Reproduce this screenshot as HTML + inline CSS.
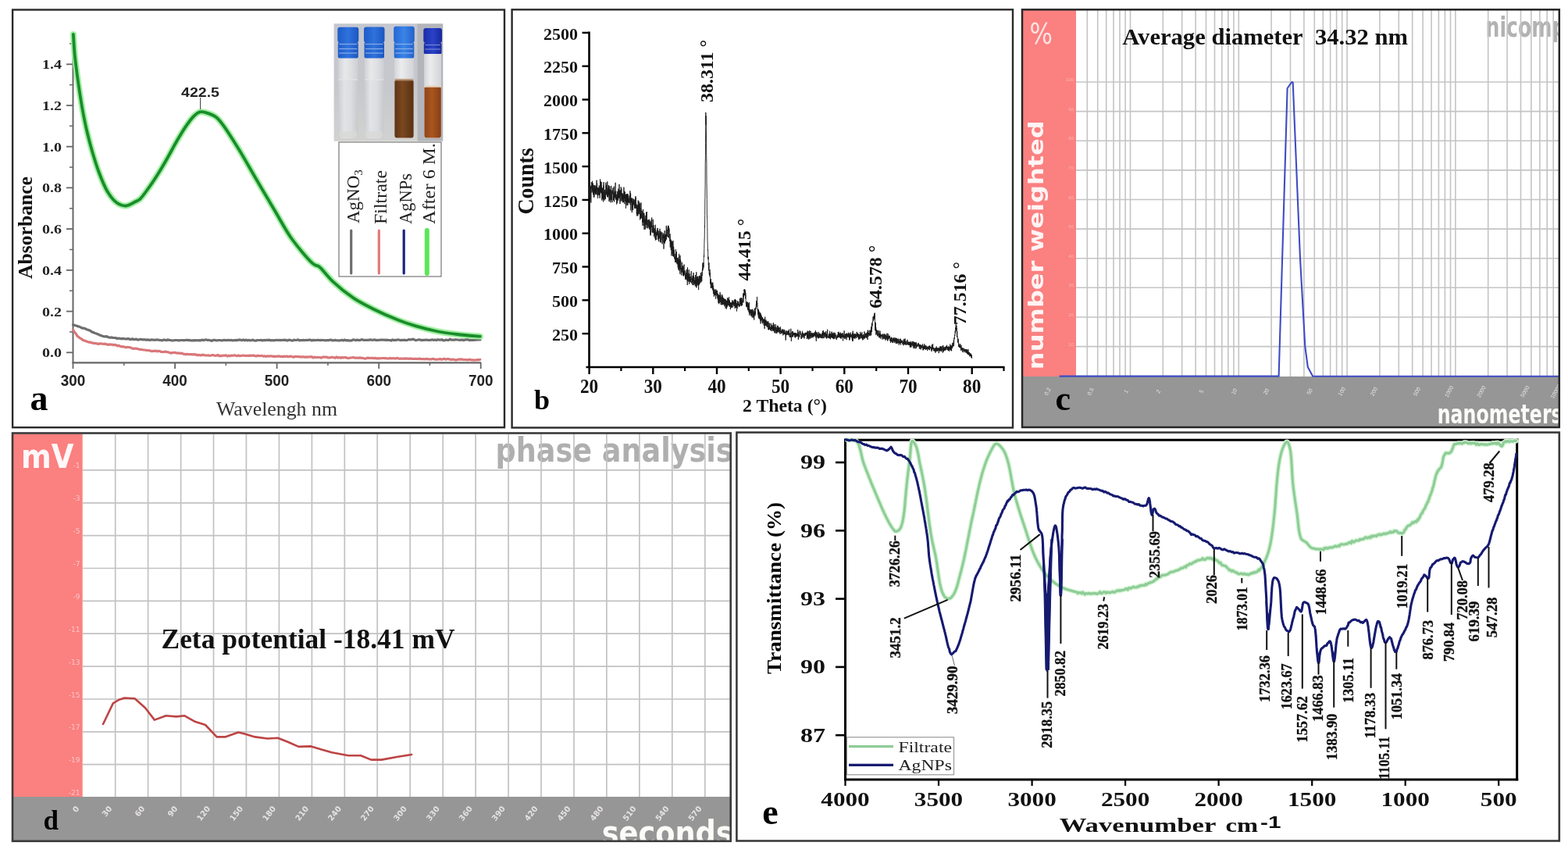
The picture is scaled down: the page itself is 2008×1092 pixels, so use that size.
<!DOCTYPE html><html><head><meta charset="utf-8"><title>Figure</title><style>html,body{margin:0;padding:0;background:#fff;overflow:hidden;width:2008px;height:1092px;}svg{display:block;}</style></head><body>
<svg width="2008" height="1092" viewBox="0 0 2008 1092">
<rect x="0" y="0" width="2008" height="1092" fill="#fff" stroke="none" stroke-width="0" />
<rect x="16.1" y="12.5" width="629.9" height="534.7" fill="none" stroke="#2a2a2a" stroke-width="2.4" />
<defs><linearGradient id="bgph" x1="0" y1="0" x2="0" y2="1"><stop offset="0" stop-color="#c4c7cf"/><stop offset="0.55" stop-color="#c6c8cc"/><stop offset="1" stop-color="#d2d3d0"/></linearGradient><linearGradient id="vialw" x1="0" y1="0" x2="1" y2="0"><stop offset="0" stop-color="#cccdd1"/><stop offset="0.3" stop-color="#e2e3e6"/><stop offset="0.65" stop-color="#dcdde0"/><stop offset="1" stop-color="#c8c9cd"/></linearGradient><linearGradient id="vialt" x1="0" y1="0" x2="1" y2="0"><stop offset="0" stop-color="#d4d5d9"/><stop offset="0.35" stop-color="#ececee"/><stop offset="1" stop-color="#d2d3d7"/></linearGradient><linearGradient id="brn1" x1="0" y1="0" x2="1" y2="0"><stop offset="0" stop-color="#5e3414"/><stop offset="0.4" stop-color="#7a4820"/><stop offset="1" stop-color="#5a3012"/></linearGradient><linearGradient id="brn2" x1="0" y1="0" x2="1" y2="0"><stop offset="0" stop-color="#8e4418"/><stop offset="0.45" stop-color="#aa5620"/><stop offset="1" stop-color="#883e16"/></linearGradient><linearGradient id="cap1" x1="0" y1="0" x2="1" y2="0"><stop offset="0" stop-color="#1f5cc8"/><stop offset="0.5" stop-color="#2f72dc"/><stop offset="1" stop-color="#1c56c0"/></linearGradient><linearGradient id="cap3" x1="0" y1="0" x2="1" y2="0"><stop offset="0" stop-color="#2468d4"/><stop offset="0.5" stop-color="#3a84e6"/><stop offset="1" stop-color="#2262cc"/></linearGradient><linearGradient id="cap2" x1="0" y1="0" x2="1" y2="0"><stop offset="0" stop-color="#1a2ca8"/><stop offset="0.5" stop-color="#2a42c8"/><stop offset="1" stop-color="#18289c"/></linearGradient><filter id="blurph" x="-5%" y="-5%" width="110%" height="110%"><feGaussianBlur stdDeviation="0.7"/></filter></defs>
<clipPath id="clipph"><rect x="427.6" y="30.3" width="139.7" height="150.5"/></clipPath>
<g clip-path="url(#clipph)"><g filter="url(#blurph)">
<rect x="425.6" y="28.3" width="143.7" height="154.5" fill="url(#bgph)" stroke="none" stroke-width="0" />
<rect x="534.6" y="28.3" width="34.7" height="154.5" fill="#b3b5ba" stroke="none" stroke-width="0" />
<rect x="433.3" y="74" width="25" height="103" fill="url(#vialw)" stroke="none" stroke-width="0" rx="3"/>
<rect x="433.3" y="74" width="25" height="28" fill="url(#vialt)" stroke="none" stroke-width="0" opacity="0.6"/>
<line x1="433.8" y1="102" x2="457.8" y2="102" stroke="#e6e6e8" stroke-width="1.2" />
<rect x="434.3" y="168" width="23" height="8" fill="#d8dad6" stroke="none" stroke-width="0" opacity="0.8" rx="2"/>
<rect x="432.3" y="34.8" width="27" height="19.7" fill="url(#cap1)" stroke="none" stroke-width="0" rx="3"/>
<rect x="432.8" y="54" width="26" height="20.5" fill="url(#cap1)" stroke="none" stroke-width="0" rx="2"/>
<line x1="434.3" y1="56.5" x2="457.3" y2="56.5" stroke="#9cb8ee" stroke-width="1.3" opacity="0.8"/>
<line x1="434.3" y1="62.5" x2="457.3" y2="62.5" stroke="#9cb8ee" stroke-width="1.3" opacity="0.8"/>
<line x1="434.3" y1="68" x2="457.3" y2="68" stroke="#9cb8ee" stroke-width="1.3" opacity="0.8"/>
<rect x="467" y="74" width="24.5" height="103" fill="url(#vialw)" stroke="none" stroke-width="0" rx="3"/>
<rect x="467" y="74" width="24.5" height="28" fill="url(#vialt)" stroke="none" stroke-width="0" opacity="0.6"/>
<line x1="467.5" y1="102" x2="491" y2="102" stroke="#e6e6e8" stroke-width="1.2" />
<rect x="468" y="168" width="22.5" height="8" fill="#d8dad6" stroke="none" stroke-width="0" opacity="0.8" rx="2"/>
<rect x="466" y="34.5" width="26.5" height="20" fill="url(#cap1)" stroke="none" stroke-width="0" rx="3"/>
<rect x="466.5" y="54" width="25.5" height="20.5" fill="url(#cap1)" stroke="none" stroke-width="0" rx="2"/>
<line x1="468" y1="56.5" x2="490.5" y2="56.5" stroke="#9cb8ee" stroke-width="1.3" opacity="0.8"/>
<line x1="468" y1="62.5" x2="490.5" y2="62.5" stroke="#9cb8ee" stroke-width="1.3" opacity="0.8"/>
<line x1="468" y1="68" x2="490.5" y2="68" stroke="#9cb8ee" stroke-width="1.3" opacity="0.8"/>
<rect x="505.2" y="74" width="24.6" height="103" fill="url(#vialw)" stroke="none" stroke-width="0" rx="3"/>
<rect x="505.2" y="74" width="24.6" height="28" fill="url(#vialt)" stroke="none" stroke-width="0" />
<rect x="505.4" y="102" width="24.2" height="74.5" fill="url(#brn1)" stroke="none" stroke-width="0" rx="3"/>
<rect x="505.7" y="100.8" width="23.6" height="2.6" fill="#b89878" stroke="none" stroke-width="0" opacity="0.85"/>
<rect x="504.2" y="33.7" width="26.6" height="20.8" fill="url(#cap3)" stroke="none" stroke-width="0" rx="3"/>
<rect x="504.7" y="54" width="25.6" height="20.5" fill="url(#cap3)" stroke="none" stroke-width="0" rx="2"/>
<line x1="506.2" y1="56.5" x2="528.8" y2="56.5" stroke="#9cb8ee" stroke-width="1.3" opacity="0.8"/>
<line x1="506.2" y1="62.5" x2="528.8" y2="62.5" stroke="#9cb8ee" stroke-width="1.3" opacity="0.8"/>
<line x1="506.2" y1="68" x2="528.8" y2="68" stroke="#9cb8ee" stroke-width="1.3" opacity="0.8"/>
<rect x="543.3" y="69" width="21.7" height="108" fill="url(#vialw)" stroke="none" stroke-width="0" rx="3"/>
<rect x="543.3" y="69" width="21.7" height="41.5" fill="url(#vialt)" stroke="none" stroke-width="0" />
<rect x="543.5" y="110.5" width="21.3" height="66" fill="url(#brn2)" stroke="none" stroke-width="0" rx="3"/>
<rect x="543.8" y="109.3" width="20.7" height="2.6" fill="#ead8c6" stroke="none" stroke-width="0" opacity="0.85"/>
<rect x="542.3" y="35.9" width="23.7" height="19.1" fill="url(#cap2)" stroke="none" stroke-width="0" rx="3"/>
<rect x="542.8" y="55" width="22.7" height="14" fill="url(#cap2)" stroke="none" stroke-width="0" rx="1.5"/>
<line x1="544.3" y1="57.5" x2="564" y2="57.5" stroke="#8a98dc" stroke-width="1.2" opacity="0.8"/>
<line x1="544.3" y1="63" x2="564" y2="63" stroke="#8a98dc" stroke-width="1.2" opacity="0.8"/>
</g></g>
<rect x="434" y="182" width="131" height="172" fill="#fff" stroke="#777" stroke-width="1.2" />
<line x1="449.7" y1="295" x2="449.7" y2="350" stroke="#6d6d6d" stroke-width="3.2" stroke-linecap="round"/>
<line x1="485.3" y1="295" x2="485.3" y2="350" stroke="#e07a7a" stroke-width="3.2" stroke-linecap="round"/>
<line x1="517.2" y1="295" x2="517.2" y2="350" stroke="#1a237e" stroke-width="3.2" stroke-linecap="round"/>
<line x1="546.8" y1="295" x2="546.8" y2="350" stroke="#5ae65a" stroke-width="6" stroke-linecap="round"/>
<text transform="translate(459.5,286) rotate(-90)" font-family="'Liberation Serif','Times New Roman',serif" font-size="23" font-weight="normal" fill="#222" text-anchor="start">AgNO<tspan font-size="15" dy="4">3</tspan></text>
<text transform="translate(495,287) rotate(-90)" font-family="'Liberation Serif','Times New Roman',serif" font-size="23" font-weight="normal" fill="#222" text-anchor="start" textLength="69" lengthAdjust="spacingAndGlyphs">Filtrate</text>
<text transform="translate(527,287) rotate(-90)" font-family="'Liberation Serif','Times New Roman',serif" font-size="23" font-weight="normal" fill="#222" text-anchor="start" textLength="65" lengthAdjust="spacingAndGlyphs">AgNPs</text>
<text transform="translate(557,287) rotate(-90)" font-family="'Liberation Serif','Times New Roman',serif" font-size="23" font-weight="normal" fill="#222" text-anchor="start" textLength="104" lengthAdjust="spacingAndGlyphs">After 6 M.</text>
<line x1="93.5" y1="43" x2="93.5" y2="465" stroke="#666" stroke-width="2" />
<line x1="92.5" y1="464.3" x2="616" y2="464.3" stroke="#666" stroke-width="2.2" />
<line x1="85" y1="451.3" x2="93.5" y2="451.3" stroke="#666" stroke-width="1.8" />
<text x="79" y="457.3" font-family="'Liberation Serif','Times New Roman',serif" font-size="17" font-weight="bold" fill="#222" text-anchor="end" textLength="25" lengthAdjust="spacingAndGlyphs">0.0</text>
<line x1="89" y1="424.9" x2="93.5" y2="424.9" stroke="#666" stroke-width="1.5" />
<line x1="85" y1="398.6" x2="93.5" y2="398.6" stroke="#666" stroke-width="1.8" />
<text x="79" y="404.6" font-family="'Liberation Serif','Times New Roman',serif" font-size="17" font-weight="bold" fill="#222" text-anchor="end" textLength="25" lengthAdjust="spacingAndGlyphs">0.2</text>
<line x1="89" y1="372.2" x2="93.5" y2="372.2" stroke="#666" stroke-width="1.5" />
<line x1="85" y1="345.9" x2="93.5" y2="345.9" stroke="#666" stroke-width="1.8" />
<text x="79" y="351.9" font-family="'Liberation Serif','Times New Roman',serif" font-size="17" font-weight="bold" fill="#222" text-anchor="end" textLength="25" lengthAdjust="spacingAndGlyphs">0.4</text>
<line x1="89" y1="319.5" x2="93.5" y2="319.5" stroke="#666" stroke-width="1.5" />
<line x1="85" y1="293.1" x2="93.5" y2="293.1" stroke="#666" stroke-width="1.8" />
<text x="79" y="299.1" font-family="'Liberation Serif','Times New Roman',serif" font-size="17" font-weight="bold" fill="#222" text-anchor="end" textLength="25" lengthAdjust="spacingAndGlyphs">0.6</text>
<line x1="89" y1="266.8" x2="93.5" y2="266.8" stroke="#666" stroke-width="1.5" />
<line x1="85" y1="240.4" x2="93.5" y2="240.4" stroke="#666" stroke-width="1.8" />
<text x="79" y="246.4" font-family="'Liberation Serif','Times New Roman',serif" font-size="17" font-weight="bold" fill="#222" text-anchor="end" textLength="25" lengthAdjust="spacingAndGlyphs">0.8</text>
<line x1="89" y1="214.1" x2="93.5" y2="214.1" stroke="#666" stroke-width="1.5" />
<line x1="85" y1="187.7" x2="93.5" y2="187.7" stroke="#666" stroke-width="1.8" />
<text x="79" y="193.7" font-family="'Liberation Serif','Times New Roman',serif" font-size="17" font-weight="bold" fill="#222" text-anchor="end" textLength="25" lengthAdjust="spacingAndGlyphs">1.0</text>
<line x1="89" y1="161.3" x2="93.5" y2="161.3" stroke="#666" stroke-width="1.5" />
<line x1="85" y1="135" x2="93.5" y2="135" stroke="#666" stroke-width="1.8" />
<text x="79" y="141" font-family="'Liberation Serif','Times New Roman',serif" font-size="17" font-weight="bold" fill="#222" text-anchor="end" textLength="25" lengthAdjust="spacingAndGlyphs">1.2</text>
<line x1="89" y1="108.6" x2="93.5" y2="108.6" stroke="#666" stroke-width="1.5" />
<line x1="85" y1="82.3" x2="93.5" y2="82.3" stroke="#666" stroke-width="1.8" />
<text x="79" y="88.3" font-family="'Liberation Serif','Times New Roman',serif" font-size="17" font-weight="bold" fill="#222" text-anchor="end" textLength="25" lengthAdjust="spacingAndGlyphs">1.4</text>
<line x1="89" y1="55.9" x2="93.5" y2="55.9" stroke="#666" stroke-width="1.5" />
<line x1="93.5" y1="464" x2="93.5" y2="472" stroke="#666" stroke-width="1.8" />
<text x="93.5" y="494" font-family="'Liberation Sans',Arial,sans-serif" font-size="20" font-weight="bold" fill="#222" text-anchor="middle" textLength="31.5" lengthAdjust="spacingAndGlyphs">300</text>
<line x1="158.8" y1="464" x2="158.8" y2="468" stroke="#666" stroke-width="1.5" />
<line x1="224.1" y1="464" x2="224.1" y2="472" stroke="#666" stroke-width="1.8" />
<text x="224.1" y="494" font-family="'Liberation Sans',Arial,sans-serif" font-size="20" font-weight="bold" fill="#222" text-anchor="middle" textLength="31.5" lengthAdjust="spacingAndGlyphs">400</text>
<line x1="289.3" y1="464" x2="289.3" y2="468" stroke="#666" stroke-width="1.5" />
<line x1="354.6" y1="464" x2="354.6" y2="472" stroke="#666" stroke-width="1.8" />
<text x="354.6" y="494" font-family="'Liberation Sans',Arial,sans-serif" font-size="20" font-weight="bold" fill="#222" text-anchor="middle" textLength="31.5" lengthAdjust="spacingAndGlyphs">500</text>
<line x1="419.9" y1="464" x2="419.9" y2="468" stroke="#666" stroke-width="1.5" />
<line x1="485.2" y1="464" x2="485.2" y2="472" stroke="#666" stroke-width="1.8" />
<text x="485.2" y="494" font-family="'Liberation Sans',Arial,sans-serif" font-size="20" font-weight="bold" fill="#222" text-anchor="middle" textLength="31.5" lengthAdjust="spacingAndGlyphs">600</text>
<line x1="550.4" y1="464" x2="550.4" y2="468" stroke="#666" stroke-width="1.5" />
<line x1="615.7" y1="464" x2="615.7" y2="472" stroke="#666" stroke-width="1.8" />
<text x="615.7" y="494" font-family="'Liberation Sans',Arial,sans-serif" font-size="20" font-weight="bold" fill="#222" text-anchor="middle" textLength="31.5" lengthAdjust="spacingAndGlyphs">700</text>
<text transform="translate(41,357) rotate(-90)" font-family="'Liberation Serif','Times New Roman',serif" font-size="25" font-weight="bold" fill="#111" text-anchor="start" textLength="131" lengthAdjust="spacingAndGlyphs">Absorbance</text>
<text x="277" y="531.8" font-family="'Liberation Serif','Times New Roman',serif" font-size="26" font-weight="normal" fill="#333" text-anchor="start" textLength="155" lengthAdjust="spacingAndGlyphs">Wavelengh nm</text>
<text x="38.5" y="525" font-family="'Liberation Serif','Times New Roman',serif" font-size="46" font-weight="bold" fill="#000" text-anchor="start">a</text>
<path d="M93.6,415.7 95.2,416.4 96.9,416.8 98.5,417.2 100.2,417.9 101.9,418.3 103.6,419.2 105.2,420.1 106.9,420 108.6,420.5 110.3,421.4 111.9,422 113.5,422.6 115.1,423 116.6,424.1 118.2,425.3 119.7,425.4 121.3,426.5 122.8,426.8 124.5,427.6 126.1,428 127.8,429.1 129.5,429.3 131.2,430.3 132.9,430.7 134.6,431 136.3,430.5 138,431.5 139.7,431.9 141.5,432.3 143.2,431.9 145,432.5 146.7,432.5 148.5,432.7 150.2,433.5 152,433 153.7,433.4 155.5,433.8 157.2,433.4 159,433.7 160.7,433.9 162.5,433.9 164.2,433.6 166,434.1 167.7,434.6 169.5,433.7 171.2,434.6 173,434.4 174.7,434.2 176.5,435.2 178.2,434.8 180,434.2 181.7,434.7 183.5,434.9 185.3,434.7 187,435.1 188.8,434.9 190.5,435.2 192.3,435.5 194,434.8 195.8,435.2 197.5,435 199.3,435.3 201,434.8 202.8,435.1 204.5,435.3 206.3,435.7 208,435.8 209.8,435 211.6,435.2 213.3,435.7 215.1,434.8 216.8,435.4 218.6,435.5 220.3,436 222.1,435.8 223.8,435.5 225.6,435.5 227.3,435.5 229.1,436.1 230.9,435.5 232.6,435.5 234.4,435.7 236.1,435.6 237.9,435.5 239.6,435.2 241.4,435.6 243.1,435.4 244.9,436 246.6,435.8 248.4,435.6 250.1,435.8 251.9,435.5 253.7,436 255.4,435.6 257.2,435.8 258.9,435.1 260.7,435.7 262.4,435 264.2,434.9 265.9,435.5 267.7,435.3 269.4,435.7 271.2,436.4 272.9,435.3 274.7,435.4 276.5,435.7 278.2,435.8 280,435.5 281.7,435.5 283.5,435.8 285.2,435.8 287,435.2 288.7,435.6 290.5,435.6 292.2,435.2 294,435.7 295.8,435.3 297.5,435.9 299.3,435.7 301,435.6 302.8,435.4 304.5,435.6 306.3,434.9 308,435.2 309.8,435.7 311.5,434.9 313.3,435.9 315,435 316.8,435.9 318.6,435.3 320.3,435.9 322.1,435.6 323.8,435.1 325.6,436 327.3,436.1 329.1,435.6 330.8,435.5 332.6,435.5 334.3,435.3 336.1,436 337.9,435.4 339.6,435.6 341.4,435.3 343.1,435.4 344.9,435.1 346.6,436 348.4,435.5 350.1,435.9 351.9,435.6 353.6,435.3 355.4,435.5 357.1,435.4 358.9,435.6 360.7,435.4 362.4,435.5 364.2,435.1 365.9,435.3 367.7,436.1 369.4,435.3 371.2,435.2 372.9,435.7 374.7,436.1 376.4,435 378.2,435.5 380,435.3 381.7,434.9 383.5,435.8 385.2,435.5 387,435.6 388.7,435.3 390.5,435.7 392.2,435.3 394,435.5 395.7,435.1 397.5,435.1 399.2,436 401,435.3 402.8,435.6 404.5,435.5 406.3,435.4 408,435.3 409.8,435.7 411.5,435.4 413.3,435.5 415,435.5 416.8,435.9 418.5,435.7 420.3,435.6 422,435.3 423.8,435 425.6,435.8 427.3,435.8 429.1,435.4 430.8,435.7 432.6,435.8 434.3,435.8 436.1,435.8 437.8,435.3 439.6,436 441.3,435 443.1,435.8 444.9,435.6 446.6,435.8 448.4,436.1 450.1,436 451.9,435 453.6,434.9 455.4,435.7 457.1,435.1 458.9,435.4 460.6,435.7 462.4,434.9 464.1,434.7 465.9,435.5 467.7,435.4 469.4,435.3 471.2,435.4 472.9,435.1 474.7,434.9 476.4,435.3 478.2,435.1 479.9,434.8 481.7,435.6 483.4,435.4 485.2,435.5 487,435 488.7,435.1 490.5,435 492.2,435.1 494,435.4 495.7,435.1 497.5,435.5 499.2,435.5 501,436.1 502.7,434.9 504.5,435.6 506.2,435.3 508,435.3 509.8,434.8 511.5,435.2 513.3,435.6 515,435.3 516.8,435.3 518.5,435.2 520.3,435.7 522,435.3 523.8,434.5 525.5,435 527.3,434.6 529,434.1 530.8,435.1 532.6,435.7 534.3,435.3 536.1,434.8 537.8,434.9 539.6,435.6 541.3,435.3 543.1,435.3 544.8,435.2 546.6,435.2 548.3,435.5 550.1,435.4 551.9,435.3 553.6,434.8 555.4,435.4 557.1,435 558.9,435.6 560.6,434.7 562.4,435.1 564.1,435.2 565.9,434.7 567.6,435.8 569.4,435.7 571.1,435 572.9,435.4 574.7,435.3 576.4,434.2 578.2,435.2 579.9,435.1 581.7,435.1 583.4,434.7 585.2,435 586.9,435 588.7,435.5 590.4,435.2 592.2,435.1 594,435.6 595.7,434.9 597.5,434.9 599.2,434.4 601,435.6 602.7,435.4 604.5,435.4 606.2,435.3 608,435.1 609.7,435.1 611.5,434.9 613.2,434.9 615,435" fill="none" stroke="#6e6e6e" stroke-width="3.2" stroke-linejoin="round" stroke-linecap="round" />
<path d="M93.6,422.4 94.5,423.7 95.4,425 96.4,426.3 97.5,427.6 98.6,429.7 99.8,430.7 101.1,431.8 102.5,432.9 103.9,433.6 105.4,434.8 106.9,435.8 108.5,436.1 110.2,436.8 111.9,437.4 113.6,438.1 115.4,438 117.1,438.8 118.9,438.9 120.6,439.7 122.3,439.3 124.1,439.9 125.9,440.4 127.6,439.9 129.4,439.9 131.2,440.2 133,440.3 134.7,440.1 136.5,440.7 138.3,441.4 140,440.8 141.8,441.1 143.5,441 145.3,441.7 147,441.4 148.8,441.8 150.5,442.9 152.3,442.4 154,443.4 155.8,443.8 157.5,443.7 159.2,444.1 161,444.8 162.7,444.4 164.5,444.5 166.2,444.6 168,445.4 169.7,446.2 171.4,446.4 173.2,446 174.9,446.3 176.7,446.7 178.4,447.3 180.2,447.3 181.9,447.7 183.7,448 185.4,448 187.2,448.3 188.9,448.5 190.7,448.6 192.4,449 194.2,449.7 196,449.4 197.7,449.4 199.5,449 201.2,449.9 203,449.2 204.8,449.6 206.5,450.5 208.3,450.6 210.1,450.5 211.8,450.1 213.6,450.7 215.3,450.8 217.1,451.4 218.9,452.1 220.6,451.6 222.4,451.4 224.2,451.4 225.9,451.9 227.7,452.1 229.4,451.9 231.2,452.5 233,452.2 234.7,453.2 236.5,453.4 238.3,453.6 240,453.2 241.8,453.7 243.5,453.6 245.3,453.7 247.1,453.9 248.8,453.7 250.6,453.8 252.4,454.7 254.1,454.4 255.9,454.7 257.6,455 259.4,454.1 261.2,454.5 262.9,454.9 264.7,455 266.5,454.8 268.2,455.3 270,455 271.8,454.6 273.5,454.7 275.3,455.3 277.1,455.2 278.8,454.4 280.6,455.6 282.4,455.3 284.1,455.6 285.9,455 287.7,455.1 289.5,454.8 291.2,456.1 293,455.2 294.8,455.8 296.5,455 298.3,455.3 300.1,454.7 301.8,455.2 303.6,455.7 305.4,454.9 307.1,455.7 308.9,455.5 310.7,455 312.5,455.2 314.2,455.3 316,455.4 317.8,455.3 319.5,455.2 321.3,455.4 323.1,455.2 324.8,455.1 326.6,455.6 328.4,456 330.1,455.1 331.9,455.7 333.7,455.5 335.4,455.4 337.2,456.1 339,455.7 340.7,456.4 342.5,455.7 344.3,456.1 346,455.9 347.8,455.8 349.6,456.3 351.4,456.1 353.1,456.4 354.9,456.2 356.7,455.9 358.4,456.3 360.2,456.4 362,456.7 363.7,456.1 365.5,456.5 367.3,455.9 369,456.8 370.8,456.3 372.6,456 374.3,456.7 376.1,457.2 377.9,456.3 379.6,456.5 381.4,456.6 383.2,456.5 384.9,457.1 386.7,456.7 388.5,456.8 390.2,457.3 392,456.9 393.8,457.3 395.5,456.9 397.3,456.8 399.1,456.6 400.9,458 402.6,457.2 404.4,457.5 406.2,457.4 407.9,457.5 409.7,457.5 411.5,458.2 413.2,457.2 415,457 416.8,457.2 418.5,457.2 420.3,457.9 422.1,458 423.8,457.4 425.6,457.3 427.4,457.7 429.1,458.3 430.9,456.9 432.7,458.1 434.4,457.5 436.2,458.3 438,457.6 439.8,457.9 441.5,457.5 443.3,457.7 445.1,458.5 446.8,458.4 448.6,458 450.4,457.8 452.1,457.5 453.9,458.1 455.7,458.2 457.4,458.2 459.2,458.3 461,457.9 462.7,458.3 464.5,458.4 466.3,458.8 468,459.1 469.8,458.4 471.6,458.2 473.3,458.5 475.1,458.3 476.9,458.3 478.7,458.6 480.4,458.3 482.2,458.9 484,458.6 485.7,458.8 487.5,458.7 489.3,458.5 491,458.5 492.8,458.7 494.6,458.6 496.3,459 498.1,458.9 499.9,458.4 501.6,459 503.4,458.5 505.2,458.8 506.9,458.9 508.7,458.3 510.5,459.1 512.2,459.2 514,459.1 515.8,459 517.6,459.1 519.3,458.9 521.1,459.2 522.9,459.1 524.6,459.3 526.4,458.9 528.2,459.5 529.9,459.4 531.7,459.4 533.5,459.3 535.2,459.7 537,458.9 538.8,459.7 540.5,459.6 542.3,459.7 544.1,459.8 545.8,459.4 547.6,459.6 549.4,459.9 551.1,459.9 552.9,459.8 554.7,459.3 556.5,460 558.2,460.2 560,460.2 561.8,460 563.5,459.4 565.3,460.3 567.1,459.9 568.8,459.1 570.6,460.2 572.4,459.5 574.1,459.6 575.9,459.9 577.7,460.6 579.4,460 581.2,460.3 583,460.8 584.7,460.8 586.5,460.2 588.3,460.2 590,459.9 591.8,460.1 593.6,460.5 595.4,460.5 597.1,460.5 598.9,460.8 600.7,460.2 602.4,460.5 604.2,460.8 606,460.8 607.7,461 609.5,460.8 611.3,460.5 613,460.8 614.8,460.3" fill="none" stroke="#d9777a" stroke-width="3.2" stroke-linejoin="round" stroke-linecap="round" />
<path d="M93.9,44.0 C94.0,45.6 94.9,61.4 95.7,70.0 C96.5,78.4 97.6,86.7 98.7,95.0 C99.8,103.3 101.0,111.7 102.3,120.0 C103.6,128.3 104.9,136.7 106.5,145.0 C108.1,153.4 109.8,161.7 111.8,170.0 C113.8,178.4 116.0,186.7 118.4,195.0 C120.9,203.4 123.3,211.7 126.5,220.0 C129.7,228.5 133.3,238.2 137.6,245.2 C141.1,250.9 145.1,256.5 149.5,259.5 C153.1,262.0 157.5,263.7 161.4,263.5 C165.4,263.3 170.0,260.0 173.3,258.3 C175.7,257.1 177.2,256.7 179.3,254.8 C182.9,251.6 187.3,244.7 191.2,239.3 C195.3,233.6 199.2,227.6 203.1,221.4 C207.2,214.9 211.1,208.1 215.0,201.2 C219.0,194.2 222.8,186.7 226.9,179.8 C230.8,173.2 234.9,166.2 238.8,160.7 C241.9,156.2 244.8,152.0 248.0,149.0 C250.5,146.6 252.9,144.1 255.8,143.4 C258.6,142.7 261.8,143.7 265.0,144.6 C268.9,145.8 273.1,146.9 277.4,150.5 C285.1,156.9 294.3,173.1 302.3,185.5 C310.9,198.8 318.9,213.7 327.2,227.8 C335.5,241.9 344.1,256.6 352.1,270.0 C359.4,282.2 365.2,293.9 373.1,305.0 C381.1,316.1 394.4,331.8 399.7,336.6 C401.6,338.3 402.6,338.8 404.0,339.5 C405.2,340.1 406.5,340.0 407.6,340.6 C408.8,341.3 409.5,342.1 411.0,343.5 C414.3,346.7 420.2,354.6 426.2,360.3 C433.6,367.3 443.7,375.5 452.8,381.6 C461.4,387.4 470.5,391.7 479.4,396.2 C488.2,400.6 497.0,404.5 505.9,408.1 C514.7,411.6 523.6,414.7 532.5,417.4 C541.3,420.0 550.1,422.2 559.0,424.0 C567.8,425.8 576.5,426.9 585.6,428.0 C595.1,429.2 613.0,430.5 614.8,430.7" fill="none" stroke="#98ee98" stroke-width="8" stroke-linejoin="round" stroke-linecap="round" opacity="0.9"/>
<path d="M93.9,44.0 C94.0,45.6 94.9,61.4 95.7,70.0 C96.5,78.4 97.6,86.7 98.7,95.0 C99.8,103.3 101.0,111.7 102.3,120.0 C103.6,128.3 104.9,136.7 106.5,145.0 C108.1,153.4 109.8,161.7 111.8,170.0 C113.8,178.4 116.0,186.7 118.4,195.0 C120.9,203.4 123.3,211.7 126.5,220.0 C129.7,228.5 133.3,238.2 137.6,245.2 C141.1,250.9 145.1,256.5 149.5,259.5 C153.1,262.0 157.5,263.7 161.4,263.5 C165.4,263.3 170.0,260.0 173.3,258.3 C175.7,257.1 177.2,256.7 179.3,254.8 C182.9,251.6 187.3,244.7 191.2,239.3 C195.3,233.6 199.2,227.6 203.1,221.4 C207.2,214.9 211.1,208.1 215.0,201.2 C219.0,194.2 222.8,186.7 226.9,179.8 C230.8,173.2 234.9,166.2 238.8,160.7 C241.9,156.2 244.8,152.0 248.0,149.0 C250.5,146.6 252.9,144.1 255.8,143.4 C258.6,142.7 261.8,143.7 265.0,144.6 C268.9,145.8 273.1,146.9 277.4,150.5 C285.1,156.9 294.3,173.1 302.3,185.5 C310.9,198.8 318.9,213.7 327.2,227.8 C335.5,241.9 344.1,256.6 352.1,270.0 C359.4,282.2 365.2,293.9 373.1,305.0 C381.1,316.1 394.4,331.8 399.7,336.6 C401.6,338.3 402.6,338.8 404.0,339.5 C405.2,340.1 406.5,340.0 407.6,340.6 C408.8,341.3 409.5,342.1 411.0,343.5 C414.3,346.7 420.2,354.6 426.2,360.3 C433.6,367.3 443.7,375.5 452.8,381.6 C461.4,387.4 470.5,391.7 479.4,396.2 C488.2,400.6 497.0,404.5 505.9,408.1 C514.7,411.6 523.6,414.7 532.5,417.4 C541.3,420.0 550.1,422.2 559.0,424.0 C567.8,425.8 576.5,426.9 585.6,428.0 C595.1,429.2 613.0,430.5 614.8,430.7" fill="none" stroke="#1a8c2c" stroke-width="3.8" stroke-linejoin="round" stroke-linecap="round" />
<line x1="256.6" y1="125" x2="256.6" y2="140" stroke="#555" stroke-width="1.2" />
<text x="256.5" y="123.8" font-family="'Liberation Sans',Arial,sans-serif" font-size="17" font-weight="bold" fill="#222" text-anchor="middle" textLength="49" lengthAdjust="spacingAndGlyphs">422.5</text>
<rect x="655.6" y="12.3" width="641.4" height="535.2" fill="none" stroke="#2a2a2a" stroke-width="2.4" />
<line x1="754.5" y1="40.5" x2="754.5" y2="471" stroke="#000" stroke-width="2.6" />
<line x1="750.5" y1="470" x2="1286.5" y2="470" stroke="#000" stroke-width="2.6" />
<line x1="745.5" y1="427.1" x2="754.5" y2="427.1" stroke="#000" stroke-width="2.4" />
<text x="740" y="435.7" font-family="'Liberation Serif','Times New Roman',serif" font-size="22" font-weight="bold" fill="#111" text-anchor="end" textLength="33" lengthAdjust="spacingAndGlyphs">250</text>
<line x1="745.5" y1="384.3" x2="754.5" y2="384.3" stroke="#000" stroke-width="2.4" />
<text x="740" y="392.9" font-family="'Liberation Serif','Times New Roman',serif" font-size="22" font-weight="bold" fill="#111" text-anchor="end" textLength="33" lengthAdjust="spacingAndGlyphs">500</text>
<line x1="745.5" y1="341.5" x2="754.5" y2="341.5" stroke="#000" stroke-width="2.4" />
<text x="740" y="350.1" font-family="'Liberation Serif','Times New Roman',serif" font-size="22" font-weight="bold" fill="#111" text-anchor="end" textLength="33" lengthAdjust="spacingAndGlyphs">750</text>
<line x1="745.5" y1="298.7" x2="754.5" y2="298.7" stroke="#000" stroke-width="2.4" />
<text x="740" y="307.3" font-family="'Liberation Serif','Times New Roman',serif" font-size="22" font-weight="bold" fill="#111" text-anchor="end" textLength="44" lengthAdjust="spacingAndGlyphs">1000</text>
<line x1="745.5" y1="255.9" x2="754.5" y2="255.9" stroke="#000" stroke-width="2.4" />
<text x="740" y="264.5" font-family="'Liberation Serif','Times New Roman',serif" font-size="22" font-weight="bold" fill="#111" text-anchor="end" textLength="44" lengthAdjust="spacingAndGlyphs">1250</text>
<line x1="745.5" y1="213.1" x2="754.5" y2="213.1" stroke="#000" stroke-width="2.4" />
<text x="740" y="221.7" font-family="'Liberation Serif','Times New Roman',serif" font-size="22" font-weight="bold" fill="#111" text-anchor="end" textLength="44" lengthAdjust="spacingAndGlyphs">1500</text>
<line x1="745.5" y1="170.3" x2="754.5" y2="170.3" stroke="#000" stroke-width="2.4" />
<text x="740" y="178.9" font-family="'Liberation Serif','Times New Roman',serif" font-size="22" font-weight="bold" fill="#111" text-anchor="end" textLength="44" lengthAdjust="spacingAndGlyphs">1750</text>
<line x1="745.5" y1="127.5" x2="754.5" y2="127.5" stroke="#000" stroke-width="2.4" />
<text x="740" y="136.1" font-family="'Liberation Serif','Times New Roman',serif" font-size="22" font-weight="bold" fill="#111" text-anchor="end" textLength="44" lengthAdjust="spacingAndGlyphs">2000</text>
<line x1="745.5" y1="84.7" x2="754.5" y2="84.7" stroke="#000" stroke-width="2.4" />
<text x="740" y="93.3" font-family="'Liberation Serif','Times New Roman',serif" font-size="22" font-weight="bold" fill="#111" text-anchor="end" textLength="44" lengthAdjust="spacingAndGlyphs">2250</text>
<line x1="745.5" y1="41.9" x2="754.5" y2="41.9" stroke="#000" stroke-width="2.4" />
<text x="740" y="50.5" font-family="'Liberation Serif','Times New Roman',serif" font-size="22" font-weight="bold" fill="#111" text-anchor="end" textLength="44" lengthAdjust="spacingAndGlyphs">2500</text>
<line x1="754.6" y1="470" x2="754.6" y2="479" stroke="#000" stroke-width="2.4" />
<text x="754.6" y="503.3" font-family="'Liberation Serif','Times New Roman',serif" font-size="25" font-weight="bold" fill="#111" text-anchor="middle" textLength="23.2" lengthAdjust="spacingAndGlyphs">20</text>
<line x1="795.4" y1="470" x2="795.4" y2="475" stroke="#000" stroke-width="2.2" />
<line x1="836.3" y1="470" x2="836.3" y2="479" stroke="#000" stroke-width="2.4" />
<text x="836.3" y="503.3" font-family="'Liberation Serif','Times New Roman',serif" font-size="25" font-weight="bold" fill="#111" text-anchor="middle" textLength="23.2" lengthAdjust="spacingAndGlyphs">30</text>
<line x1="877.1" y1="470" x2="877.1" y2="475" stroke="#000" stroke-width="2.2" />
<line x1="918" y1="470" x2="918" y2="479" stroke="#000" stroke-width="2.4" />
<text x="918" y="503.3" font-family="'Liberation Serif','Times New Roman',serif" font-size="25" font-weight="bold" fill="#111" text-anchor="middle" textLength="23.2" lengthAdjust="spacingAndGlyphs">40</text>
<line x1="958.8" y1="470" x2="958.8" y2="475" stroke="#000" stroke-width="2.2" />
<line x1="999.6" y1="470" x2="999.6" y2="479" stroke="#000" stroke-width="2.4" />
<text x="999.6" y="503.3" font-family="'Liberation Serif','Times New Roman',serif" font-size="25" font-weight="bold" fill="#111" text-anchor="middle" textLength="23.2" lengthAdjust="spacingAndGlyphs">50</text>
<line x1="1040.5" y1="470" x2="1040.5" y2="475" stroke="#000" stroke-width="2.2" />
<line x1="1081.3" y1="470" x2="1081.3" y2="479" stroke="#000" stroke-width="2.4" />
<text x="1081.3" y="503.3" font-family="'Liberation Serif','Times New Roman',serif" font-size="25" font-weight="bold" fill="#111" text-anchor="middle" textLength="23.2" lengthAdjust="spacingAndGlyphs">60</text>
<line x1="1122.2" y1="470" x2="1122.2" y2="475" stroke="#000" stroke-width="2.2" />
<line x1="1163" y1="470" x2="1163" y2="479" stroke="#000" stroke-width="2.4" />
<text x="1163" y="503.3" font-family="'Liberation Serif','Times New Roman',serif" font-size="25" font-weight="bold" fill="#111" text-anchor="middle" textLength="23.2" lengthAdjust="spacingAndGlyphs">70</text>
<line x1="1203.8" y1="470" x2="1203.8" y2="475" stroke="#000" stroke-width="2.2" />
<line x1="1244.7" y1="470" x2="1244.7" y2="479" stroke="#000" stroke-width="2.4" />
<text x="1244.7" y="503.3" font-family="'Liberation Serif','Times New Roman',serif" font-size="25" font-weight="bold" fill="#111" text-anchor="middle" textLength="23.2" lengthAdjust="spacingAndGlyphs">80</text>
<line x1="1285.5" y1="470" x2="1285.5" y2="475" stroke="#000" stroke-width="2.2" />
<text transform="translate(683,274.5) rotate(-90)" font-family="'Liberation Serif','Times New Roman',serif" font-size="29" font-weight="bold" fill="#111" text-anchor="start" textLength="85" lengthAdjust="spacingAndGlyphs">Counts</text>
<text x="951" y="526.5" font-family="'Liberation Serif','Times New Roman',serif" font-size="24" font-weight="bold" fill="#111" text-anchor="start" textLength="108" lengthAdjust="spacingAndGlyphs">2 Theta (°)</text>
<text x="684" y="523.5" font-family="'Liberation Serif','Times New Roman',serif" font-size="36" font-weight="bold" fill="#000" text-anchor="start">b</text>
<text transform="translate(912.5,131) rotate(-90)" font-family="'Liberation Serif','Times New Roman',serif" font-size="23" font-weight="bold" fill="#111" text-anchor="start" textLength="80" lengthAdjust="spacingAndGlyphs">38.311 °</text>
<text transform="translate(961,359.6) rotate(-90)" font-family="'Liberation Serif','Times New Roman',serif" font-size="23" font-weight="bold" fill="#111" text-anchor="start" textLength="79.6" lengthAdjust="spacingAndGlyphs">44.415 °</text>
<text transform="translate(1128.5,394.8) rotate(-90)" font-family="'Liberation Serif','Times New Roman',serif" font-size="23" font-weight="bold" fill="#111" text-anchor="start" textLength="81" lengthAdjust="spacingAndGlyphs">64.578 °</text>
<text transform="translate(1237.4,416) rotate(-90)" font-family="'Liberation Serif','Times New Roman',serif" font-size="23" font-weight="bold" fill="#111" text-anchor="start" textLength="81" lengthAdjust="spacingAndGlyphs">77.516 °</text>
<path d="M754.6,252.7 754.7,239.5 754.9,243.3 755.0,241.2 755.2,253.1 755.3,245.2 755.5,246.6 755.6,248.2 755.8,256.4 755.9,245.1 756.1,237.8 756.2,240.8 756.4,246.7 756.5,243.2 756.7,238.7 756.8,259.5 757.0,243.9 757.1,240.0 757.2,239.2 757.4,233.2 757.5,236.5 757.7,241.4 757.8,241.5 758.0,238.6 758.1,246.5 758.3,243.5 758.4,238.0 758.6,231.8 758.7,244.3 758.9,243.7 759.0,242.2 759.2,235.5 759.3,243.6 759.5,234.7 759.6,249.2 759.7,244.6 759.9,244.6 760.0,238.8 760.2,237.3 760.3,252.4 760.5,248.9 760.6,241.6 760.8,247.5 760.9,252.6 761.1,237.4 761.2,240.7 761.4,240.7 761.5,246.4 761.7,237.6 761.8,245.1 762.0,237.2 762.1,249.1 762.2,248.8 762.4,242.5 762.5,247.9 762.7,239.8 762.8,242.2 763.0,249.2 763.1,243.4 763.3,245.9 763.4,238.4 763.6,247.6 763.7,246.4 763.9,236.7 764.0,230.7 764.2,232.1 764.3,243.5 764.5,242.6 764.6,234.9 764.7,244.7 764.9,249.7 765.0,243.3 765.2,241.3 765.3,248.9 765.5,253.8 765.6,252.5 765.8,240.1 765.9,248.6 766.1,244.9 766.2,242.8 766.4,240.5 766.5,246.1 766.7,241.2 766.8,249.4 767.0,246.3 767.1,250.2 767.2,237.5 767.4,244.4 767.5,248.6 767.7,246.3 767.8,245.6 768.0,240.1 768.1,253.7 768.3,250.4 768.4,246.6 768.6,229.4 768.7,238.7 768.9,245.0 769.0,240.2 769.2,232.2 769.3,245.8 769.4,246.6 769.6,237.3 769.7,241.5 769.9,240.5 770.0,247.5 770.2,233.1 770.3,234.4 770.5,241.2 770.6,240.5 770.8,256.5 770.9,240.8 771.1,245.7 771.2,242.0 771.4,240.6 771.5,246.6 771.7,254.6 771.8,242.5 771.9,249.0 772.1,246.6 772.2,248.3 772.4,246.7 772.5,258.4 772.7,237.6 772.8,243.3 773.0,238.2 773.1,233.1 773.3,244.7 773.4,255.4 773.6,250.1 773.7,252.0 773.9,247.8 774.0,244.4 774.2,256.7 774.3,242.9 774.4,253.8 774.6,243.2 774.7,245.6 774.9,246.8 775.0,245.4 775.2,248.2 775.3,248.7 775.5,255.0 775.6,245.3 775.8,234.3 775.9,233.6 776.1,237.5 776.2,241.2 776.4,249.4 776.5,236.9 776.7,245.8 776.8,245.9 776.9,247.3 777.1,245.0 777.2,248.2 777.4,246.2 777.5,252.1 777.7,248.0 777.8,232.4 778.0,246.3 778.1,247.3 778.3,242.8 778.4,241.8 778.6,252.6 778.7,247.3 778.9,240.7 779.0,244.6 779.2,245.5 779.3,237.1 779.4,250.3 779.6,245.8 779.7,249.4 779.9,237.7 780.0,257.9 780.2,250.4 780.3,249.6 780.5,242.7 780.6,243.1 780.8,238.5 780.9,256.0 781.1,242.3 781.2,248.5 781.4,250.8 781.5,243.7 781.7,252.3 781.8,259.2 781.9,249.2 782.1,255.8 782.2,250.9 782.4,245.0 782.5,245.4 782.7,237.9 782.8,248.4 783.0,256.3 783.1,251.8 783.3,252.8 783.4,254.6 783.6,244.9 783.7,251.3 783.9,259.2 784.0,243.5 784.2,248.3 784.3,245.6 784.4,247.1 784.6,244.1 784.7,247.6 784.9,240.6 785.0,245.4 785.2,245.7 785.3,245.6 785.5,256.6 785.6,249.1 785.8,249.7 785.9,247.0 786.1,256.2 786.2,238.7 786.4,247.7 786.5,255.4 786.7,258.4 786.8,250.1 786.9,249.0 787.1,252.7 787.2,248.0 787.4,252.4 787.5,245.4 787.7,252.9 787.8,249.0 788.0,243.1 788.1,233.8 788.3,254.8 788.4,251.6 788.6,253.9 788.7,244.4 788.9,255.8 789.0,251.9 789.2,249.3 789.3,254.9 789.4,254.8 789.6,252.0 789.7,261.6 789.9,257.8 790.0,251.8 790.2,248.6 790.3,250.6 790.5,259.9 790.6,252.3 790.8,244.9 790.9,246.4 791.1,250.2 791.2,254.9 791.4,246.1 791.5,253.2 791.7,256.7 791.8,254.6 791.9,241.5 792.1,248.7 792.2,243.3 792.4,252.9 792.5,244.7 792.7,253.8 792.8,251.3 793.0,235.9 793.1,246.0 793.3,253.5 793.4,251.1 793.6,248.8 793.7,243.7 793.9,253.7 794.0,261.0 794.1,252.6 794.3,250.9 794.4,250.5 794.6,243.5 794.7,249.4 794.9,246.6 795.0,257.8 795.2,246.4 795.3,239.3 795.5,247.1 795.6,250.2 795.8,250.8 795.9,241.4 796.1,257.2 796.2,252.6 796.4,249.3 796.5,247.7 796.6,254.6 796.8,250.4 796.9,253.9 797.1,251.6 797.2,253.1 797.4,259.1 797.5,252.6 797.7,247.5 797.8,258.3 798.0,254.1 798.1,248.9 798.3,259.1 798.4,251.9 798.6,259.1 798.7,246.5 798.9,239.7 799.0,241.5 799.1,254.5 799.3,249.0 799.4,252.7 799.6,252.9 799.7,244.6 799.9,261.2 800.0,247.6 800.2,254.0 800.3,245.7 800.5,252.8 800.6,257.8 800.8,252.4 800.9,249.8 801.1,253.9 801.2,251.4 801.4,257.3 801.5,266.7 801.6,249.2 801.8,250.4 801.9,253.7 802.1,254.2 802.2,248.7 802.4,257.4 802.5,258.9 802.7,256.0 802.8,248.1 803.0,263.0 803.1,248.2 803.3,258.8 803.4,261.6 803.6,248.0 803.7,255.9 803.9,262.9 804.0,257.6 804.1,250.2 804.3,248.8 804.4,258.2 804.6,253.4 804.7,251.7 804.9,259.6 805.0,253.9 805.2,256.3 805.3,259.3 805.5,259.1 805.6,256.0 805.8,256.4 805.9,259.9 806.1,259.2 806.2,250.5 806.4,255.7 806.5,252.0 806.6,250.3 806.8,253.9 806.9,244.4 807.1,262.2 807.2,253.0 807.4,259.6 807.5,247.2 807.7,248.2 807.8,269.3 808.0,263.7 808.1,254.5 808.3,253.9 808.4,254.3 808.6,259.0 808.7,256.1 808.9,255.1 809.0,259.4 809.1,253.2 809.3,272.1 809.4,255.7 809.6,265.3 809.7,254.0 809.9,260.9 810.0,264.8 810.2,257.7 810.3,265.1 810.5,265.3 810.6,269.1 810.8,260.4 810.9,257.6 811.1,254.7 811.2,261.4 811.4,254.8 811.5,260.7 811.6,261.5 811.8,257.8 811.9,255.1 812.1,263.2 812.2,262.8 812.4,262.4 812.5,261.1 812.7,266.8 812.8,256.0 813.0,264.2 813.1,259.4 813.3,266.8 813.4,260.2 813.6,260.1 813.7,264.9 813.9,251.1 814.0,260.6 814.1,252.8 814.3,257.5 814.4,266.8 814.6,265.3 814.7,260.8 814.9,263.0 815.0,263.2 815.2,265.2 815.3,273.9 815.5,265.1 815.6,276.4 815.8,261.9 815.9,268.2 816.1,268.3 816.2,265.6 816.4,262.9 816.5,272.6 816.6,274.5 816.8,270.8 816.9,276.4 817.1,270.6 817.2,256.5 817.4,271.6 817.5,262.3 817.7,274.0 817.8,264.9 818.0,268.7 818.1,267.5 818.3,264.3 818.4,257.9 818.6,267.0 818.7,267.7 818.8,274.1 819.0,265.7 819.1,270.6 819.3,264.9 819.4,270.1 819.6,260.4 819.7,281.4 819.9,272.3 820.0,266.1 820.2,273.2 820.3,276.0 820.5,273.3 820.6,279.8 820.8,271.8 820.9,259.3 821.1,266.7 821.2,279.4 821.3,278.4 821.5,276.2 821.6,268.7 821.8,279.0 821.9,278.6 822.1,270.2 822.2,270.7 822.4,277.7 822.5,282.1 822.7,284.8 822.8,280.4 823.0,289.0 823.1,273.1 823.3,280.9 823.4,275.1 823.6,267.9 823.7,271.9 823.8,284.9 824.0,274.2 824.1,272.9 824.3,283.6 824.4,285.0 824.6,280.7 824.7,289.1 824.9,272.7 825.0,293.9 825.2,287.1 825.3,282.7 825.5,282.7 825.6,280.7 825.8,280.3 825.9,283.1 826.1,275.9 826.2,293.7 826.3,282.4 826.5,286.4 826.6,282.0 826.8,281.7 826.9,287.9 827.1,286.6 827.2,279.1 827.4,281.6 827.5,287.3 827.7,272.9 827.8,271.6 828.0,291.9 828.1,282.7 828.3,271.0 828.4,280.4 828.6,283.6 828.7,286.0 828.8,287.9 829.0,286.4 829.1,288.3 829.3,281.6 829.4,287.8 829.6,288.2 829.7,292.4 829.9,286.4 830.0,291.1 830.2,287.4 830.3,281.1 830.5,284.8 830.6,284.3 830.8,285.2 830.9,287.0 831.1,288.1 831.2,289.2 831.3,283.7 831.5,293.6 831.6,280.9 831.8,288.0 831.9,292.3 832.1,291.1 832.2,292.3 832.4,288.0 832.5,292.8 832.7,283.1 832.8,293.4 833.0,301.5 833.1,293.5 833.3,300.4 833.4,290.2 833.6,284.5 833.7,286.8 833.8,297.5 834.0,294.6 834.1,281.4 834.3,289.2 834.4,291.0 834.6,285.7 834.7,278.5 834.9,284.7 835.0,290.9 835.2,290.0 835.3,288.8 835.5,295.4 835.6,297.9 835.8,292.2 835.9,297.6 836.1,293.1 836.2,292.4 836.3,280.9 836.5,297.7 836.6,294.0 836.8,294.4 836.9,291.4 837.1,288.4 837.2,296.6 837.4,298.5 837.5,302.9 837.7,299.3 837.8,291.9 838.0,294.6 838.1,300.3 838.3,297.1 838.4,295.1 838.6,292.8 838.7,298.6 838.8,297.0 839.0,305.3 839.1,302.0 839.3,287.8 839.4,307.6 839.6,298.2 839.7,295.4 839.9,298.7 840.0,301.0 840.2,297.3 840.3,297.2 840.5,297.7 840.6,307.1 840.8,298.3 840.9,302.1 841.1,300.7 841.2,296.9 841.3,294.9 841.5,293.7 841.6,301.0 841.8,293.8 841.9,292.7 842.1,293.0 842.2,291.9 842.4,299.9 842.5,300.2 842.7,295.2 842.8,306.6 843.0,298.7 843.1,302.6 843.3,301.9 843.4,309.1 843.5,304.9 843.7,300.6 843.8,296.1 844.0,295.7 844.1,301.3 844.3,302.0 844.4,305.4 844.6,299.3 844.7,302.7 844.9,298.5 845.0,292.8 845.2,302.1 845.3,309.7 845.5,306.6 845.6,309.7 845.8,308.6 845.9,296.0 846.0,301.6 846.2,310.6 846.3,299.7 846.5,296.8 846.6,305.1 846.8,306.9 846.9,305.3 847.1,302.3 847.2,300.6 847.4,298.0 847.5,298.0 847.7,298.3 847.8,297.5 848.0,301.2 848.1,312.4 848.3,305.5 848.4,303.4 848.5,307.0 848.7,300.6 848.8,307.2 849.0,310.1 849.1,298.3 849.3,302.4 849.4,304.8 849.6,301.3 849.7,300.8 849.9,304.5 850.0,318.7 850.2,309.6 850.3,308.4 850.5,311.0 850.6,304.9 850.8,299.8 850.9,308.1 851.0,311.3 851.2,295.2 851.3,307.6 851.5,311.4 851.6,303.9 851.8,302.8 851.9,308.4 852.1,300.7 852.2,307.0 852.4,309.0 852.5,303.3 852.7,300.1 852.8,307.0 853.0,301.9 853.1,303.8 853.3,288.8 853.4,306.5 853.5,295.5 853.7,302.5 853.8,302.6 854.0,297.9 854.1,296.7 854.3,294.3 854.4,298.7 854.6,303.0 854.7,302.1 854.9,296.3 855.0,295.4 855.2,290.6 855.3,295.2 855.5,291.4 855.6,288.7 855.8,295.5 855.9,303.9 856.0,302.5 856.2,304.4 856.3,289.5 856.5,302.9 856.6,293.1 856.8,297.3 856.9,292.4 857.1,297.0 857.2,303.4 857.4,304.8 857.5,304.1 857.7,304.4 857.8,308.7 858.0,306.9 858.1,299.4 858.3,316.6 858.4,307.5 858.5,313.9 858.7,309.1 858.8,306.4 859.0,311.4 859.1,307.9 859.3,320.1 859.4,307.3 859.6,316.3 859.7,310.8 859.9,313.4 860.0,327.5 860.2,319.0 860.3,314.8 860.5,308.8 860.6,315.4 860.8,316.1 860.9,324.6 861.0,311.3 861.2,310.0 861.3,319.1 861.5,320.7 861.6,327.9 861.8,316.4 861.9,308.1 862.1,318.0 862.2,315.7 862.4,319.5 862.5,327.1 862.7,316.3 862.8,328.9 863.0,324.3 863.1,322.3 863.3,319.8 863.4,322.3 863.5,322.7 863.7,328.5 863.8,331.3 864.0,325.2 864.1,329.1 864.3,332.3 864.4,332.3 864.6,329.0 864.7,335.7 864.9,333.6 865.0,335.3 865.2,327.0 865.3,326.3 865.5,319.1 865.6,335.8 865.8,332.3 865.9,325.1 866.0,330.7 866.2,331.5 866.3,322.3 866.5,332.1 866.6,336.2 866.8,337.3 866.9,329.9 867.1,330.4 867.2,338.4 867.4,336.9 867.5,330.2 867.7,330.3 867.8,336.2 868.0,330.7 868.1,331.2 868.2,342.3 868.4,335.9 868.5,332.8 868.7,337.6 868.8,345.1 869.0,336.9 869.1,332.5 869.3,329.0 869.4,346.4 869.6,324.9 869.7,342.2 869.9,333.0 870.0,332.1 870.2,333.5 870.3,337.6 870.5,343.8 870.6,336.0 870.7,342.4 870.9,350.8 871.0,327.0 871.2,336.8 871.3,332.2 871.5,344.7 871.6,334.3 871.8,334.1 871.9,334.6 872.1,341.9 872.2,347.4 872.4,343.1 872.5,352.4 872.7,350.5 872.8,342.8 873.0,347.9 873.1,344.5 873.2,344.6 873.4,335.9 873.5,339.0 873.7,345.2 873.8,340.0 874.0,349.0 874.1,347.3 874.3,342.2 874.4,351.9 874.6,348.0 874.7,352.8 874.9,346.8 875.0,340.5 875.2,351.0 875.3,346.9 875.5,352.0 875.6,353.2 875.7,353.7 875.9,342.2 876.0,338.5 876.2,346.8 876.3,352.1 876.5,346.1 876.6,350.8 876.8,346.0 876.9,348.4 877.1,348.6 877.2,347.3 877.4,352.6 877.5,352.0 877.7,357.8 877.8,352.5 878.0,356.8 878.1,351.5 878.2,355.1 878.4,350.8 878.5,349.4 878.7,357.6 878.8,355.1 879.0,355.8 879.1,348.8 879.3,344.8 879.4,348.6 879.6,353.9 879.7,346.3 879.9,359.2 880.0,346.5 880.2,355.8 880.3,365.0 880.5,342.1 880.6,346.8 880.7,358.0 880.9,353.1 881.0,354.9 881.2,353.7 881.3,360.5 881.5,357.3 881.6,352.6 881.8,353.8 881.9,349.8 882.1,354.7 882.2,345.3 882.4,358.3 882.5,354.4 882.7,363.7 882.8,361.0 883.0,350.4 883.1,360.0 883.2,354.0 883.4,356.6 883.5,360.9 883.7,358.1 883.8,359.0 884.0,359.0 884.1,354.0 884.3,354.6 884.4,359.8 884.6,361.4 884.7,356.6 884.9,358.3 885.0,353.7 885.2,347.1 885.3,354.8 885.5,358.6 885.6,359.3 885.7,362.3 885.9,362.7 886.0,363.2 886.2,360.8 886.3,361.1 886.5,356.4 886.6,361.3 886.8,360.6 886.9,364.9 887.1,353.2 887.2,357.9 887.4,352.7 887.5,356.8 887.7,354.0 887.8,361.2 888.0,357.2 888.1,349.0 888.2,365.2 888.4,355.4 888.5,353.3 888.7,358.5 888.8,357.1 889.0,355.0 889.1,363.1 889.3,358.6 889.4,364.0 889.6,363.2 889.7,363.0 889.9,361.0 890.0,359.8 890.2,358.5 890.3,366.4 890.5,352.1 890.6,355.6 890.7,357.4 890.9,362.0 891.0,360.9 891.2,358.2 891.3,358.8 891.5,367.6 891.6,357.4 891.8,348.3 891.9,368.3 892.1,356.3 892.2,359.0 892.4,361.0 892.5,354.7 892.7,365.5 892.8,359.8 892.9,354.3 893.1,361.3 893.2,362.2 893.4,359.9 893.5,362.3 893.7,353.8 893.8,364.2 894.0,356.6 894.1,365.6 894.3,357.4 894.4,360.6 894.6,371.1 894.7,360.1 894.9,364.5 895.0,361.9 895.2,353.4 895.3,364.6 895.4,364.2 895.6,353.6 895.7,359.1 895.9,352.9 896.0,358.0 896.2,363.0 896.3,359.4 896.5,353.8 896.6,354.9 896.8,358.7 896.9,358.3 897.1,358.8 897.2,360.4 897.4,349.2 897.5,357.0 897.7,361.5 897.8,358.2 897.9,352.6 898.1,352.4 898.2,355.3 898.4,357.1 898.5,353.5 898.7,360.3 898.8,358.0 899.0,348.1 899.1,353.0 899.3,348.4 899.4,343.8 899.6,345.4 899.7,347.2 899.9,336.7 900.0,342.1 900.2,345.4 900.3,339.1 900.4,339.1 900.6,343.2 900.7,337.1 900.9,336.1 901.0,342.4 901.2,331.4 901.3,329.1 901.5,326.7 901.6,329.0 901.8,318.5 901.9,312.2 902.1,305.9 902.2,306.0 902.4,289.2 902.5,290.7 902.7,275.3 902.8,254.8 902.9,253.3 903.1,237.2 903.2,210.5 903.4,202.1 903.5,183.5 903.7,163.3 903.8,143.9 904.0,159.6 904.1,148.3 904.3,155.2 904.4,167.3 904.6,181.1 904.7,198.5 904.9,208.8 905.0,233.3 905.2,242.8 905.3,255.3 905.4,274.1 905.6,279.9 905.7,281.1 905.9,296.2 906.0,308.1 906.2,311.1 906.3,320.5 906.5,319.2 906.6,320.3 906.8,331.9 906.9,332.1 907.1,328.7 907.2,338.7 907.4,337.8 907.5,345.3 907.7,346.2 907.8,346.5 907.9,336.2 908.1,348.9 908.2,350.7 908.4,352.1 908.5,351.5 908.7,349.0 908.8,352.0 909.0,345.0 909.1,353.7 909.3,349.3 909.4,355.0 909.6,354.3 909.7,363.6 909.9,358.8 910.0,359.1 910.2,360.5 910.3,368.9 910.4,357.0 910.6,362.7 910.7,363.4 910.9,363.2 911.0,363.6 911.2,361.5 911.3,368.7 911.5,367.8 911.6,363.3 911.8,364.3 911.9,366.8 912.1,368.0 912.2,369.4 912.4,366.7 912.5,362.2 912.7,371.5 912.8,361.6 912.9,364.6 913.1,370.1 913.2,365.6 913.4,374.8 913.5,376.2 913.7,374.8 913.8,371.7 914.0,371.6 914.1,372.7 914.3,370.6 914.4,379.7 914.6,369.7 914.7,377.4 914.9,374.6 915.0,373.9 915.2,377.0 915.3,378.1 915.4,376.9 915.6,373.3 915.7,371.2 915.9,371.5 916.0,377.8 916.2,377.2 916.3,377.9 916.5,372.9 916.6,382.6 916.8,370.3 916.9,377.1 917.1,378.5 917.2,374.4 917.4,372.0 917.5,374.8 917.6,372.3 917.8,376.0 917.9,372.1 918.1,372.2 918.2,377.5 918.4,371.9 918.5,377.0 918.7,377.5 918.8,381.5 919.0,379.3 919.1,375.5 919.3,383.5 919.4,376.4 919.6,377.7 919.7,378.2 919.9,387.6 920.0,380.0 920.1,377.4 920.3,382.8 920.4,379.9 920.6,389.2 920.7,378.1 920.9,383.2 921.0,377.7 921.2,388.0 921.3,378.8 921.5,382.4 921.6,378.8 921.8,385.3 921.9,384.4 922.1,374.1 922.2,385.6 922.4,385.3 922.5,383.9 922.6,386.8 922.8,378.9 922.9,377.2 923.1,386.2 923.2,390.1 923.4,379.8 923.5,380.2 923.7,381.4 923.8,380.4 924.0,387.9 924.1,385.6 924.3,390.2 924.4,390.4 924.6,381.8 924.7,387.8 924.9,377.2 925.0,385.2 925.1,387.8 925.3,382.7 925.4,379.1 925.6,383.9 925.7,390.1 925.9,384.5 926.0,380.9 926.2,387.7 926.3,388.7 926.5,382.3 926.6,385.6 926.8,390.1 926.9,387.5 927.1,388.9 927.2,385.2 927.4,385.9 927.5,382.2 927.6,383.9 927.8,392.1 927.9,385.1 928.1,383.4 928.2,385.0 928.4,383.0 928.5,388.7 928.7,390.2 928.8,383.5 929.0,390.7 929.1,394.7 929.3,383.3 929.4,389.6 929.6,388.2 929.7,392.1 929.9,391.9 930.0,391.4 930.1,388.6 930.3,386.0 930.4,395.6 930.6,384.8 930.7,391.7 930.9,391.3 931.0,385.2 931.2,387.9 931.3,393.2 931.5,381.2 931.6,390.8 931.8,386.9 931.9,387.2 932.1,382.9 932.2,389.6 932.4,384.4 932.5,390.7 932.6,384.1 932.8,390.9 932.9,389.5 933.1,381.5 933.2,387.2 933.4,388.0 933.5,380.4 933.7,387.2 933.8,391.4 934.0,385.9 934.1,392.8 934.3,384.6 934.4,384.4 934.6,390.8 934.7,391.0 934.9,388.2 935.0,388.8 935.1,392.4 935.3,387.0 935.4,396.2 935.6,390.6 935.7,390.5 935.9,390.1 936.0,388.1 936.2,393.6 936.3,387.2 936.5,390.0 936.6,391.7 936.8,394.2 936.9,393.6 937.1,388.2 937.2,392.9 937.4,389.4 937.5,385.9 937.6,386.0 937.8,384.2 937.9,390.8 938.1,393.6 938.2,386.3 938.4,388.8 938.5,386.0 938.7,389.9 938.8,385.8 939.0,387.1 939.1,387.6 939.3,388.4 939.4,388.8 939.6,389.4 939.7,389.5 939.9,386.8 940.0,392.1 940.1,384.3 940.3,390.7 940.4,386.9 940.6,390.7 940.7,391.2 940.9,383.3 941.0,391.5 941.2,394.9 941.3,392.9 941.5,391.5 941.6,382.9 941.8,389.7 941.9,387.1 942.1,393.9 942.2,389.2 942.3,388.1 942.5,384.1 942.6,392.9 942.8,388.3 942.9,389.4 943.1,394.0 943.2,390.5 943.4,391.3 943.5,398.5 943.7,388.3 943.8,388.5 944.0,391.9 944.1,395.1 944.3,385.2 944.4,389.4 944.6,386.8 944.7,385.4 944.8,392.1 945.0,387.4 945.1,391.1 945.3,390.5 945.4,390.5 945.6,390.2 945.7,386.3 945.9,389.7 946.0,390.7 946.2,391.1 946.3,388.9 946.5,393.2 946.6,391.7 946.8,390.1 946.9,391.9 947.1,390.2 947.2,391.9 947.3,382.6 947.5,385.0 947.6,388.0 947.8,389.7 947.9,381.7 948.1,388.2 948.2,389.5 948.4,388.0 948.5,387.9 948.7,383.9 948.8,388.8 949.0,381.1 949.1,391.5 949.3,385.7 949.4,391.6 949.6,381.3 949.7,388.7 949.8,387.5 950.0,383.7 950.1,382.2 950.3,390.5 950.4,387.4 950.6,390.9 950.7,385.0 950.9,385.4 951.0,385.8 951.2,386.5 951.3,384.8 951.5,385.5 951.6,380.0 951.8,375.6 951.9,387.5 952.1,379.8 952.2,379.9 952.3,375.5 952.5,379.9 952.6,375.8 952.8,378.2 952.9,370.7 953.1,372.3 953.2,372.8 953.4,370.4 953.5,372.9 953.7,378.2 953.8,370.5 954.0,372.5 954.1,375.1 954.3,371.9 954.4,372.3 954.6,382.2 954.7,382.3 954.8,374.9 955.0,376.5 955.1,385.6 955.3,388.2 955.4,387.2 955.6,387.6 955.7,392.3 955.9,387.3 956.0,392.7 956.2,393.0 956.3,386.1 956.5,392.3 956.6,390.7 956.8,388.7 956.9,388.5 957.1,392.9 957.2,392.0 957.3,395.4 957.5,386.8 957.6,390.9 957.8,397.3 957.9,393.8 958.1,391.6 958.2,392.7 958.4,388.3 958.5,390.1 958.7,396.8 958.8,395.5 959.0,399.8 959.1,394.8 959.3,395.4 959.4,387.0 959.6,396.0 959.7,403.6 959.8,399.1 960.0,396.6 960.1,401.4 960.3,400.3 960.4,398.8 960.6,396.7 960.7,398.6 960.9,401.2 961.0,395.8 961.2,400.3 961.3,400.4 961.5,403.5 961.6,401.7 961.8,397.1 961.9,404.8 962.1,399.8 962.2,397.4 962.3,401.2 962.5,399.3 962.6,403.9 962.8,396.1 962.9,396.9 963.1,399.9 963.2,406.6 963.4,404.4 963.5,397.9 963.7,395.7 963.8,400.4 964.0,397.5 964.1,403.6 964.3,402.2 964.4,401.7 964.6,400.3 964.7,406.7 964.8,398.7 965.0,397.5 965.1,405.5 965.3,406.2 965.4,400.7 965.6,403.9 965.7,409.5 965.9,399.2 966.0,401.2 966.2,403.2 966.3,394.7 966.5,401.0 966.6,403.8 966.8,400.9 966.9,404.4 967.0,403.3 967.2,399.2 967.3,402.0 967.5,401.2 967.6,393.7 967.8,395.8 967.9,395.2 968.1,395.2 968.2,394.3 968.4,389.7 968.5,393.3 968.7,385.1 968.8,393.1 969.0,388.8 969.1,391.3 969.3,386.4 969.4,382.8 969.5,379.9 969.7,388.7 969.8,388.0 970.0,391.2 970.1,394.5 970.3,397.9 970.4,395.2 970.6,402.7 970.7,397.8 970.9,399.2 971.0,402.3 971.2,404.3 971.3,406.1 971.5,396.2 971.6,407.1 971.8,398.2 971.9,401.8 972.0,405.3 972.2,408.1 972.3,401.5 972.5,399.6 972.6,408.3 972.8,406.6 972.9,402.6 973.1,405.1 973.2,400.1 973.4,408.4 973.5,405.1 973.7,410.9 973.8,400.7 974.0,409.7 974.1,414.4 974.3,408.2 974.4,408.4 974.5,402.2 974.7,409.3 974.8,408.5 975.0,406.8 975.1,403.9 975.3,409.1 975.4,405.9 975.6,407.6 975.7,410.2 975.9,409.3 976.0,409.5 976.2,412.6 976.3,406.2 976.5,414.3 976.6,406.6 976.8,407.4 976.9,410.8 977.0,412.9 977.2,411.4 977.3,409.5 977.5,408.8 977.6,410.3 977.8,408.3 977.9,413.1 978.1,410.8 978.2,416.4 978.4,409.5 978.5,411.5 978.7,413.3 978.8,408.7 979.0,410.3 979.1,420.8 979.3,412.5 979.4,417.0 979.5,409.7 979.7,405.6 979.8,414.6 980.0,413.0 980.1,414.1 980.3,412.4 980.4,411.7 980.6,409.9 980.7,416.8 980.9,409.4 981.0,416.8 981.2,413.4 981.3,411.0 981.5,412.4 981.6,417.4 981.8,416.8 981.9,416.2 982.0,415.1 982.2,411.8 982.3,419.0 982.5,414.0 982.6,413.7 982.8,414.0 982.9,414.4 983.1,411.5 983.2,414.6 983.4,413.6 983.5,414.6 983.7,411.2 983.8,421.9 984.0,412.9 984.1,417.5 984.3,417.6 984.4,419.7 984.5,422.4 984.7,418.3 984.8,419.3 985.0,416.1 985.1,421.8 985.3,413.6 985.4,417.1 985.6,418.7 985.7,420.1 985.9,420.4 986.0,421.5 986.2,420.0 986.3,418.5 986.5,419.2 986.6,422.8 986.8,419.6 986.9,421.4 987.0,418.5 987.2,413.8 987.3,417.3 987.5,420.0 987.6,423.8 987.8,423.2 987.9,424.0 988.1,417.3 988.2,421.6 988.4,419.3 988.5,421.3 988.7,419.3 988.8,415.8 989.0,421.6 989.1,420.7 989.3,422.1 989.4,417.5 989.5,422.8 989.7,423.1 989.8,423.9 990.0,424.0 990.1,418.9 990.3,413.1 990.4,423.0 990.6,417.7 990.7,419.7 990.9,423.5 991.0,421.3 991.2,421.2 991.3,422.5 991.5,415.3 991.6,426.0 991.7,419.7 991.9,419.9 992.0,422.5 992.2,420.5 992.3,418.6 992.5,420.6 992.6,420.0 992.8,419.3 992.9,426.8 993.1,417.2 993.2,415.1 993.4,418.7 993.5,418.7 993.7,425.4 993.8,421.9 994.0,423.8 994.1,423.3 994.2,419.1 994.4,424.0 994.5,422.2 994.7,427.1 994.8,422.4 995.0,421.8 995.1,424.0 995.3,424.1 995.4,417.1 995.6,425.5 995.7,425.1 995.9,424.5 996.0,419.1 996.2,416.8 996.3,421.6 996.5,424.5 996.6,423.8 996.7,419.8 996.9,425.2 997.0,418.9 997.2,419.0 997.3,422.7 997.5,421.2 997.6,421.0 997.8,418.9 997.9,425.9 998.1,420.0 998.2,424.2 998.4,425.3 998.5,423.1 998.7,424.0 998.8,426.1 999.0,427.8 999.1,426.1 999.2,419.7 999.4,418.4 999.5,422.0 999.7,420.6 999.8,425.2 1000.0,424.1 1000.1,423.2 1000.3,426.9 1000.4,426.7 1000.6,423.8 1000.7,425.0 1000.9,427.0 1001.0,423.2 1001.2,425.0 1001.3,421.7 1001.5,424.4 1001.6,425.3 1001.7,424.2 1001.9,425.0 1002.0,426.4 1002.2,425.7 1002.3,422.7 1002.5,423.1 1002.6,421.4 1002.8,429.3 1002.9,426.0 1003.1,426.1 1003.2,424.6 1003.4,426.3 1003.5,426.5 1003.7,423.1 1003.8,424.8 1004.0,428.3 1004.1,421.8 1004.2,422.8 1004.4,426.9 1004.5,423.3 1004.7,427.5 1004.8,422.7 1005.0,426.2 1005.1,427.8 1005.3,426.7 1005.4,427.8 1005.6,425.4 1005.7,425.4 1005.9,425.9 1006.0,427.5 1006.2,435.6 1006.3,425.9 1006.5,431.1 1006.6,425.6 1006.7,423.3 1006.9,425.6 1007.0,427.4 1007.2,426.9 1007.3,426.8 1007.5,427.9 1007.6,428.1 1007.8,429.0 1007.9,423.6 1008.1,426.8 1008.2,424.3 1008.4,427.5 1008.5,426.7 1008.7,427.4 1008.8,425.8 1009.0,424.9 1009.1,426.5 1009.2,428.9 1009.4,429.2 1009.5,423.0 1009.7,428.0 1009.8,428.1 1010.0,423.6 1010.1,424.7 1010.3,426.1 1010.4,428.6 1010.6,421.6 1010.7,426.7 1010.9,426.3 1011.0,428.2 1011.2,431.4 1011.3,431.3 1011.5,426.9 1011.6,426.9 1011.7,428.5 1011.9,430.9 1012.0,431.6 1012.2,428.8 1012.3,431.7 1012.5,425.7 1012.6,425.0 1012.8,420.8 1012.9,425.7 1013.1,429.5 1013.2,430.2 1013.4,436.8 1013.5,429.5 1013.7,428.5 1013.8,425.6 1014.0,426.5 1014.1,426.5 1014.2,427.5 1014.4,426.4 1014.5,424.4 1014.7,430.8 1014.8,429.2 1015.0,431.6 1015.1,424.0 1015.3,424.8 1015.4,426.2 1015.6,431.1 1015.7,427.6 1015.9,428.7 1016.0,427.9 1016.2,428.6 1016.3,426.8 1016.4,429.1 1016.6,425.9 1016.7,427.5 1016.9,428.9 1017.0,428.4 1017.2,429.3 1017.3,426.1 1017.5,428.8 1017.6,427.4 1017.8,429.2 1017.9,431.9 1018.1,425.9 1018.2,430.9 1018.4,426.5 1018.5,427.1 1018.7,432.4 1018.8,430.6 1018.9,429.5 1019.1,430.3 1019.2,431.2 1019.4,426.3 1019.5,428.8 1019.7,427.3 1019.8,429.3 1020.0,427.5 1020.1,430.2 1020.3,428.3 1020.4,426.8 1020.6,428.2 1020.7,429.4 1020.9,431.0 1021.0,427.9 1021.2,427.4 1021.3,429.0 1021.4,430.3 1021.6,426.9 1021.7,422.0 1021.9,429.1 1022.0,427.5 1022.2,427.4 1022.3,434.8 1022.5,428.0 1022.6,430.1 1022.8,424.8 1022.9,429.0 1023.1,430.3 1023.2,428.9 1023.4,428.0 1023.5,429.8 1023.7,428.5 1023.8,431.8 1023.9,429.0 1024.1,426.4 1024.2,423.4 1024.4,426.6 1024.5,427.7 1024.7,425.4 1024.8,425.8 1025.0,424.2 1025.1,425.7 1025.3,428.7 1025.4,427.8 1025.6,428.0 1025.7,427.7 1025.9,428.0 1026.0,430.5 1026.2,433.8 1026.3,430.2 1026.4,433.6 1026.6,428.3 1026.7,428.5 1026.9,432.7 1027.0,426.8 1027.2,426.3 1027.3,428.3 1027.5,424.3 1027.6,423.8 1027.8,431.6 1027.9,425.9 1028.1,427.4 1028.2,427.5 1028.4,426.2 1028.5,430.4 1028.7,430.1 1028.8,430.7 1028.9,430.5 1029.1,428.8 1029.2,432.3 1029.4,431.2 1029.5,427.1 1029.7,428.8 1029.8,427.6 1030.0,433.4 1030.1,430.6 1030.3,430.0 1030.4,428.6 1030.6,430.1 1030.7,426.3 1030.9,428.8 1031.0,428.6 1031.2,428.6 1031.3,426.9 1031.4,429.9 1031.6,425.8 1031.7,427.5 1031.9,428.3 1032.0,428.6 1032.2,427.4 1032.3,426.1 1032.5,426.3 1032.6,427.8 1032.8,426.5 1032.9,428.4 1033.1,425.6 1033.2,428.8 1033.4,434.0 1033.5,425.4 1033.7,428.5 1033.8,431.7 1033.9,429.3 1034.1,431.0 1034.2,423.5 1034.4,427.5 1034.5,432.7 1034.7,427.4 1034.8,429.8 1035.0,424.0 1035.1,431.5 1035.3,434.5 1035.4,428.7 1035.6,429.7 1035.7,429.9 1035.9,434.2 1036.0,427.8 1036.2,424.6 1036.3,433.7 1036.4,425.9 1036.6,430.3 1036.7,423.0 1036.9,427.8 1037.0,429.3 1037.2,426.1 1037.3,427.6 1037.5,430.4 1037.6,427.1 1037.8,430.2 1037.9,433.4 1038.1,423.8 1038.2,429.8 1038.4,430.5 1038.5,428.1 1038.7,432.9 1038.8,432.3 1038.9,430.2 1039.1,430.3 1039.2,428.8 1039.4,426.1 1039.5,430.2 1039.7,427.7 1039.8,427.5 1040.0,431.7 1040.1,428.4 1040.3,431.4 1040.4,426.3 1040.6,427.9 1040.7,429.0 1040.9,432.4 1041.0,428.7 1041.1,431.0 1041.3,427.3 1041.4,429.3 1041.6,431.1 1041.7,426.7 1041.9,427.2 1042.0,430.5 1042.2,426.1 1042.3,429.8 1042.5,429.9 1042.6,428.8 1042.8,431.0 1042.9,430.2 1043.1,429.5 1043.2,425.3 1043.4,425.3 1043.5,429.8 1043.6,425.1 1043.8,429.2 1043.9,428.2 1044.1,426.9 1044.2,428.4 1044.4,423.1 1044.5,428.5 1044.7,432.2 1044.8,425.9 1045.0,430.2 1045.1,429.9 1045.3,436.7 1045.4,426.7 1045.6,427.1 1045.7,427.2 1045.9,426.7 1046.0,425.0 1046.1,429.3 1046.3,426.9 1046.4,431.1 1046.6,430.1 1046.7,426.6 1046.9,428.3 1047.0,432.6 1047.2,428.3 1047.3,429.7 1047.5,431.3 1047.6,428.2 1047.8,430.3 1047.9,433.2 1048.1,432.1 1048.2,424.9 1048.4,433.1 1048.5,428.7 1048.6,427.8 1048.8,427.7 1048.9,432.4 1049.1,430.1 1049.2,429.0 1049.4,427.3 1049.5,430.9 1049.7,432.2 1049.8,426.8 1050.0,426.6 1050.1,428.4 1050.3,430.9 1050.4,428.3 1050.6,429.1 1050.7,427.3 1050.9,432.5 1051.0,429.1 1051.1,429.8 1051.3,432.2 1051.4,428.8 1051.6,429.3 1051.7,430.4 1051.9,428.4 1052.0,432.9 1052.2,429.5 1052.3,428.3 1052.5,428.7 1052.6,426.7 1052.8,432.4 1052.9,433.2 1053.1,428.8 1053.2,428.3 1053.4,424.1 1053.5,427.9 1053.6,431.6 1053.8,427.4 1053.9,431.5 1054.1,433.1 1054.2,422.9 1054.4,428.6 1054.5,427.6 1054.7,428.0 1054.8,424.9 1055.0,428.7 1055.1,426.4 1055.3,432.0 1055.4,432.9 1055.6,425.9 1055.7,425.8 1055.9,428.2 1056.0,428.9 1056.1,429.1 1056.3,431.2 1056.4,425.6 1056.6,427.8 1056.7,428.2 1056.9,428.5 1057.0,426.9 1057.2,428.2 1057.3,427.6 1057.5,432.4 1057.6,428.2 1057.8,424.0 1057.9,430.8 1058.1,429.8 1058.2,427.3 1058.4,427.1 1058.5,428.0 1058.6,433.6 1058.8,428.3 1058.9,432.5 1059.1,431.6 1059.2,428.2 1059.4,430.3 1059.5,427.5 1059.7,421.7 1059.8,427.6 1060.0,427.7 1060.1,431.8 1060.3,431.2 1060.4,432.2 1060.6,430.9 1060.7,432.3 1060.9,431.2 1061.0,430.1 1061.1,432.1 1061.3,433.1 1061.4,433.0 1061.6,428.4 1061.7,429.4 1061.9,427.0 1062.0,427.0 1062.2,430.4 1062.3,427.9 1062.5,433.2 1062.6,423.9 1062.8,426.6 1062.9,430.1 1063.1,432.5 1063.2,428.7 1063.4,434.3 1063.5,431.6 1063.6,427.7 1063.8,429.4 1063.9,430.8 1064.1,427.2 1064.2,432.2 1064.4,428.9 1064.5,430.9 1064.7,431.7 1064.8,428.5 1065.0,432.1 1065.1,424.9 1065.3,431.1 1065.4,424.7 1065.6,432.4 1065.7,428.1 1065.8,432.6 1066.0,433.0 1066.1,429.3 1066.3,428.0 1066.4,432.8 1066.6,426.7 1066.7,431.7 1066.9,429.3 1067.0,428.7 1067.2,428.2 1067.3,434.2 1067.5,425.7 1067.6,428.3 1067.8,430.8 1067.9,432.2 1068.1,433.9 1068.2,433.1 1068.3,428.3 1068.5,430.6 1068.6,432.5 1068.8,431.0 1068.9,425.8 1069.1,430.5 1069.2,431.2 1069.4,426.4 1069.5,428.6 1069.7,429.6 1069.8,431.2 1070.0,433.6 1070.1,432.7 1070.3,430.9 1070.4,430.3 1070.6,428.9 1070.7,428.4 1070.8,429.2 1071.0,429.2 1071.1,432.3 1071.3,435.1 1071.4,431.1 1071.6,432.1 1071.7,431.4 1071.9,430.5 1072.0,432.9 1072.2,432.5 1072.3,430.0 1072.5,429.5 1072.6,431.4 1072.8,428.5 1072.9,430.3 1073.1,432.3 1073.2,429.7 1073.3,425.1 1073.5,431.5 1073.6,426.9 1073.8,426.4 1073.9,426.1 1074.1,431.9 1074.2,424.8 1074.4,429.5 1074.5,430.4 1074.7,430.4 1074.8,428.3 1075.0,429.7 1075.1,430.3 1075.3,426.6 1075.4,431.6 1075.6,432.4 1075.7,427.9 1075.8,428.1 1076.0,427.1 1076.1,432.5 1076.3,427.2 1076.4,428.6 1076.6,425.5 1076.7,433.0 1076.9,429.3 1077.0,430.5 1077.2,433.8 1077.3,431.6 1077.5,427.1 1077.6,431.0 1077.8,431.7 1077.9,427.7 1078.1,427.4 1078.2,427.4 1078.3,431.8 1078.5,430.0 1078.6,427.3 1078.8,431.5 1078.9,431.8 1079.1,427.8 1079.2,426.0 1079.4,432.8 1079.5,436.4 1079.7,433.5 1079.8,432.4 1080.0,430.2 1080.1,428.4 1080.3,430.3 1080.4,431.7 1080.6,429.5 1080.7,432.3 1080.8,430.0 1081.0,431.5 1081.1,423.3 1081.3,427.9 1081.4,432.0 1081.6,432.4 1081.7,431.0 1081.9,434.0 1082.0,431.8 1082.2,431.8 1082.3,427.7 1082.5,431.0 1082.6,431.9 1082.8,433.3 1082.9,432.9 1083.1,430.1 1083.2,430.5 1083.3,427.1 1083.5,431.5 1083.6,427.3 1083.8,429.3 1083.9,430.0 1084.1,435.0 1084.2,433.2 1084.4,428.1 1084.5,426.5 1084.7,429.5 1084.8,428.1 1085.0,431.0 1085.1,430.9 1085.3,431.6 1085.4,427.6 1085.6,429.1 1085.7,430.6 1085.8,430.8 1086.0,428.6 1086.1,429.2 1086.3,432.1 1086.4,425.7 1086.6,429.4 1086.7,430.0 1086.9,426.3 1087.0,427.5 1087.2,430.2 1087.3,428.7 1087.5,432.7 1087.6,431.6 1087.8,435.6 1087.9,427.0 1088.1,434.7 1088.2,428.3 1088.3,432.1 1088.5,432.5 1088.6,430.5 1088.8,429.4 1088.9,428.5 1089.1,425.6 1089.2,429.2 1089.4,427.9 1089.5,431.5 1089.7,428.3 1089.8,429.7 1090.0,431.2 1090.1,430.3 1090.3,430.2 1090.4,429.6 1090.5,429.1 1090.7,431.3 1090.8,431.9 1091.0,428.2 1091.1,434.3 1091.3,431.6 1091.4,426.2 1091.6,436.8 1091.7,431.8 1091.9,428.4 1092.0,434.2 1092.2,423.6 1092.3,436.5 1092.5,426.5 1092.6,426.2 1092.8,427.8 1092.9,430.6 1093.0,429.2 1093.2,432.3 1093.3,428.1 1093.5,432.9 1093.6,430.8 1093.8,427.6 1093.9,432.9 1094.1,431.0 1094.2,429.7 1094.4,433.4 1094.5,427.2 1094.7,429.2 1094.8,433.9 1095.0,430.2 1095.1,432.0 1095.3,431.7 1095.4,429.9 1095.5,431.9 1095.7,427.7 1095.8,431.8 1096.0,427.7 1096.1,430.2 1096.3,428.0 1096.4,431.4 1096.6,431.4 1096.7,433.0 1096.9,428.7 1097.0,427.8 1097.2,424.8 1097.3,426.9 1097.5,429.5 1097.6,430.6 1097.8,429.1 1097.9,430.2 1098.0,426.5 1098.2,427.8 1098.3,432.2 1098.5,431.8 1098.6,426.7 1098.8,429.3 1098.9,430.7 1099.1,427.2 1099.2,431.1 1099.4,430.8 1099.5,431.2 1099.7,435.0 1099.8,427.9 1100.0,433.1 1100.1,431.5 1100.3,431.9 1100.4,428.3 1100.5,430.2 1100.7,430.0 1100.8,434.2 1101.0,430.2 1101.1,433.7 1101.3,429.2 1101.4,429.1 1101.6,430.0 1101.7,424.9 1101.9,428.7 1102.0,428.5 1102.2,429.6 1102.3,430.4 1102.5,427.5 1102.6,427.2 1102.8,433.1 1102.9,427.3 1103.0,428.6 1103.2,427.5 1103.3,428.7 1103.5,432.9 1103.6,432.7 1103.8,425.3 1103.9,429.2 1104.1,433.3 1104.2,428.9 1104.4,430.7 1104.5,434.3 1104.7,435.4 1104.8,433.7 1105.0,429.0 1105.1,429.8 1105.3,430.3 1105.4,428.9 1105.5,428.1 1105.7,434.9 1105.8,430.4 1106.0,431.6 1106.1,432.6 1106.3,430.9 1106.4,429.8 1106.6,430.2 1106.7,433.1 1106.9,430.7 1107.0,424.4 1107.2,432.1 1107.3,433.6 1107.5,428.7 1107.6,427.9 1107.8,428.2 1107.9,432.1 1108.0,426.8 1108.2,431.2 1108.3,432.1 1108.5,430.7 1108.6,429.4 1108.8,427.3 1108.9,427.5 1109.1,429.1 1109.2,426.7 1109.4,428.8 1109.5,426.7 1109.7,432.5 1109.8,432.8 1110.0,426.9 1110.1,432.3 1110.3,429.5 1110.4,429.0 1110.5,429.9 1110.7,429.8 1110.8,425.0 1111.0,434.9 1111.1,426.2 1111.3,422.6 1111.4,428.3 1111.6,428.3 1111.7,426.3 1111.9,423.4 1112.0,431.0 1112.2,427.7 1112.3,428.3 1112.5,426.3 1112.6,427.2 1112.8,425.9 1112.9,428.5 1113.0,427.2 1113.2,428.9 1113.3,428.8 1113.5,427.3 1113.6,427.2 1113.8,429.7 1113.9,422.5 1114.1,426.7 1114.2,429.8 1114.4,423.1 1114.5,427.7 1114.7,424.2 1114.8,425.4 1115.0,424.4 1115.1,424.3 1115.2,426.0 1115.4,424.0 1115.5,418.3 1115.7,429.3 1115.8,422.7 1116.0,421.2 1116.1,424.7 1116.3,425.0 1116.4,414.6 1116.6,420.9 1116.7,413.3 1116.9,416.8 1117.0,417.3 1117.2,415.2 1117.3,413.7 1117.5,411.0 1117.6,412.0 1117.7,411.7 1117.9,410.4 1118.0,405.7 1118.2,406.1 1118.3,410.7 1118.5,408.6 1118.6,404.8 1118.8,407.2 1118.9,406.1 1119.1,407.8 1119.2,405.8 1119.4,404.1 1119.5,402.9 1119.7,406.9 1119.8,401.5 1120.0,409.3 1120.1,400.5 1120.2,408.4 1120.4,411.2 1120.5,415.3 1120.7,423.2 1120.8,416.5 1121.0,416.6 1121.1,412.6 1121.3,422.8 1121.4,414.4 1121.6,421.2 1121.7,419.2 1121.9,428.8 1122.0,422.1 1122.2,423.9 1122.3,421.7 1122.5,423.7 1122.6,427.4 1122.7,422.3 1122.9,423.3 1123.0,423.9 1123.2,423.2 1123.3,423.2 1123.5,426.4 1123.6,430.1 1123.8,430.4 1123.9,423.6 1124.1,425.4 1124.2,427.2 1124.4,428.7 1124.5,427.7 1124.7,427.9 1124.8,428.9 1125.0,430.0 1125.1,422.9 1125.2,427.9 1125.4,430.2 1125.5,432.1 1125.7,430.7 1125.8,427.2 1126.0,427.2 1126.1,429.8 1126.3,429.2 1126.4,430.2 1126.6,432.3 1126.7,426.4 1126.9,428.8 1127.0,423.6 1127.2,431.8 1127.3,430.3 1127.5,427.8 1127.6,430.7 1127.7,433.6 1127.9,432.6 1128.0,430.1 1128.2,429.5 1128.3,430.7 1128.5,428.0 1128.6,428.1 1128.8,429.9 1128.9,430.6 1129.1,431.4 1129.2,429.5 1129.4,428.6 1129.5,430.8 1129.7,429.9 1129.8,431.8 1130.0,434.6 1130.1,433.6 1130.2,429.3 1130.4,430.2 1130.5,427.4 1130.7,431.2 1130.8,429.3 1131.0,428.2 1131.1,429.1 1131.3,433.0 1131.4,432.0 1131.6,431.3 1131.7,434.1 1131.9,430.6 1132.0,429.3 1132.2,433.0 1132.3,427.1 1132.5,432.6 1132.6,432.4 1132.7,432.5 1132.9,433.7 1133.0,431.0 1133.2,432.0 1133.3,428.1 1133.5,430.7 1133.6,430.9 1133.8,432.8 1133.9,435.7 1134.1,432.5 1134.2,434.4 1134.4,430.1 1134.5,432.5 1134.7,428.5 1134.8,430.7 1135.0,430.5 1135.1,432.0 1135.2,432.1 1135.4,431.1 1135.5,430.5 1135.7,434.5 1135.8,431.6 1136.0,426.6 1136.1,433.1 1136.3,433.6 1136.4,434.7 1136.6,436.5 1136.7,430.3 1136.9,433.0 1137.0,432.5 1137.2,428.8 1137.3,427.3 1137.5,435.4 1137.6,430.9 1137.7,431.9 1137.9,432.5 1138.0,432.4 1138.2,433.6 1138.3,429.8 1138.5,432.2 1138.6,432.8 1138.8,430.8 1138.9,431.6 1139.1,432.7 1139.2,433.1 1139.4,429.7 1139.5,432.7 1139.7,434.2 1139.8,436.0 1139.9,434.9 1140.1,436.6 1140.2,433.9 1140.4,433.6 1140.5,439.0 1140.7,434.2 1140.8,432.8 1141.0,434.0 1141.1,436.6 1141.3,431.5 1141.4,436.1 1141.6,437.4 1141.7,437.1 1141.9,434.6 1142.0,432.3 1142.2,432.0 1142.3,434.2 1142.4,437.5 1142.6,436.3 1142.7,436.9 1142.9,435.3 1143.0,439.1 1143.2,434.7 1143.3,433.5 1143.5,435.4 1143.6,434.0 1143.8,437.3 1143.9,438.5 1144.1,436.7 1144.2,432.6 1144.4,432.9 1144.5,436.4 1144.7,432.6 1144.8,436.2 1144.9,432.0 1145.1,434.4 1145.2,436.6 1145.4,433.8 1145.5,437.4 1145.7,437.8 1145.8,439.0 1146.0,435.2 1146.1,435.9 1146.3,436.0 1146.4,436.8 1146.6,432.6 1146.7,436.9 1146.9,437.7 1147.0,433.2 1147.2,432.8 1147.3,435.3 1147.4,440.1 1147.6,437.6 1147.7,434.8 1147.9,436.2 1148.0,432.8 1148.2,439.5 1148.3,434.9 1148.5,437.9 1148.6,433.5 1148.8,436.7 1148.9,434.2 1149.1,438.1 1149.2,439.8 1149.4,439.2 1149.5,438.1 1149.7,439.1 1149.8,434.1 1149.9,433.8 1150.1,436.3 1150.2,439.2 1150.4,437.2 1150.5,438.5 1150.7,433.7 1150.8,436.3 1151.0,436.0 1151.1,438.0 1151.3,441.7 1151.4,438.9 1151.6,439.7 1151.7,436.4 1151.9,437.1 1152.0,439.1 1152.2,438.2 1152.3,433.9 1152.4,439.6 1152.6,439.5 1152.7,438.0 1152.9,439.1 1153.0,438.5 1153.2,436.4 1153.3,433.7 1153.5,441.6 1153.6,437.7 1153.8,437.6 1153.9,437.9 1154.1,438.2 1154.2,438.6 1154.4,435.6 1154.5,438.9 1154.7,438.2 1154.8,437.9 1154.9,437.7 1155.1,438.4 1155.2,435.8 1155.4,438.1 1155.5,437.7 1155.7,438.2 1155.8,440.4 1156.0,440.0 1156.1,440.5 1156.3,437.8 1156.4,439.9 1156.6,440.7 1156.7,437.8 1156.9,437.2 1157.0,442.3 1157.2,434.7 1157.3,438.4 1157.4,438.7 1157.6,436.2 1157.7,438.4 1157.9,439.9 1158.0,433.8 1158.2,441.0 1158.3,438.9 1158.5,436.9 1158.6,441.1 1158.8,439.0 1158.9,438.0 1159.1,433.6 1159.2,440.8 1159.4,439.0 1159.5,437.5 1159.7,438.8 1159.8,441.6 1159.9,438.2 1160.1,438.9 1160.2,438.1 1160.4,436.7 1160.5,437.0 1160.7,438.3 1160.8,438.6 1161.0,441.7 1161.1,439.6 1161.3,438.9 1161.4,440.2 1161.6,439.2 1161.7,441.2 1161.9,436.1 1162.0,434.8 1162.2,440.4 1162.3,438.7 1162.4,440.1 1162.6,436.9 1162.7,438.7 1162.9,439.5 1163.0,440.2 1163.2,439.5 1163.3,442.0 1163.5,438.4 1163.6,441.4 1163.8,438.7 1163.9,439.6 1164.1,437.6 1164.2,440.0 1164.4,437.8 1164.5,442.0 1164.6,438.8 1164.8,440.6 1164.9,439.7 1165.1,440.0 1165.2,438.2 1165.4,444.6 1165.5,439.6 1165.7,443.5 1165.8,437.8 1166.0,444.6 1166.1,442.5 1166.3,444.0 1166.4,437.0 1166.6,443.2 1166.7,440.3 1166.9,441.7 1167.0,444.4 1167.1,441.3 1167.3,439.2 1167.4,441.1 1167.6,438.7 1167.7,441.5 1167.9,440.8 1168.0,441.6 1168.2,440.1 1168.3,436.9 1168.5,440.1 1168.6,440.5 1168.8,442.3 1168.9,442.6 1169.1,437.9 1169.2,443.4 1169.4,443.0 1169.5,441.3 1169.6,442.1 1169.8,437.1 1169.9,446.2 1170.1,440.5 1170.2,439.8 1170.4,443.7 1170.5,442.7 1170.7,440.5 1170.8,438.0 1171.0,443.4 1171.1,444.8 1171.3,439.5 1171.4,438.4 1171.6,442.3 1171.7,446.2 1171.9,438.6 1172.0,442.1 1172.1,439.4 1172.3,441.8 1172.4,442.6 1172.6,442.7 1172.7,438.8 1172.9,438.9 1173.0,446.3 1173.2,443.9 1173.3,438.3 1173.5,442.8 1173.6,444.9 1173.8,442.1 1173.9,442.3 1174.1,442.3 1174.2,443.1 1174.4,442.8 1174.5,443.2 1174.6,441.6 1174.8,444.0 1174.9,442.9 1175.1,442.6 1175.2,439.7 1175.4,441.6 1175.5,442.7 1175.7,441.4 1175.8,441.7 1176.0,440.3 1176.1,441.5 1176.3,438.9 1176.4,439.9 1176.6,442.7 1176.7,443.5 1176.9,440.9 1177.0,441.7 1177.1,443.0 1177.3,445.8 1177.4,446.6 1177.6,442.2 1177.7,441.3 1177.9,441.3 1178.0,445.6 1178.2,440.9 1178.3,444.1 1178.5,442.3 1178.6,442.3 1178.8,444.8 1178.9,444.4 1179.1,447.4 1179.2,445.1 1179.4,446.9 1179.5,442.4 1179.6,443.2 1179.8,441.5 1179.9,442.7 1180.1,444.7 1180.2,442.8 1180.4,444.3 1180.5,442.3 1180.7,442.9 1180.8,445.6 1181.0,443.6 1181.1,443.5 1181.3,444.3 1181.4,441.9 1181.6,440.3 1181.7,444.5 1181.9,444.5 1182.0,448.3 1182.1,444.1 1182.3,444.7 1182.4,448.2 1182.6,443.3 1182.7,442.8 1182.9,445.4 1183.0,444.7 1183.2,446.0 1183.3,442.5 1183.5,447.1 1183.6,444.7 1183.8,440.3 1183.9,444.1 1184.1,443.3 1184.2,444.5 1184.4,446.6 1184.5,444.4 1184.6,443.5 1184.8,446.4 1184.9,443.7 1185.1,441.9 1185.2,442.3 1185.4,447.6 1185.5,446.4 1185.7,447.7 1185.8,442.4 1186.0,443.4 1186.1,443.2 1186.3,446.4 1186.4,447.0 1186.6,444.5 1186.7,444.5 1186.9,446.4 1187.0,444.5 1187.1,443.5 1187.3,444.4 1187.4,446.9 1187.6,449.1 1187.7,445.4 1187.9,444.6 1188.0,445.5 1188.2,445.9 1188.3,446.4 1188.5,443.7 1188.6,445.2 1188.8,444.9 1188.9,447.1 1189.1,446.4 1189.2,444.9 1189.3,447.2 1189.5,447.7 1189.6,445.9 1189.8,443.0 1189.9,445.0 1190.1,442.5 1190.2,445.7 1190.4,446.0 1190.5,448.2 1190.7,446.6 1190.8,442.7 1191.0,444.9 1191.1,444.2 1191.3,444.2 1191.4,445.7 1191.6,446.1 1191.7,445.5 1191.8,444.4 1192.0,444.9 1192.1,444.8 1192.3,445.5 1192.4,447.3 1192.6,446.4 1192.7,447.7 1192.9,444.0 1193.0,450.0 1193.2,446.4 1193.3,441.4 1193.5,446.7 1193.6,448.2 1193.8,446.1 1193.9,443.7 1194.1,446.5 1194.2,445.0 1194.3,446.0 1194.5,447.0 1194.6,440.2 1194.8,446.2 1194.9,447.3 1195.1,447.3 1195.2,445.7 1195.4,445.6 1195.5,445.0 1195.7,446.2 1195.8,449.2 1196.0,445.5 1196.1,447.1 1196.3,447.1 1196.4,449.4 1196.6,447.7 1196.7,448.0 1196.8,446.8 1197.0,449.5 1197.1,446.6 1197.3,446.5 1197.4,448.9 1197.6,448.0 1197.7,448.5 1197.9,445.2 1198.0,451.7 1198.2,447.6 1198.3,450.1 1198.5,447.8 1198.6,445.4 1198.8,448.2 1198.9,446.8 1199.1,448.7 1199.2,443.5 1199.3,445.4 1199.5,445.1 1199.6,449.7 1199.8,449.3 1199.9,445.2 1200.1,447.6 1200.2,447.7 1200.4,446.6 1200.5,449.6 1200.7,445.8 1200.8,447.2 1201.0,446.3 1201.1,448.5 1201.3,446.2 1201.4,448.5 1201.6,445.4 1201.7,445.1 1201.8,445.5 1202.0,446.2 1202.1,446.0 1202.3,452.2 1202.4,445.6 1202.6,447.7 1202.7,447.0 1202.9,447.7 1203.0,449.7 1203.2,448.1 1203.3,445.9 1203.5,444.4 1203.6,448.2 1203.8,448.8 1203.9,444.3 1204.1,448.7 1204.2,443.1 1204.3,446.9 1204.5,448.7 1204.6,445.2 1204.8,443.8 1204.9,449.7 1205.1,444.1 1205.2,447.5 1205.4,444.2 1205.5,447.7 1205.7,449.9 1205.8,446.0 1206.0,445.2 1206.1,443.0 1206.3,443.7 1206.4,445.6 1206.6,447.3 1206.7,447.9 1206.8,447.4 1207.0,448.4 1207.1,447.4 1207.3,451.6 1207.4,446.5 1207.6,446.9 1207.7,441.9 1207.9,445.3 1208.0,447.7 1208.2,445.7 1208.3,449.1 1208.5,447.9 1208.6,450.2 1208.8,444.0 1208.9,445.6 1209.1,448.9 1209.2,446.8 1209.3,444.8 1209.5,445.7 1209.6,445.9 1209.8,448.2 1209.9,447.8 1210.1,446.4 1210.2,444.8 1210.4,448.1 1210.5,448.6 1210.7,444.3 1210.8,448.2 1211.0,444.4 1211.1,446.0 1211.3,444.7 1211.4,443.1 1211.6,445.1 1211.7,444.9 1211.8,448.1 1212.0,447.6 1212.1,445.0 1212.3,443.3 1212.4,443.6 1212.6,441.8 1212.7,445.6 1212.9,445.8 1213.0,444.2 1213.2,446.1 1213.3,446.2 1213.5,448.0 1213.6,444.1 1213.8,448.0 1213.9,444.9 1214.1,448.6 1214.2,443.7 1214.3,447.8 1214.5,444.2 1214.6,448.8 1214.8,446.5 1214.9,443.4 1215.1,447.2 1215.2,445.5 1215.4,446.5 1215.5,450.0 1215.7,444.9 1215.8,444.6 1216.0,447.5 1216.1,444.2 1216.3,446.8 1216.4,447.2 1216.5,445.2 1216.7,446.5 1216.8,440.6 1217.0,448.0 1217.1,443.5 1217.3,442.9 1217.4,448.7 1217.6,448.1 1217.7,443.5 1217.9,445.4 1218.0,443.6 1218.2,442.0 1218.3,444.9 1218.5,446.1 1218.6,449.3 1218.8,443.3 1218.9,445.4 1219.0,442.7 1219.2,442.7 1219.3,445.8 1219.5,439.2 1219.6,440.3 1219.8,440.5 1219.9,444.5 1220.1,442.6 1220.2,442.5 1220.4,441.9 1220.5,443.1 1220.7,439.3 1220.8,439.3 1221.0,438.5 1221.1,439.9 1221.3,435.4 1221.4,437.2 1221.5,443.1 1221.7,437.6 1221.8,435.5 1222.0,432.2 1222.1,434.2 1222.3,433.0 1222.4,433.0 1222.6,428.5 1222.7,430.0 1222.9,429.2 1223.0,428.2 1223.2,423.5 1223.3,425.0 1223.5,426.9 1223.6,419.5 1223.8,422.1 1223.9,418.4 1224.0,417.7 1224.2,415.1 1224.3,415.6 1224.5,420.5 1224.6,419.9 1224.8,423.9 1224.9,416.8 1225.1,421.4 1225.2,420.1 1225.4,426.1 1225.5,431.9 1225.7,424.0 1225.8,429.0 1226.0,430.2 1226.1,431.6 1226.3,431.3 1226.4,432.6 1226.5,438.5 1226.7,433.2 1226.8,437.8 1227.0,438.4 1227.1,434.2 1227.3,436.7 1227.4,440.0 1227.6,443.8 1227.7,440.0 1227.9,439.6 1228.0,441.4 1228.2,444.2 1228.3,443.6 1228.5,444.9 1228.6,442.2 1228.8,441.2 1228.9,441.1 1229.0,444.9 1229.2,443.2 1229.3,442.8 1229.5,445.1 1229.6,444.6 1229.8,440.3 1229.9,444.2 1230.1,443.1 1230.2,445.9 1230.4,445.1 1230.5,448.7 1230.7,445.6 1230.8,443.4 1231.0,441.9 1231.1,443.8 1231.3,444.9 1231.4,446.2 1231.5,447.6 1231.7,446.9 1231.8,445.6 1232.0,448.4 1232.1,445.3 1232.3,449.0 1232.4,450.6 1232.6,449.3 1232.7,450.6 1232.9,450.1 1233.0,445.6 1233.2,448.2 1233.3,447.5 1233.5,445.9 1233.6,445.8 1233.8,449.1 1233.9,445.9 1234.0,447.7 1234.2,448.5 1234.3,447.8 1234.5,451.2 1234.6,450.2 1234.8,449.0 1234.9,447.8 1235.1,449.7 1235.2,449.3 1235.4,447.4 1235.5,446.7 1235.7,448.0 1235.8,447.2 1236.0,450.2 1236.1,450.1 1236.3,449.1 1236.4,450.3 1236.5,450.7 1236.7,447.0 1236.8,450.3 1237.0,451.7 1237.1,449.3 1237.3,447.0 1237.4,450.1 1237.6,448.2 1237.7,451.2 1237.9,451.3 1238.0,451.8 1238.2,450.9 1238.3,447.5 1238.5,452.8 1238.6,448.0 1238.8,452.6 1238.9,451.4 1239.0,449.6 1239.2,450.1 1239.3,450.7 1239.5,454.1 1239.6,450.7 1239.8,453.1 1239.9,447.1 1240.1,451.9 1240.2,451.4 1240.4,453.8 1240.5,452.8 1240.7,454.3 1240.8,450.7 1241.0,452.9 1241.1,451.8 1241.2,453.9 1241.4,453.8 1241.5,451.1 1241.7,454.8 1241.8,456.3 1242.0,452.9 1242.1,455.5 1242.3,454.6 1242.4,452.6 1242.6,455.5 1242.7,453.0 1242.9,455.6 1243.0,452.4 1243.2,452.8 1243.3,455.7 1243.5,455.4 1243.6,456.5 1243.7,455.1 1243.9,453.9 1244.0,457.9 1244.2,454.5 1244.3,458.0 1244.5,457.4 1244.6,458.9" fill="none" stroke="#1a1a1a" stroke-width="0.9" stroke-linejoin="round"/>
<rect x="1310" y="13" width="686" height="534" fill="#fff" stroke="none" stroke-width="0" />
<rect x="1310" y="13" width="68" height="469" fill="#fb8080" stroke="none" stroke-width="0" />
<rect x="1310" y="482" width="686" height="64.5" fill="#969696" stroke="none" stroke-width="0" />
<clipPath id="clipc"><rect x="1310" y="13" width="686" height="534"/></clipPath>
<text x="1902.5" y="47" font-family="'DejaVu Sans','Liberation Sans',sans-serif" font-size="35" font-weight="bold" fill="#b2b2b2" text-anchor="start" textLength="103" lengthAdjust="spacingAndGlyphs" clip-path="url(#clipc)">nicomp</text>
<line x1="1392.3" y1="13" x2="1392.3" y2="482" stroke="#c4c4c4" stroke-width="1.6" />
<line x1="1405.7" y1="13" x2="1405.7" y2="482" stroke="#c4c4c4" stroke-width="1.6" />
<line x1="1416.7" y1="13" x2="1416.7" y2="482" stroke="#c4c4c4" stroke-width="1.6" />
<line x1="1426" y1="13" x2="1426" y2="482" stroke="#c4c4c4" stroke-width="1.6" />
<line x1="1434" y1="13" x2="1434" y2="482" stroke="#c4c4c4" stroke-width="1.6" />
<line x1="1441.1" y1="13" x2="1441.1" y2="482" stroke="#c4c4c4" stroke-width="1.6" />
<line x1="1447.5" y1="13" x2="1447.5" y2="482" stroke="#c4c4c4" stroke-width="1.6" />
<line x1="1489.3" y1="13" x2="1489.3" y2="482" stroke="#c4c4c4" stroke-width="1.6" />
<line x1="1513.7" y1="13" x2="1513.7" y2="482" stroke="#c4c4c4" stroke-width="1.6" />
<line x1="1531.1" y1="13" x2="1531.1" y2="482" stroke="#c4c4c4" stroke-width="1.6" />
<line x1="1544.5" y1="13" x2="1544.5" y2="482" stroke="#c4c4c4" stroke-width="1.6" />
<line x1="1555.5" y1="13" x2="1555.5" y2="482" stroke="#c4c4c4" stroke-width="1.6" />
<line x1="1564.8" y1="13" x2="1564.8" y2="482" stroke="#c4c4c4" stroke-width="1.6" />
<line x1="1572.8" y1="13" x2="1572.8" y2="482" stroke="#c4c4c4" stroke-width="1.6" />
<line x1="1579.9" y1="13" x2="1579.9" y2="482" stroke="#c4c4c4" stroke-width="1.6" />
<line x1="1586.3" y1="13" x2="1586.3" y2="482" stroke="#c4c4c4" stroke-width="1.6" />
<line x1="1628.1" y1="13" x2="1628.1" y2="482" stroke="#c4c4c4" stroke-width="1.6" />
<line x1="1652.5" y1="13" x2="1652.5" y2="482" stroke="#c4c4c4" stroke-width="1.6" />
<line x1="1669.9" y1="13" x2="1669.9" y2="482" stroke="#c4c4c4" stroke-width="1.6" />
<line x1="1683.3" y1="13" x2="1683.3" y2="482" stroke="#c4c4c4" stroke-width="1.6" />
<line x1="1694.3" y1="13" x2="1694.3" y2="482" stroke="#c4c4c4" stroke-width="1.6" />
<line x1="1703.6" y1="13" x2="1703.6" y2="482" stroke="#c4c4c4" stroke-width="1.6" />
<line x1="1711.6" y1="13" x2="1711.6" y2="482" stroke="#c4c4c4" stroke-width="1.6" />
<line x1="1718.7" y1="13" x2="1718.7" y2="482" stroke="#c4c4c4" stroke-width="1.6" />
<line x1="1725.1" y1="13" x2="1725.1" y2="482" stroke="#c4c4c4" stroke-width="1.6" />
<line x1="1766.9" y1="13" x2="1766.9" y2="482" stroke="#c4c4c4" stroke-width="1.6" />
<line x1="1791.3" y1="13" x2="1791.3" y2="482" stroke="#c4c4c4" stroke-width="1.6" />
<line x1="1808.7" y1="13" x2="1808.7" y2="482" stroke="#c4c4c4" stroke-width="1.6" />
<line x1="1822.1" y1="13" x2="1822.1" y2="482" stroke="#c4c4c4" stroke-width="1.6" />
<line x1="1833.1" y1="13" x2="1833.1" y2="482" stroke="#c4c4c4" stroke-width="1.6" />
<line x1="1842.4" y1="13" x2="1842.4" y2="482" stroke="#c4c4c4" stroke-width="1.6" />
<line x1="1850.4" y1="13" x2="1850.4" y2="482" stroke="#c4c4c4" stroke-width="1.6" />
<line x1="1857.5" y1="13" x2="1857.5" y2="482" stroke="#c4c4c4" stroke-width="1.6" />
<line x1="1863.9" y1="13" x2="1863.9" y2="482" stroke="#c4c4c4" stroke-width="1.6" />
<line x1="1905.7" y1="13" x2="1905.7" y2="482" stroke="#c4c4c4" stroke-width="1.6" />
<line x1="1930.1" y1="13" x2="1930.1" y2="482" stroke="#c4c4c4" stroke-width="1.6" />
<line x1="1947.5" y1="13" x2="1947.5" y2="482" stroke="#c4c4c4" stroke-width="1.6" />
<line x1="1960.9" y1="13" x2="1960.9" y2="482" stroke="#c4c4c4" stroke-width="1.6" />
<line x1="1971.9" y1="13" x2="1971.9" y2="482" stroke="#c4c4c4" stroke-width="1.6" />
<line x1="1981.2" y1="13" x2="1981.2" y2="482" stroke="#c4c4c4" stroke-width="1.6" />
<line x1="1989.2" y1="13" x2="1989.2" y2="482" stroke="#c4c4c4" stroke-width="1.6" />
<line x1="1378" y1="443.6" x2="1996" y2="443.6" stroke="#c4c4c4" stroke-width="1.6" />
<line x1="1378" y1="406" x2="1996" y2="406" stroke="#c4c4c4" stroke-width="1.6" />
<line x1="1378" y1="368.3" x2="1996" y2="368.3" stroke="#c4c4c4" stroke-width="1.6" />
<line x1="1378" y1="330.7" x2="1996" y2="330.7" stroke="#c4c4c4" stroke-width="1.6" />
<line x1="1378" y1="293.1" x2="1996" y2="293.1" stroke="#c4c4c4" stroke-width="1.6" />
<line x1="1378" y1="255.5" x2="1996" y2="255.5" stroke="#c4c4c4" stroke-width="1.6" />
<line x1="1378" y1="217.9" x2="1996" y2="217.9" stroke="#c4c4c4" stroke-width="1.6" />
<line x1="1378" y1="180.2" x2="1996" y2="180.2" stroke="#c4c4c4" stroke-width="1.6" />
<line x1="1378" y1="142.6" x2="1996" y2="142.6" stroke="#c4c4c4" stroke-width="1.6" />
<line x1="1378" y1="105" x2="1996" y2="105" stroke="#c4c4c4" stroke-width="1.6" />
<text x="1375" y="442.6" font-family="'Liberation Sans',Arial,sans-serif" font-size="6" font-weight="normal" fill="#fcb4b4" text-anchor="end">10</text>
<text x="1375" y="405" font-family="'Liberation Sans',Arial,sans-serif" font-size="6" font-weight="normal" fill="#fcb4b4" text-anchor="end">20</text>
<text x="1375" y="367.3" font-family="'Liberation Sans',Arial,sans-serif" font-size="6" font-weight="normal" fill="#fcb4b4" text-anchor="end">30</text>
<text x="1375" y="329.7" font-family="'Liberation Sans',Arial,sans-serif" font-size="6" font-weight="normal" fill="#fcb4b4" text-anchor="end">40</text>
<text x="1375" y="292.1" font-family="'Liberation Sans',Arial,sans-serif" font-size="6" font-weight="normal" fill="#fcb4b4" text-anchor="end">50</text>
<text x="1375" y="254.5" font-family="'Liberation Sans',Arial,sans-serif" font-size="6" font-weight="normal" fill="#fcb4b4" text-anchor="end">60</text>
<text x="1375" y="216.9" font-family="'Liberation Sans',Arial,sans-serif" font-size="6" font-weight="normal" fill="#fcb4b4" text-anchor="end">70</text>
<text x="1375" y="179.2" font-family="'Liberation Sans',Arial,sans-serif" font-size="6" font-weight="normal" fill="#fcb4b4" text-anchor="end">80</text>
<text x="1375" y="141.6" font-family="'Liberation Sans',Arial,sans-serif" font-size="6" font-weight="normal" fill="#fcb4b4" text-anchor="end">90</text>
<text x="1375" y="104" font-family="'Liberation Sans',Arial,sans-serif" font-size="6" font-weight="normal" fill="#fcb4b4" text-anchor="end">100</text>
<text transform="translate(1342,501.5) rotate(-60)" font-family="'Liberation Sans',Arial,sans-serif" font-size="7" fill="#e4e4e4" text-anchor="middle" dominant-baseline="middle">0.2</text>
<text transform="translate(1397,501.5) rotate(-60)" font-family="'Liberation Sans',Arial,sans-serif" font-size="7" fill="#e4e4e4" text-anchor="middle" dominant-baseline="middle">0.5</text>
<text transform="translate(1442.6,501.5) rotate(-60)" font-family="'Liberation Sans',Arial,sans-serif" font-size="7" fill="#e4e4e4" text-anchor="middle" dominant-baseline="middle">1</text>
<text transform="translate(1484,501.5) rotate(-60)" font-family="'Liberation Sans',Arial,sans-serif" font-size="7" fill="#e4e4e4" text-anchor="middle" dominant-baseline="middle">2</text>
<text transform="translate(1539,501.5) rotate(-60)" font-family="'Liberation Sans',Arial,sans-serif" font-size="7" fill="#e4e4e4" text-anchor="middle" dominant-baseline="middle">5</text>
<text transform="translate(1581,501.5) rotate(-60)" font-family="'Liberation Sans',Arial,sans-serif" font-size="7" fill="#e4e4e4" text-anchor="middle" dominant-baseline="middle">10</text>
<text transform="translate(1622,501.5) rotate(-60)" font-family="'Liberation Sans',Arial,sans-serif" font-size="7" fill="#e4e4e4" text-anchor="middle" dominant-baseline="middle">20</text>
<text transform="translate(1677.6,501.5) rotate(-60)" font-family="'Liberation Sans',Arial,sans-serif" font-size="7" fill="#e4e4e4" text-anchor="middle" dominant-baseline="middle">50</text>
<text transform="translate(1718.8,501.5) rotate(-60)" font-family="'Liberation Sans',Arial,sans-serif" font-size="7" fill="#e4e4e4" text-anchor="middle" dominant-baseline="middle">100</text>
<text transform="translate(1760,501.5) rotate(-60)" font-family="'Liberation Sans',Arial,sans-serif" font-size="7" fill="#e4e4e4" text-anchor="middle" dominant-baseline="middle">200</text>
<text transform="translate(1815,501.5) rotate(-60)" font-family="'Liberation Sans',Arial,sans-serif" font-size="7" fill="#e4e4e4" text-anchor="middle" dominant-baseline="middle">500</text>
<text transform="translate(1856.2,501.5) rotate(-60)" font-family="'Liberation Sans',Arial,sans-serif" font-size="7" fill="#e4e4e4" text-anchor="middle" dominant-baseline="middle">1000</text>
<text transform="translate(1897.5,501.5) rotate(-60)" font-family="'Liberation Sans',Arial,sans-serif" font-size="7" fill="#e4e4e4" text-anchor="middle" dominant-baseline="middle">2000</text>
<text transform="translate(1953.4,501.5) rotate(-60)" font-family="'Liberation Sans',Arial,sans-serif" font-size="7" fill="#e4e4e4" text-anchor="middle" dominant-baseline="middle">5000</text>
<text transform="translate(1992.8,501.5) rotate(-60)" font-family="'Liberation Sans',Arial,sans-serif" font-size="7" fill="#e4e4e4" text-anchor="middle" dominant-baseline="middle">10000</text>
<path d="M1357.4,481.6 1637.6,481.6 1648.6,113 1654.3,105 1655.7,105.7 1657.3,145 1665,331 1671.3,443.6 1674.8,470 1681.2,481.8 1996,481.8" fill="none" stroke="#3f4cc2" stroke-width="2.1" stroke-linejoin="round" stroke-linecap="round" stroke-linecap="butt"/>
<text x="1318.6" y="56" font-family="'DejaVu Sans','Liberation Sans',sans-serif" font-size="37" font-weight="normal" fill="#fde4e4" text-anchor="start" textLength="29.5" lengthAdjust="spacingAndGlyphs">%</text>
<text transform="translate(1336.2,473.2) rotate(-90)" font-family="'DejaVu Sans','Liberation Sans',sans-serif" font-size="26.5" font-weight="bold" fill="#fff4f4" text-anchor="start" textLength="319" lengthAdjust="spacingAndGlyphs">number weighted</text>
<text x="1437.3" y="57.4" font-family="'Liberation Serif','Times New Roman',serif" font-size="30" font-weight="bold" fill="#111" text-anchor="start" textLength="365.6" lengthAdjust="spacingAndGlyphs">Average diameter&#160; 34.32 nm</text>
<text x="1840.7" y="541.8" font-family="'DejaVu Sans','Liberation Sans',sans-serif" font-size="33" font-weight="bold" fill="#fbfbf8" text-anchor="start" textLength="160" lengthAdjust="spacingAndGlyphs" clip-path="url(#clipc)">nanometers</text>
<text x="1351.5" y="525.3" font-family="'Liberation Serif','Times New Roman',serif" font-size="44" font-weight="bold" fill="#000" text-anchor="start">c</text>
<rect x="1309" y="12.3" width="687.8" height="534.7" fill="none" stroke="#262626" stroke-width="2.5" />
<rect x="16" y="554.5" width="920" height="522" fill="#fff" stroke="none" stroke-width="0" />
<rect x="17" y="555.5" width="88.7" height="464.5" fill="#fb8080" stroke="none" stroke-width="0" />
<rect x="17" y="1020" width="918.5" height="56.5" fill="#969696" stroke="none" stroke-width="0" />
<clipPath id="clipd"><rect x="17" y="555.5" width="918.5" height="520.5"/></clipPath>
<text x="634.6" y="591" font-family="'DejaVu Sans','Liberation Sans',sans-serif" font-size="42" font-weight="bold" fill="#afafaf" text-anchor="start" textLength="304" lengthAdjust="spacingAndGlyphs" clip-path="url(#clipd)">phase analysis</text>
<line x1="147.7" y1="555.5" x2="147.7" y2="1020" stroke="#c2c2c2" stroke-width="1.7" />
<line x1="189.6" y1="555.5" x2="189.6" y2="1020" stroke="#c2c2c2" stroke-width="1.7" />
<line x1="231.6" y1="555.5" x2="231.6" y2="1020" stroke="#c2c2c2" stroke-width="1.7" />
<line x1="273.5" y1="555.5" x2="273.5" y2="1020" stroke="#c2c2c2" stroke-width="1.7" />
<line x1="315.4" y1="555.5" x2="315.4" y2="1020" stroke="#c2c2c2" stroke-width="1.7" />
<line x1="357.4" y1="555.5" x2="357.4" y2="1020" stroke="#c2c2c2" stroke-width="1.7" />
<line x1="399.4" y1="555.5" x2="399.4" y2="1020" stroke="#c2c2c2" stroke-width="1.7" />
<line x1="441.3" y1="555.5" x2="441.3" y2="1020" stroke="#c2c2c2" stroke-width="1.7" />
<line x1="483.2" y1="555.5" x2="483.2" y2="1020" stroke="#c2c2c2" stroke-width="1.7" />
<line x1="525.2" y1="555.5" x2="525.2" y2="1020" stroke="#c2c2c2" stroke-width="1.7" />
<line x1="567.2" y1="555.5" x2="567.2" y2="1020" stroke="#c2c2c2" stroke-width="1.7" />
<line x1="609.1" y1="555.5" x2="609.1" y2="1020" stroke="#c2c2c2" stroke-width="1.7" />
<line x1="651.1" y1="555.5" x2="651.1" y2="1020" stroke="#c2c2c2" stroke-width="1.7" />
<line x1="693" y1="555.5" x2="693" y2="1020" stroke="#c2c2c2" stroke-width="1.7" />
<line x1="735" y1="555.5" x2="735" y2="1020" stroke="#c2c2c2" stroke-width="1.7" />
<line x1="776.9" y1="555.5" x2="776.9" y2="1020" stroke="#c2c2c2" stroke-width="1.7" />
<line x1="818.9" y1="555.5" x2="818.9" y2="1020" stroke="#c2c2c2" stroke-width="1.7" />
<line x1="860.8" y1="555.5" x2="860.8" y2="1020" stroke="#c2c2c2" stroke-width="1.7" />
<line x1="902.8" y1="555.5" x2="902.8" y2="1020" stroke="#c2c2c2" stroke-width="1.7" />
<line x1="105.7" y1="601.9" x2="935" y2="601.9" stroke="#c2c2c2" stroke-width="1.7" />
<line x1="105.7" y1="643.8" x2="935" y2="643.8" stroke="#c2c2c2" stroke-width="1.7" />
<line x1="105.7" y1="685.6" x2="935" y2="685.6" stroke="#c2c2c2" stroke-width="1.7" />
<line x1="105.7" y1="727.5" x2="935" y2="727.5" stroke="#c2c2c2" stroke-width="1.7" />
<line x1="105.7" y1="769.4" x2="935" y2="769.4" stroke="#c2c2c2" stroke-width="1.7" />
<line x1="105.7" y1="811.2" x2="935" y2="811.2" stroke="#c2c2c2" stroke-width="1.7" />
<line x1="105.7" y1="853.1" x2="935" y2="853.1" stroke="#c2c2c2" stroke-width="1.7" />
<line x1="105.7" y1="895" x2="935" y2="895" stroke="#c2c2c2" stroke-width="1.7" />
<line x1="105.7" y1="936.9" x2="935" y2="936.9" stroke="#c2c2c2" stroke-width="1.7" />
<line x1="105.7" y1="978.7" x2="935" y2="978.7" stroke="#c2c2c2" stroke-width="1.7" />
<text x="102.5" y="599.4" font-family="'DejaVu Sans','Liberation Sans',sans-serif" font-size="9" font-weight="normal" fill="#fcc4c4" text-anchor="end">-1</text>
<text x="102.5" y="641.3" font-family="'DejaVu Sans','Liberation Sans',sans-serif" font-size="9" font-weight="normal" fill="#fcc4c4" text-anchor="end">-3</text>
<text x="102.5" y="683.1" font-family="'DejaVu Sans','Liberation Sans',sans-serif" font-size="9" font-weight="normal" fill="#fcc4c4" text-anchor="end">-5</text>
<text x="102.5" y="725" font-family="'DejaVu Sans','Liberation Sans',sans-serif" font-size="9" font-weight="normal" fill="#fcc4c4" text-anchor="end">-7</text>
<text x="102.5" y="766.9" font-family="'DejaVu Sans','Liberation Sans',sans-serif" font-size="9" font-weight="normal" fill="#fcc4c4" text-anchor="end">-9</text>
<text x="102.5" y="808.8" font-family="'DejaVu Sans','Liberation Sans',sans-serif" font-size="9" font-weight="normal" fill="#fcc4c4" text-anchor="end">-11</text>
<text x="102.5" y="850.6" font-family="'DejaVu Sans','Liberation Sans',sans-serif" font-size="9" font-weight="normal" fill="#fcc4c4" text-anchor="end">-13</text>
<text x="102.5" y="892.5" font-family="'DejaVu Sans','Liberation Sans',sans-serif" font-size="9" font-weight="normal" fill="#fcc4c4" text-anchor="end">-15</text>
<text x="102.5" y="934.4" font-family="'DejaVu Sans','Liberation Sans',sans-serif" font-size="9" font-weight="normal" fill="#fcc4c4" text-anchor="end">-17</text>
<text x="102.5" y="976.2" font-family="'DejaVu Sans','Liberation Sans',sans-serif" font-size="9" font-weight="normal" fill="#fcc4c4" text-anchor="end">-19</text>
<text x="102.5" y="1018.1" font-family="'DejaVu Sans','Liberation Sans',sans-serif" font-size="9" font-weight="normal" fill="#fcc4c4" text-anchor="end">-21</text>
<text transform="translate(99.7,1033.5) rotate(-52)" font-family="'DejaVu Sans','Liberation Sans',sans-serif" font-size="10" font-weight="bold" fill="#e6e2e2" text-anchor="end" dominant-baseline="middle">0</text>
<text transform="translate(141.7,1033.5) rotate(-52)" font-family="'DejaVu Sans','Liberation Sans',sans-serif" font-size="10" font-weight="bold" fill="#e6e2e2" text-anchor="end" dominant-baseline="middle">30</text>
<text transform="translate(183.6,1033.5) rotate(-52)" font-family="'DejaVu Sans','Liberation Sans',sans-serif" font-size="10" font-weight="bold" fill="#e6e2e2" text-anchor="end" dominant-baseline="middle">60</text>
<text transform="translate(225.6,1033.5) rotate(-52)" font-family="'DejaVu Sans','Liberation Sans',sans-serif" font-size="10" font-weight="bold" fill="#e6e2e2" text-anchor="end" dominant-baseline="middle">90</text>
<text transform="translate(267.5,1033.5) rotate(-52)" font-family="'DejaVu Sans','Liberation Sans',sans-serif" font-size="10" font-weight="bold" fill="#e6e2e2" text-anchor="end" dominant-baseline="middle">120</text>
<text transform="translate(309.4,1033.5) rotate(-52)" font-family="'DejaVu Sans','Liberation Sans',sans-serif" font-size="10" font-weight="bold" fill="#e6e2e2" text-anchor="end" dominant-baseline="middle">150</text>
<text transform="translate(351.4,1033.5) rotate(-52)" font-family="'DejaVu Sans','Liberation Sans',sans-serif" font-size="10" font-weight="bold" fill="#e6e2e2" text-anchor="end" dominant-baseline="middle">180</text>
<text transform="translate(393.4,1033.5) rotate(-52)" font-family="'DejaVu Sans','Liberation Sans',sans-serif" font-size="10" font-weight="bold" fill="#e6e2e2" text-anchor="end" dominant-baseline="middle">210</text>
<text transform="translate(435.3,1033.5) rotate(-52)" font-family="'DejaVu Sans','Liberation Sans',sans-serif" font-size="10" font-weight="bold" fill="#e6e2e2" text-anchor="end" dominant-baseline="middle">240</text>
<text transform="translate(477.2,1033.5) rotate(-52)" font-family="'DejaVu Sans','Liberation Sans',sans-serif" font-size="10" font-weight="bold" fill="#e6e2e2" text-anchor="end" dominant-baseline="middle">270</text>
<text transform="translate(519.2,1033.5) rotate(-52)" font-family="'DejaVu Sans','Liberation Sans',sans-serif" font-size="10" font-weight="bold" fill="#e6e2e2" text-anchor="end" dominant-baseline="middle">300</text>
<text transform="translate(561.2,1033.5) rotate(-52)" font-family="'DejaVu Sans','Liberation Sans',sans-serif" font-size="10" font-weight="bold" fill="#e6e2e2" text-anchor="end" dominant-baseline="middle">330</text>
<text transform="translate(603.1,1033.5) rotate(-52)" font-family="'DejaVu Sans','Liberation Sans',sans-serif" font-size="10" font-weight="bold" fill="#e6e2e2" text-anchor="end" dominant-baseline="middle">360</text>
<text transform="translate(645.1,1033.5) rotate(-52)" font-family="'DejaVu Sans','Liberation Sans',sans-serif" font-size="10" font-weight="bold" fill="#e6e2e2" text-anchor="end" dominant-baseline="middle">390</text>
<text transform="translate(687,1033.5) rotate(-52)" font-family="'DejaVu Sans','Liberation Sans',sans-serif" font-size="10" font-weight="bold" fill="#e6e2e2" text-anchor="end" dominant-baseline="middle">420</text>
<text transform="translate(729,1033.5) rotate(-52)" font-family="'DejaVu Sans','Liberation Sans',sans-serif" font-size="10" font-weight="bold" fill="#e6e2e2" text-anchor="end" dominant-baseline="middle">450</text>
<text transform="translate(770.9,1033.5) rotate(-52)" font-family="'DejaVu Sans','Liberation Sans',sans-serif" font-size="10" font-weight="bold" fill="#e6e2e2" text-anchor="end" dominant-baseline="middle">480</text>
<text transform="translate(812.9,1033.5) rotate(-52)" font-family="'DejaVu Sans','Liberation Sans',sans-serif" font-size="10" font-weight="bold" fill="#e6e2e2" text-anchor="end" dominant-baseline="middle">510</text>
<text transform="translate(854.8,1033.5) rotate(-52)" font-family="'DejaVu Sans','Liberation Sans',sans-serif" font-size="10" font-weight="bold" fill="#e6e2e2" text-anchor="end" dominant-baseline="middle">540</text>
<text transform="translate(896.8,1033.5) rotate(-52)" font-family="'DejaVu Sans','Liberation Sans',sans-serif" font-size="10" font-weight="bold" fill="#e6e2e2" text-anchor="end" dominant-baseline="middle">570</text>
<path d="M132,927 144.8,900.4 152,896 159.4,893.5 172.6,894.3 186,906.2 197.9,921.6 212.5,916.3 225.8,917.4 236.4,916.3 249.7,923.8 263,928 277.6,943.4 288.2,943.4 305.3,937.6 313.3,939.4 326.6,943.4 342.5,945.5 355.8,944.8 369.1,950 382.3,955.9 398.3,955.4 411.6,959.4 424.8,963.3 446.1,967.3 462,967.3 475.3,972.6 488.6,972.6 509.8,968.7 527.1,966" fill="none" stroke="#bd4444" stroke-width="2.6" stroke-linejoin="round" stroke-linecap="round" />
<text x="94.5" y="599.3" font-family="'DejaVu Sans','Liberation Sans',sans-serif" font-size="43" font-weight="bold" fill="#fff8f8" text-anchor="end" textLength="67.5" lengthAdjust="spacingAndGlyphs">mV</text>
<text x="770.7" y="1081" font-family="'DejaVu Sans','Liberation Sans',sans-serif" font-size="43" font-weight="bold" fill="#fbfbf8" text-anchor="start" textLength="168" lengthAdjust="spacingAndGlyphs" clip-path="url(#clipd)">seconds</text>
<text x="206.5" y="830.3" font-family="'Liberation Serif','Times New Roman',serif" font-size="36" font-weight="bold" fill="#111" text-anchor="start" textLength="376" lengthAdjust="spacingAndGlyphs">Zeta potential -18.41 mV</text>
<text x="55.5" y="1061.6" font-family="'Liberation Serif','Times New Roman',serif" font-size="35" font-weight="bold" fill="#000" text-anchor="start">d</text>
<rect x="16" y="554.5" width="919.7" height="522.3" fill="none" stroke="#3a3a3a" stroke-width="2.6" />
<rect x="943.4" y="553.6" width="1053.4" height="522.9" fill="none" stroke="#3a3a3a" stroke-width="2.6" />
<line x1="1081" y1="563.2" x2="1944.2" y2="563.2" stroke="#000" stroke-width="3" />
<line x1="1942.7" y1="561.7" x2="1942.7" y2="999.3" stroke="#000" stroke-width="3" />
<line x1="1082.5" y1="561.7" x2="1082.5" y2="999.3" stroke="#000" stroke-width="3" />
<line x1="1081" y1="997.9" x2="1944.2" y2="997.9" stroke="#000" stroke-width="3" />
<line x1="1070" y1="592" x2="1082.5" y2="592" stroke="#000" stroke-width="2.6" />
<text x="1057" y="600.3" font-family="'Liberation Serif','Times New Roman',serif" font-size="24.5" font-weight="bold" fill="#111" text-anchor="end" textLength="32" lengthAdjust="spacingAndGlyphs">99</text>
<line x1="1070" y1="679.3" x2="1082.5" y2="679.3" stroke="#000" stroke-width="2.6" />
<text x="1057" y="687.6" font-family="'Liberation Serif','Times New Roman',serif" font-size="24.5" font-weight="bold" fill="#111" text-anchor="end" textLength="32" lengthAdjust="spacingAndGlyphs">96</text>
<line x1="1070" y1="766.6" x2="1082.5" y2="766.6" stroke="#000" stroke-width="2.6" />
<text x="1057" y="774.9" font-family="'Liberation Serif','Times New Roman',serif" font-size="24.5" font-weight="bold" fill="#111" text-anchor="end" textLength="32" lengthAdjust="spacingAndGlyphs">93</text>
<line x1="1070" y1="853.9" x2="1082.5" y2="853.9" stroke="#000" stroke-width="2.6" />
<text x="1057" y="862.2" font-family="'Liberation Serif','Times New Roman',serif" font-size="24.5" font-weight="bold" fill="#111" text-anchor="end" textLength="32" lengthAdjust="spacingAndGlyphs">90</text>
<line x1="1070" y1="941.2" x2="1082.5" y2="941.2" stroke="#000" stroke-width="2.6" />
<text x="1057" y="949.5" font-family="'Liberation Serif','Times New Roman',serif" font-size="24.5" font-weight="bold" fill="#111" text-anchor="end" textLength="32" lengthAdjust="spacingAndGlyphs">87</text>
<line x1="1082.5" y1="998" x2="1082.5" y2="1006" stroke="#000" stroke-width="2.2" />
<text x="1082.5" y="1031.8" font-family="'Liberation Serif','Times New Roman',serif" font-size="24.5" font-weight="bold" fill="#111" text-anchor="middle" textLength="62.4" lengthAdjust="spacingAndGlyphs">4000</text>
<line x1="1202" y1="998" x2="1202" y2="1006" stroke="#000" stroke-width="2.2" />
<text x="1202" y="1031.8" font-family="'Liberation Serif','Times New Roman',serif" font-size="24.5" font-weight="bold" fill="#111" text-anchor="middle" textLength="62.4" lengthAdjust="spacingAndGlyphs">3500</text>
<line x1="1321.6" y1="998" x2="1321.6" y2="1006" stroke="#000" stroke-width="2.2" />
<text x="1321.6" y="1031.8" font-family="'Liberation Serif','Times New Roman',serif" font-size="24.5" font-weight="bold" fill="#111" text-anchor="middle" textLength="62.4" lengthAdjust="spacingAndGlyphs">3000</text>
<line x1="1441.1" y1="998" x2="1441.1" y2="1006" stroke="#000" stroke-width="2.2" />
<text x="1441.1" y="1031.8" font-family="'Liberation Serif','Times New Roman',serif" font-size="24.5" font-weight="bold" fill="#111" text-anchor="middle" textLength="62.4" lengthAdjust="spacingAndGlyphs">2500</text>
<line x1="1560.6" y1="998" x2="1560.6" y2="1006" stroke="#000" stroke-width="2.2" />
<text x="1560.6" y="1031.8" font-family="'Liberation Serif','Times New Roman',serif" font-size="24.5" font-weight="bold" fill="#111" text-anchor="middle" textLength="62.4" lengthAdjust="spacingAndGlyphs">2000</text>
<line x1="1680.2" y1="998" x2="1680.2" y2="1006" stroke="#000" stroke-width="2.2" />
<text x="1680.2" y="1031.8" font-family="'Liberation Serif','Times New Roman',serif" font-size="24.5" font-weight="bold" fill="#111" text-anchor="middle" textLength="62.4" lengthAdjust="spacingAndGlyphs">1500</text>
<line x1="1799.7" y1="998" x2="1799.7" y2="1006" stroke="#000" stroke-width="2.2" />
<text x="1799.7" y="1031.8" font-family="'Liberation Serif','Times New Roman',serif" font-size="24.5" font-weight="bold" fill="#111" text-anchor="middle" textLength="62.4" lengthAdjust="spacingAndGlyphs">1000</text>
<line x1="1919.2" y1="998" x2="1919.2" y2="1006" stroke="#000" stroke-width="2.2" />
<text x="1919.2" y="1031.8" font-family="'Liberation Serif','Times New Roman',serif" font-size="24.5" font-weight="bold" fill="#111" text-anchor="middle" textLength="46.8" lengthAdjust="spacingAndGlyphs">500</text>
<text transform="translate(999.8,862.9) rotate(-90)" font-family="'Liberation Serif','Times New Roman',serif" font-size="25" font-weight="bold" fill="#000" text-anchor="start" textLength="220" lengthAdjust="spacingAndGlyphs">Transmittance (%)</text>
<text x="1356.7" y="1065.3" font-family="'Liberation Serif','Times New Roman',serif" font-size="25" font-weight="bold" fill="#111" text-anchor="start" textLength="200.8" lengthAdjust="spacingAndGlyphs">Wavenumber</text>
<text x="1569.5" y="1065.3" font-family="'Liberation Serif','Times New Roman',serif" font-size="25" font-weight="bold" fill="#111" text-anchor="start" textLength="41.5" lengthAdjust="spacingAndGlyphs">cm</text>
<text x="1614" y="1059.8" font-family="'Liberation Sans',Arial,sans-serif" font-size="22" font-weight="bold" fill="#111" text-anchor="start" textLength="26.4" lengthAdjust="spacingAndGlyphs">-1</text>
<text x="976.3" y="1055" font-family="'Liberation Serif','Times New Roman',serif" font-size="46" font-weight="bold" fill="#000" text-anchor="start">e</text>
<path d="M1085,563.3 1086.5,563.3 1088,563.4 1089.5,563.4 1090.9,563.5 1092.3,563.6 1093.5,563.7 1094.5,563.9 1095.3,564 1096,564.2 1096.7,564.6 1097.3,565.2 1097.9,565.8 1098.4,566.6 1098.9,567.6 1099.4,568.6 1099.9,569.7 1100.3,571 1100.7,572.3 1101.1,573.6 1101.5,575.1 1101.9,576.5 1102.3,578.1 1102.6,579.6 1103,581.2 1103.3,582.7 1103.7,584.3 1104,585.9 1104.4,587.4 1104.8,588.9 1105.2,590.4 1105.6,591.8 1106,593.1 1106.4,594.4 1106.9,595.6 1107.4,596.8 1107.8,598 1108.3,599.2 1108.8,600.4 1109.2,601.6 1109.7,602.8 1110.2,604 1110.7,605.3 1111.1,606.5 1111.6,607.7 1112.1,608.9 1112.6,610.1 1113,611.3 1113.5,612.5 1114,613.7 1114.5,614.9 1115,616.1 1115.5,617.3 1115.9,618.5 1116.4,619.7 1116.9,620.9 1117.4,622.1 1117.9,623.3 1118.4,624.5 1118.9,625.7 1119.4,626.9 1119.9,628 1120.4,629.2 1120.9,630.4 1121.4,631.6 1121.9,632.8 1122.4,634 1122.9,635.2 1123.4,636.4 1123.9,637.6 1124.4,638.8 1124.9,640 1125.4,641.1 1125.9,642.3 1126.5,643.5 1127,644.7 1127.5,645.9 1128,647.1 1128.5,648.3 1129,649.5 1129.5,650.7 1130.1,651.9 1130.6,653 1131.1,654.2 1131.7,655.4 1132.2,656.6 1132.7,657.8 1133.3,658.9 1133.9,660.1 1134.4,661.2 1135,662.4 1135.6,663.5 1136.2,664.7 1136.8,665.8 1137.4,667 1138,668.2 1138.6,669.3 1139.3,670.5 1139.9,671.6 1140.6,672.7 1141.3,673.8 1142,674.9 1142.7,675.9 1143.5,676.9 1144.3,678 1145.2,679.2 1146.2,680.1 1147.2,680.5 1148.3,680.2 1149.6,679.6 1150.8,678.8 1151.8,677.9 1152.5,677 1153.1,676.1 1153.6,675 1154.1,673.9 1154.5,672.7 1154.9,671.4 1155.2,670.1 1155.6,668.8 1155.9,667.4 1156.2,666 1156.4,664.7 1156.7,663.3 1156.9,662 1157.1,660.7 1157.3,659.5 1157.5,658.2 1157.6,656.9 1157.8,655.7 1158,654.4 1158.1,653.1 1158.3,651.8 1158.4,650.5 1158.5,649.2 1158.7,648 1158.8,646.7 1158.9,645.4 1159,644.1 1159.1,642.8 1159.2,641.5 1159.3,640.2 1159.4,638.9 1159.5,637.6 1159.7,636.3 1159.8,635 1159.9,633.7 1160,632.4 1160.1,631.1 1160.2,629.8 1160.3,628.6 1160.4,627.3 1160.5,626 1160.7,624.7 1160.8,623.4 1160.9,622.1 1161.1,620.8 1161.2,619.5 1161.4,618.2 1161.5,617 1161.6,615.7 1161.8,614.4 1161.9,613.1 1162.1,611.8 1162.2,610.5 1162.4,609.2 1162.5,608 1162.7,606.7 1162.8,605.4 1163,604.1 1163.2,602.8 1163.3,601.5 1163.5,600.3 1163.6,599 1163.8,597.7 1164,596.4 1164.1,595.1 1164.3,593.8 1164.4,592.5 1164.6,591.3 1164.8,590 1164.9,588.7 1165.1,587.4 1165.3,586 1165.4,584.4 1165.5,582.8 1165.7,581.2 1165.8,579.5 1165.9,577.8 1166.1,576.1 1166.2,574.4 1166.3,572.8 1166.5,571.3 1166.7,569.8 1166.8,568.5 1167,567.3 1167.2,566.3 1167.5,565.5 1167.7,564.8 1168,564.4 1168.3,564.3 1168.8,564.6 1169.5,565.4 1170.4,566.5 1171.3,567.8 1172.1,569.3 1172.8,570.6 1173.3,571.7 1173.7,572.9 1174.1,574.1 1174.4,575.3 1174.7,576.5 1175,577.8 1175.3,579 1175.6,580.3 1175.9,581.6 1176.1,582.9 1176.4,584.2 1176.6,585.5 1176.8,586.8 1177,588.1 1177.3,589.4 1177.5,590.7 1177.7,592 1178,593.3 1178.2,594.5 1178.5,595.8 1178.8,597.1 1179,598.3 1179.3,599.6 1179.6,600.9 1179.9,602.1 1180.1,603.4 1180.4,604.7 1180.6,605.9 1180.9,607.2 1181.2,608.5 1181.4,609.7 1181.7,611 1181.9,612.3 1182.2,613.6 1182.4,614.8 1182.7,616.1 1182.9,617.4 1183.1,618.6 1183.3,619.9 1183.6,621.2 1183.8,622.5 1184,623.7 1184.2,625 1184.4,626.3 1184.6,627.6 1184.8,628.8 1185,630.1 1185.2,631.4 1185.3,632.7 1185.5,634 1185.7,635.3 1185.9,636.5 1186.1,637.8 1186.2,639.1 1186.4,640.4 1186.6,641.7 1186.7,643 1186.9,644.2 1187.1,645.5 1187.2,646.8 1187.4,648.1 1187.5,649.4 1187.7,650.7 1187.9,652 1188,653.2 1188.2,654.5 1188.3,655.8 1188.5,657.1 1188.7,658.4 1188.8,659.7 1189,660.9 1189.1,662.2 1189.3,663.5 1189.5,664.8 1189.6,666.1 1189.8,667.4 1190,668.7 1190.1,669.9 1190.3,671.2 1190.5,672.5 1190.7,673.8 1190.9,675.1 1191.1,676.3 1191.2,677.6 1191.4,678.9 1191.6,680.2 1191.8,681.5 1192,682.7 1192.2,684 1192.5,685.3 1192.7,686.5 1192.9,687.8 1193.1,689.1 1193.4,690.4 1193.6,691.6 1193.9,692.9 1194.1,694.2 1194.4,695.4 1194.7,696.7 1195,698 1195.3,699.2 1195.5,700.5 1195.8,701.7 1196.1,703 1196.4,704.3 1196.7,705.5 1197,706.8 1197.3,708.1 1197.6,709.3 1197.9,710.6 1198.1,711.9 1198.4,713.2 1198.6,714.6 1198.9,716 1199.1,717.4 1199.3,718.8 1199.6,720.2 1199.8,721.7 1200,723.1 1200.2,724.6 1200.4,726.1 1200.6,727.6 1200.8,729.1 1201,730.6 1201.2,732.1 1201.5,733.6 1201.7,735.1 1201.9,736.5 1202.1,738 1202.3,739.5 1202.6,740.9 1202.8,742.3 1203,743.8 1203.3,745.1 1203.5,746.5 1203.8,747.9 1204.1,749.2 1204.4,750.5 1204.7,751.7 1205,753 1205.3,754.1 1205.7,755.3 1206,756.4 1206.4,757.5 1206.8,758.5 1207.2,759.5 1207.7,760.4 1208.1,761.3 1208.6,762.2 1209.1,762.9 1209.6,763.7 1210.1,764.3 1210.7,764.9 1211.5,765.5 1212.7,766 1214.1,766.4 1215.4,766.5 1216.5,766.1 1217.7,765.3 1218.7,764.3 1219.6,763.2 1220.4,762.3 1221,761.3 1221.6,760.3 1222.2,759.2 1222.7,758.2 1223.2,757 1223.7,755.8 1224.2,754.6 1224.6,753.4 1225.1,752.2 1225.5,750.9 1225.9,749.6 1226.2,748.3 1226.6,747 1227,745.7 1227.3,744.3 1227.6,743 1228,741.7 1228.3,740.4 1228.6,739.1 1229,737.8 1229.3,736.6 1229.7,735.3 1230,734.1 1230.3,732.8 1230.7,731.6 1231,730.3 1231.3,729.1 1231.6,727.8 1231.9,726.6 1232.2,725.3 1232.5,724.1 1232.8,722.8 1233.1,721.6 1233.4,720.3 1233.7,719 1234,717.8 1234.3,716.5 1234.6,715.3 1234.8,714 1235.1,712.7 1235.4,711.5 1235.6,710.2 1235.9,708.9 1236.2,707.7 1236.4,706.4 1236.7,705.1 1236.9,703.9 1237.2,702.6 1237.4,701.3 1237.7,700 1238,698.8 1238.2,697.5 1238.4,696.2 1238.7,695 1238.9,693.7 1239.2,692.4 1239.4,691.1 1239.7,689.9 1239.9,688.6 1240.2,687.3 1240.4,686 1240.7,684.8 1240.9,683.5 1241.2,682.2 1241.4,680.9 1241.7,679.7 1241.9,678.4 1242.2,677.1 1242.4,675.9 1242.7,674.6 1242.9,673.3 1243.2,672 1243.4,670.8 1243.7,669.5 1244,668.2 1244.2,667 1244.5,665.7 1244.8,664.4 1245.1,663.2 1245.3,661.9 1245.6,660.6 1245.9,659.4 1246.2,658.1 1246.4,656.8 1246.7,655.6 1247,654.3 1247.2,653 1247.5,651.8 1247.8,650.5 1248,649.2 1248.3,648 1248.5,646.7 1248.8,645.4 1249.1,644.1 1249.3,642.9 1249.6,641.6 1249.8,640.3 1250.1,639.1 1250.4,637.8 1250.6,636.5 1250.9,635.2 1251.2,634 1251.4,632.7 1251.7,631.4 1252,630.2 1252.2,628.9 1252.5,627.6 1252.8,626.4 1253.1,625.1 1253.4,623.8 1253.6,622.6 1253.9,621.3 1254.2,620 1254.5,618.8 1254.8,617.5 1255.1,616.3 1255.4,615 1255.8,613.8 1256.1,612.5 1256.4,611.3 1256.7,610 1257.1,608.8 1257.4,607.6 1257.8,606.3 1258.1,605.1 1258.5,603.9 1258.8,602.6 1259.2,601.4 1259.6,600.2 1260,598.9 1260.4,597.7 1260.8,596.4 1261.2,595.2 1261.7,594 1262.1,592.7 1262.6,591.5 1263,590.3 1263.5,589.1 1264,587.9 1264.5,586.7 1265,585.5 1265.5,584.3 1266.1,583.1 1266.6,582 1267.2,580.8 1267.7,579.7 1268.3,578.5 1269,577.3 1269.7,575.9 1270.4,574.5 1271.1,573.1 1271.9,571.8 1272.7,570.6 1273.5,569.6 1274.3,568.7 1275.1,568.2 1275.9,568 1276.8,568.1 1277.7,568.5 1278.7,569.1 1279.7,569.9 1280.7,570.9 1281.7,572 1282.7,573.2 1283.7,574.4 1284.6,575.7 1285.4,576.9 1286,578.1 1286.6,579.2 1287.1,580.3 1287.6,581.3 1288,582.4 1288.4,583.6 1288.8,584.7 1289.2,585.8 1289.6,587 1290,588.2 1290.3,589.4 1290.7,590.6 1291,591.8 1291.3,593 1291.6,594.2 1291.9,595.5 1292.2,596.8 1292.5,598 1292.8,599.3 1293,600.6 1293.3,601.9 1293.5,603.2 1293.8,604.5 1294,605.8 1294.3,607.1 1294.5,608.4 1294.7,609.8 1295,611.1 1295.2,612.4 1295.4,613.8 1295.7,615.1 1295.9,616.4 1296.1,617.7 1296.4,619.1 1296.6,620.4 1296.8,621.7 1297.1,623 1297.4,624.3 1297.6,625.7 1297.9,627 1298.2,628.3 1298.5,629.5 1298.7,630.8 1299.1,632.1 1299.4,633.4 1299.7,634.6 1300,635.9 1300.4,637.1 1300.7,638.4 1301.1,639.6 1301.4,640.8 1301.8,642.1 1302.2,643.3 1302.5,644.6 1302.9,645.8 1303.3,647.1 1303.6,648.3 1304,649.5 1304.4,650.8 1304.8,652 1305.2,653.2 1305.6,654.5 1305.9,655.7 1306.3,656.9 1306.7,658.2 1307.1,659.4 1307.5,660.6 1307.9,661.9 1308.3,663.1 1308.7,664.3 1309.1,665.6 1309.5,666.8 1309.9,668 1310.4,669.3 1310.8,670.5 1311.2,671.7 1311.6,672.9 1312,674.2 1312.4,675.4 1312.8,676.6 1313.2,677.8 1313.6,679.1 1314,680.3 1314.4,681.5 1314.8,682.8 1315.2,684 1315.6,685.3 1316,686.5 1316.4,687.7 1316.8,689 1317.2,690.2 1317.6,691.5 1318,692.7 1318.4,693.9 1318.8,695.2 1319.3,696.4 1319.7,697.6 1320.1,698.9 1320.5,700.1 1321,701.3 1321.4,702.5 1321.8,703.8 1322.3,705 1322.8,706.2 1323.2,707.4 1323.7,708.6 1324.2,709.7 1324.7,710.9 1325.2,712.1 1325.7,713.3 1326.3,714.4 1326.8,715.6 1327.4,716.7 1328,717.9 1328.6,719 1329.2,720.2 1329.8,721.3 1330.4,722.5 1331.1,723.6 1331.8,724.7 1332.5,725.8 1333.2,727 1333.9,728.1 1334.6,729.1 1335.3,730.2 1336.1,731.3 1336.9,732.3 1337.6,733.3 1338.4,734.3 1339.2,735.3 1340,736.3 1340.9,737.3 1341.7,738.2 1342.6,739.2 1343.5,740.1 1344.5,741 1345.4,741.9 1346.4,742.8 1347.4,743.7 1348.4,744.5 1349.4,745.3 1350.5,746.1 1351.5,746.9 1352.5,747.6 1353.6,748.3 1354.7,749 1355.8,749.6 1356.9,750.3 1358.1,751 1359.2,751.6 1360.4,752.2 1361.6,752.7 1362.8,753.3 1364,753.7 1365.2,754.2 1366.4,754.6 1367.6,754.9 1368.8,755.3 1370.1,755.7 1371.3,756 1372.5,756.4 1373.8,756.7 1375.1,757.1 1376.3,757.4 1377.6,757.7 1378.9,758 1380.2,759.6 1381.5,758.6 1382.7,759 1384,758.6 1385.3,759.9 1386.6,758.1 1387.9,759.6 1389.2,761 1390.5,759.5 1391.8,759.8 1393.1,760.2 1394.3,759.3 1395.6,759.8 1396.9,760.3 1398.2,759.8 1399.5,759.9 1400.8,759.4 1402.1,759.8 1403.4,759.6 1404.7,760.4 1406,759.9 1407.3,759.2 1408.6,757.8 1409.9,759.6 1411.2,759.6 1412.5,758.5 1413.8,757.7 1415,758.1 1416.3,759.3 1417.6,758 1418.9,758.3 1420.2,758.6 1421.5,759 1422.7,758.1 1424,757.9 1425.3,757.4 1426.6,758.5 1427.8,758 1429.1,757 1430.4,756 1431.6,756.1 1432.9,756.6 1434.2,755.5 1435.4,756.2 1436.7,755.6 1438,755.3 1439.2,755.2 1440.5,754.8 1441.8,753.6 1443,753.7 1444.3,755 1445.6,752.6 1446.8,752.7 1448.1,753.4 1449.4,752.4 1450.6,751.7 1451.9,751.1 1453.2,752 1454.5,752 1455.8,751.9 1457,750.8 1458.3,751.2 1459.6,749.6 1460.9,750 1462.1,749.2 1463.4,749.4 1464.6,749.4 1465.9,749.3 1467.1,747.7 1468.3,748.7 1469.6,747.2 1470.8,746.5 1471.9,746.6 1473.1,745.4 1474.3,745.7 1475.4,745.3 1476.5,744.4 1477.6,744.1 1478.7,742.9 1479.8,742.3 1480.9,740.7 1482,740.9 1483.1,739.6 1484.2,739.2 1485.3,738.8 1486.5,738.4 1487.6,736.7 1488.8,736.3 1490,736.5 1491.2,736.5 1492.3,735.9 1493.5,735.7 1494.8,735.5 1496,734.6 1497.2,733.8 1498.4,732.7 1499.6,732.3 1500.8,732.2 1502,732.1 1503.3,731.7 1504.5,731.1 1505.7,730.5 1506.9,730.5 1508.1,729.8 1509.3,729.4 1510.5,728.9 1511.7,727.9 1512.9,727.1 1514.1,727.5 1515.3,726.9 1516.4,725.9 1517.6,725.2 1518.8,726.2 1519.9,723.8 1521.1,723.4 1522.3,723.1 1523.4,721.6 1524.6,721.8 1525.7,722.1 1526.9,721 1528.1,720.2 1529.2,719.7 1530.4,718.8 1531.6,718.8 1532.8,717.7 1534,717.1 1535.2,717 1536.4,717.1 1537.6,716.5 1538.9,716.4 1540.1,714.6 1541.4,716.3 1542.7,716.7 1544,715.9 1545.3,714.8 1546.6,714.3 1547.9,714.9 1549.1,714.1 1550.4,715.2 1551.6,714.6 1552.8,715.8 1553.9,716.5 1555.1,715 1556.3,717 1557.4,717.1 1558.6,717.4 1559.7,718.6 1560.8,719.6 1562,721.1 1563.1,720.3 1564.2,722.6 1565.4,723.8 1566.5,723.6 1567.6,724.2 1568.8,724.6 1569.9,724.7 1571,726.5 1572,727.1 1573.1,728.1 1574.2,730 1575.3,729.6 1576.4,730.2 1577.5,731.5 1578.7,730.4 1579.8,731.1 1580.9,732.1 1582.1,732.4 1583.3,733.5 1584.5,733.2 1585.7,734.7 1587,734.8 1588.3,734.6 1589.6,734.1 1590.9,734.9 1592.2,735.2 1593.5,734.2 1594.8,735.1 1596.1,735.4 1597.3,735.1 1598.6,735.9 1599.9,735.5 1601.3,734 1602.6,734.3 1603.9,733.3 1605.2,733.7 1606.5,732.4 1607.7,732.9 1608.9,732.1 1610,731.9 1610.9,730.6 1611.9,729.2 1612.8,730.4 1613.6,728.3 1614.5,728.3 1615.3,726.6 1616,725.6 1616.8,725.1 1617.5,723 1618.1,722.5 1618.8,719.5 1619.3,719.8 1619.9,717.9 1620.4,716.9 1620.9,715.8 1621.4,714.6 1621.9,713.4 1622.4,712.2 1622.8,711 1623.3,709.7 1623.7,708.5 1624.1,707.2 1624.5,706 1624.8,704.7 1625.2,703.5 1625.5,702.2 1625.8,700.9 1626.1,699.7 1626.4,698.4 1626.7,697.2 1626.9,695.9 1627.2,694.6 1627.4,693.4 1627.6,692.1 1627.8,690.8 1628.1,689.6 1628.3,688.3 1628.5,687 1628.7,685.7 1628.9,684.5 1629,683.2 1629.2,681.9 1629.4,680.6 1629.6,679.3 1629.7,678 1629.9,676.7 1630.1,675.4 1630.2,674.2 1630.4,672.9 1630.5,671.6 1630.7,670.3 1630.8,669 1631,667.7 1631.1,666.4 1631.2,665.1 1631.4,663.8 1631.5,662.5 1631.7,661.3 1631.8,660 1631.9,658.7 1632.1,657.4 1632.2,656.1 1632.3,654.8 1632.4,653.5 1632.5,652.2 1632.6,651 1632.8,649.7 1632.9,648.4 1633,647.1 1633.1,645.8 1633.2,644.5 1633.3,643.2 1633.3,641.9 1633.4,640.6 1633.5,639.3 1633.6,638 1633.7,636.7 1633.8,635.4 1633.9,634.2 1634,632.9 1634.1,631.6 1634.2,630.3 1634.3,629 1634.4,627.7 1634.4,626.4 1634.5,625.1 1634.6,623.8 1634.7,622.5 1634.8,621.2 1634.9,619.9 1635,618.7 1635.2,617.4 1635.3,616.1 1635.4,614.8 1635.5,613.5 1635.6,612.2 1635.7,610.9 1635.9,609.6 1636,608.4 1636.2,607.1 1636.3,605.8 1636.4,604.5 1636.6,603.2 1636.8,602 1636.9,600.7 1637.1,599.4 1637.3,598.1 1637.4,596.8 1637.6,595.5 1637.8,594.2 1638,592.9 1638.3,591.6 1638.5,590.3 1638.7,589 1639,587.7 1639.2,586.5 1639.5,585.2 1639.8,583.9 1640.1,582.7 1640.4,581.4 1640.7,580.2 1641,578.9 1641.4,577.7 1641.8,576.5 1642.2,575.3 1642.7,574 1643.2,572.6 1643.9,571.1 1644.6,569.6 1645.4,568.3 1646.1,567.1 1646.8,566.2 1647.5,565.7 1648.1,565.5 1648.7,565.8 1649.3,566.6 1649.9,567.7 1650.5,569.1 1651,570.6 1651.5,572.2 1651.9,573.8 1652.2,575.2 1652.4,576.5 1652.6,577.7 1652.8,578.9 1652.9,580.2 1653.1,581.5 1653.2,582.7 1653.3,584 1653.4,585.3 1653.6,586.5 1653.7,587.8 1653.8,589.1 1653.9,590.4 1653.9,591.7 1654,593 1654.1,594.3 1654.2,595.6 1654.3,596.9 1654.3,598.2 1654.4,599.5 1654.5,600.8 1654.5,602.1 1654.6,603.4 1654.7,604.8 1654.7,606.1 1654.8,607.4 1654.9,608.7 1655,610 1655.1,611.3 1655.2,612.6 1655.3,613.9 1655.4,615.2 1655.5,616.5 1655.6,617.8 1655.7,619.1 1655.8,620.3 1656,621.6 1656.1,622.9 1656.3,624.2 1656.4,625.5 1656.6,626.8 1656.7,628.1 1656.9,629.3 1657.1,630.6 1657.3,631.9 1657.4,633.2 1657.6,634.5 1657.8,635.7 1658,637 1658.2,638.3 1658.3,639.6 1658.5,640.9 1658.7,642.2 1658.9,643.4 1659.1,644.7 1659.3,646 1659.5,647.3 1659.7,648.6 1659.9,649.8 1660.1,651.1 1660.3,652.4 1660.4,653.7 1660.6,655 1660.8,656.2 1661,657.5 1661.2,658.8 1661.4,660.2 1661.5,661.5 1661.7,662.9 1661.8,664.3 1662,665.6 1662.1,667 1662.2,668.4 1662.4,669.8 1662.5,671.2 1662.7,672.6 1662.8,674 1663,675.3 1663.2,676.7 1663.3,678 1663.5,679.3 1663.8,680.6 1664,681.8 1664.2,683 1664.5,684.2 1664.8,685.4 1665.1,686.4 1665.4,687.5 1665.7,688.5 1666.1,689.4 1666.7,690.3 1667.6,691.1 1668.7,691.9 1669.9,692.6 1671.2,693.3 1672.3,694.1 1673.4,694.9 1674.3,695.9 1675.1,697 1676,698.1 1676.9,699.2 1677.7,700.1 1678.7,700.9 1679.7,701.5 1680.8,701.8 1682,702.1 1683.2,702.4 1684.5,702.7 1685.9,702.9 1687.2,703 1688.6,703.1 1689.9,703.2 1691.1,703.1 1692.4,703.1 1693.7,703.1 1695,703.7 1696.3,701.3 1697.5,702.1 1698.8,701.4 1700.1,702.3 1701.4,701.1 1702.6,701.4 1703.9,700.6 1705.2,701 1706.4,701 1707.7,699.9 1709,699.9 1710.3,698.8 1711.5,699.6 1712.8,699.6 1714.1,698.5 1715.3,699.2 1716.6,697 1717.8,696.9 1719.1,696.8 1720.3,697 1721.6,697 1722.8,696.6 1724.1,696.2 1725.3,696.3 1726.5,695.2 1727.8,694.4 1729,694 1730.2,695.6 1731.5,692.5 1732.7,693.5 1734,694.1 1735.2,693.1 1736.4,691.9 1737.7,692 1738.9,692.2 1740.1,692 1741.4,690.3 1742.6,690.9 1743.8,690.2 1745.1,690.3 1746.3,690.1 1747.6,688.7 1748.8,687.7 1750,688.5 1751.3,689 1752.5,688 1753.8,687.4 1755.1,688.5 1756.3,686.1 1757.6,687.1 1758.9,685.9 1760.1,686.1 1761.4,685.8 1762.7,686.5 1764,684.8 1765.2,684.8 1766.5,683.9 1767.8,684.9 1769.1,684.1 1770.3,684.4 1771.6,683.2 1772.9,683.3 1774.1,683.8 1775.4,682.7 1776.7,682.8 1777.9,682.5 1779.2,681.6 1780.5,680.6 1781.7,681.9 1783,681.2 1784.3,681.5 1785.5,679.6 1786.8,679.8 1788.1,679.6 1789.5,680.7 1790.8,682.2 1792.2,682.3 1793.4,682.3 1794.6,682.6 1795.6,683.1 1796.6,682.1 1797.4,681.8 1798.2,680.6 1798.9,678 1799.7,677.7 1800.4,677.4 1801.2,675.1 1802.1,674.2 1803,673.2 1804.1,672.5 1805.2,672.8 1806.4,671.4 1807.6,670.4 1808.8,668.6 1810,669.5 1811.2,668.1 1812.4,667.5 1813.4,668.4 1814.3,667.6 1815.2,665.2 1816,665.9 1816.8,664.6 1817.5,662.8 1818.2,662.6 1818.9,660 1819.5,659.1 1820.2,657.8 1820.8,656.8 1821.5,656.9 1822.1,654.5 1822.7,653.4 1823.4,652.4 1824,652 1824.6,650.5 1825.2,650.1 1825.7,648 1826.3,646.4 1826.8,645.7 1827.4,644.9 1827.9,643.1 1828.4,642.7 1828.9,642.4 1829.4,639.8 1829.9,638.9 1830.3,638.5 1830.8,636.1 1831.3,634.8 1831.7,633.4 1832.2,633.1 1832.6,631.9 1833,630.3 1833.4,629.2 1833.8,628.7 1834.2,627.2 1834.6,624.6 1835,624.2 1835.4,623.1 1835.7,622.2 1836.1,620.3 1836.4,618.8 1836.7,617.6 1837,615.5 1837.3,615.3 1837.6,613.7 1837.9,613 1838.2,610.9 1838.5,610 1838.9,608.4 1839.2,607.2 1839.7,607 1840.1,605.2 1840.7,604.6 1841.4,602.6 1842.2,602.3 1843.1,600.3 1844,600 1844.8,598.9 1845.4,598.5 1845.9,597.1 1846.3,595.5 1846.7,594.8 1847,592.9 1847.3,591.6 1847.6,590.2 1847.8,588.3 1848.1,586.7 1848.4,585.7 1848.8,584 1849.1,583.4 1849.6,582.9 1850.1,582 1850.7,580.7 1851.7,579.8 1853,580.2 1854.5,580 1856,580.4 1857.2,579.2 1858,578.7 1858.6,578.4 1859.2,576.4 1859.7,575.1 1860.2,574.7 1860.6,573 1861.1,571.2 1861.7,569.9 1862.4,568.4 1863.2,569 1864.2,568.4 1865.4,568.2 1866.6,567.6 1868,567.7 1869.4,567.4 1870.9,567.5 1872.3,568.1 1873.7,567.4 1875,566.2 1876.3,566.6 1877.6,566.3 1878.9,566.8 1880.2,567.7 1881.5,567.7 1882.8,567.2 1884,567.8 1885.3,567.3 1886.6,567.1 1887.9,567.2 1889.2,567.7 1890.5,569.2 1891.8,567.6 1893.1,569.3 1894.4,569.4 1895.7,568.6 1897,568.8 1898.3,568.5 1899.6,568.8 1900.8,569.3 1902.2,568.8 1903.5,569.3 1904.8,569.3 1906.2,568.7 1907.6,568.5 1908.9,568.1 1910.2,568.1 1911.6,567.1 1912.9,567.8 1914.1,567.5 1915.3,566.8 1916.5,568.5 1917.6,566.6 1918.7,567 1919.7,568.7 1920.7,568.6 1921.6,570.5 1922.5,570.9 1923.2,571.3 1923.8,570.9 1924.4,569.7 1924.9,568.5 1925.4,566.9 1926.1,566.2 1926.9,565.7 1927.8,564.9 1928.8,565.8 1929.9,564.7 1931.1,564.5 1932.3,565.7 1933.7,565.2 1935.1,564.8 1936.6,565.1 1938.1,565.1 1939.8,563.8 1941.5,564.5" fill="none" stroke="#d6f6d6" stroke-width="6" stroke-linejoin="round" stroke-linecap="round" />
<path d="M1085,563.3 1086.5,563.3 1088,563.4 1089.5,563.4 1090.9,563.5 1092.3,563.6 1093.5,563.7 1094.5,563.9 1095.3,564 1096,564.2 1096.7,564.6 1097.3,565.2 1097.9,565.8 1098.4,566.6 1098.9,567.6 1099.4,568.6 1099.9,569.7 1100.3,571 1100.7,572.3 1101.1,573.6 1101.5,575.1 1101.9,576.5 1102.3,578.1 1102.6,579.6 1103,581.2 1103.3,582.7 1103.7,584.3 1104,585.9 1104.4,587.4 1104.8,588.9 1105.2,590.4 1105.6,591.8 1106,593.1 1106.4,594.4 1106.9,595.6 1107.4,596.8 1107.8,598 1108.3,599.2 1108.8,600.4 1109.2,601.6 1109.7,602.8 1110.2,604 1110.7,605.3 1111.1,606.5 1111.6,607.7 1112.1,608.9 1112.6,610.1 1113,611.3 1113.5,612.5 1114,613.7 1114.5,614.9 1115,616.1 1115.5,617.3 1115.9,618.5 1116.4,619.7 1116.9,620.9 1117.4,622.1 1117.9,623.3 1118.4,624.5 1118.9,625.7 1119.4,626.9 1119.9,628 1120.4,629.2 1120.9,630.4 1121.4,631.6 1121.9,632.8 1122.4,634 1122.9,635.2 1123.4,636.4 1123.9,637.6 1124.4,638.8 1124.9,640 1125.4,641.1 1125.9,642.3 1126.5,643.5 1127,644.7 1127.5,645.9 1128,647.1 1128.5,648.3 1129,649.5 1129.5,650.7 1130.1,651.9 1130.6,653 1131.1,654.2 1131.7,655.4 1132.2,656.6 1132.7,657.8 1133.3,658.9 1133.9,660.1 1134.4,661.2 1135,662.4 1135.6,663.5 1136.2,664.7 1136.8,665.8 1137.4,667 1138,668.2 1138.6,669.3 1139.3,670.5 1139.9,671.6 1140.6,672.7 1141.3,673.8 1142,674.9 1142.7,675.9 1143.5,676.9 1144.3,678 1145.2,679.2 1146.2,680.1 1147.2,680.5 1148.3,680.2 1149.6,679.6 1150.8,678.8 1151.8,677.9 1152.5,677 1153.1,676.1 1153.6,675 1154.1,673.9 1154.5,672.7 1154.9,671.4 1155.2,670.1 1155.6,668.8 1155.9,667.4 1156.2,666 1156.4,664.7 1156.7,663.3 1156.9,662 1157.1,660.7 1157.3,659.5 1157.5,658.2 1157.6,656.9 1157.8,655.7 1158,654.4 1158.1,653.1 1158.3,651.8 1158.4,650.5 1158.5,649.2 1158.7,648 1158.8,646.7 1158.9,645.4 1159,644.1 1159.1,642.8 1159.2,641.5 1159.3,640.2 1159.4,638.9 1159.5,637.6 1159.7,636.3 1159.8,635 1159.9,633.7 1160,632.4 1160.1,631.1 1160.2,629.8 1160.3,628.6 1160.4,627.3 1160.5,626 1160.7,624.7 1160.8,623.4 1160.9,622.1 1161.1,620.8 1161.2,619.5 1161.4,618.2 1161.5,617 1161.6,615.7 1161.8,614.4 1161.9,613.1 1162.1,611.8 1162.2,610.5 1162.4,609.2 1162.5,608 1162.7,606.7 1162.8,605.4 1163,604.1 1163.2,602.8 1163.3,601.5 1163.5,600.3 1163.6,599 1163.8,597.7 1164,596.4 1164.1,595.1 1164.3,593.8 1164.4,592.5 1164.6,591.3 1164.8,590 1164.9,588.7 1165.1,587.4 1165.3,586 1165.4,584.4 1165.5,582.8 1165.7,581.2 1165.8,579.5 1165.9,577.8 1166.1,576.1 1166.2,574.4 1166.3,572.8 1166.5,571.3 1166.7,569.8 1166.8,568.5 1167,567.3 1167.2,566.3 1167.5,565.5 1167.7,564.8 1168,564.4 1168.3,564.3 1168.8,564.6 1169.5,565.4 1170.4,566.5 1171.3,567.8 1172.1,569.3 1172.8,570.6 1173.3,571.7 1173.7,572.9 1174.1,574.1 1174.4,575.3 1174.7,576.5 1175,577.8 1175.3,579 1175.6,580.3 1175.9,581.6 1176.1,582.9 1176.4,584.2 1176.6,585.5 1176.8,586.8 1177,588.1 1177.3,589.4 1177.5,590.7 1177.7,592 1178,593.3 1178.2,594.5 1178.5,595.8 1178.8,597.1 1179,598.3 1179.3,599.6 1179.6,600.9 1179.9,602.1 1180.1,603.4 1180.4,604.7 1180.6,605.9 1180.9,607.2 1181.2,608.5 1181.4,609.7 1181.7,611 1181.9,612.3 1182.2,613.6 1182.4,614.8 1182.7,616.1 1182.9,617.4 1183.1,618.6 1183.3,619.9 1183.6,621.2 1183.8,622.5 1184,623.7 1184.2,625 1184.4,626.3 1184.6,627.6 1184.8,628.8 1185,630.1 1185.2,631.4 1185.3,632.7 1185.5,634 1185.7,635.3 1185.9,636.5 1186.1,637.8 1186.2,639.1 1186.4,640.4 1186.6,641.7 1186.7,643 1186.9,644.2 1187.1,645.5 1187.2,646.8 1187.4,648.1 1187.5,649.4 1187.7,650.7 1187.9,652 1188,653.2 1188.2,654.5 1188.3,655.8 1188.5,657.1 1188.7,658.4 1188.8,659.7 1189,660.9 1189.1,662.2 1189.3,663.5 1189.5,664.8 1189.6,666.1 1189.8,667.4 1190,668.7 1190.1,669.9 1190.3,671.2 1190.5,672.5 1190.7,673.8 1190.9,675.1 1191.1,676.3 1191.2,677.6 1191.4,678.9 1191.6,680.2 1191.8,681.5 1192,682.7 1192.2,684 1192.5,685.3 1192.7,686.5 1192.9,687.8 1193.1,689.1 1193.4,690.4 1193.6,691.6 1193.9,692.9 1194.1,694.2 1194.4,695.4 1194.7,696.7 1195,698 1195.3,699.2 1195.5,700.5 1195.8,701.7 1196.1,703 1196.4,704.3 1196.7,705.5 1197,706.8 1197.3,708.1 1197.6,709.3 1197.9,710.6 1198.1,711.9 1198.4,713.2 1198.6,714.6 1198.9,716 1199.1,717.4 1199.3,718.8 1199.6,720.2 1199.8,721.7 1200,723.1 1200.2,724.6 1200.4,726.1 1200.6,727.6 1200.8,729.1 1201,730.6 1201.2,732.1 1201.5,733.6 1201.7,735.1 1201.9,736.5 1202.1,738 1202.3,739.5 1202.6,740.9 1202.8,742.3 1203,743.8 1203.3,745.1 1203.5,746.5 1203.8,747.9 1204.1,749.2 1204.4,750.5 1204.7,751.7 1205,753 1205.3,754.1 1205.7,755.3 1206,756.4 1206.4,757.5 1206.8,758.5 1207.2,759.5 1207.7,760.4 1208.1,761.3 1208.6,762.2 1209.1,762.9 1209.6,763.7 1210.1,764.3 1210.7,764.9 1211.5,765.5 1212.7,766 1214.1,766.4 1215.4,766.5 1216.5,766.1 1217.7,765.3 1218.7,764.3 1219.6,763.2 1220.4,762.3 1221,761.3 1221.6,760.3 1222.2,759.2 1222.7,758.2 1223.2,757 1223.7,755.8 1224.2,754.6 1224.6,753.4 1225.1,752.2 1225.5,750.9 1225.9,749.6 1226.2,748.3 1226.6,747 1227,745.7 1227.3,744.3 1227.6,743 1228,741.7 1228.3,740.4 1228.6,739.1 1229,737.8 1229.3,736.6 1229.7,735.3 1230,734.1 1230.3,732.8 1230.7,731.6 1231,730.3 1231.3,729.1 1231.6,727.8 1231.9,726.6 1232.2,725.3 1232.5,724.1 1232.8,722.8 1233.1,721.6 1233.4,720.3 1233.7,719 1234,717.8 1234.3,716.5 1234.6,715.3 1234.8,714 1235.1,712.7 1235.4,711.5 1235.6,710.2 1235.9,708.9 1236.2,707.7 1236.4,706.4 1236.7,705.1 1236.9,703.9 1237.2,702.6 1237.4,701.3 1237.7,700 1238,698.8 1238.2,697.5 1238.4,696.2 1238.7,695 1238.9,693.7 1239.2,692.4 1239.4,691.1 1239.7,689.9 1239.9,688.6 1240.2,687.3 1240.4,686 1240.7,684.8 1240.9,683.5 1241.2,682.2 1241.4,680.9 1241.7,679.7 1241.9,678.4 1242.2,677.1 1242.4,675.9 1242.7,674.6 1242.9,673.3 1243.2,672 1243.4,670.8 1243.7,669.5 1244,668.2 1244.2,667 1244.5,665.7 1244.8,664.4 1245.1,663.2 1245.3,661.9 1245.6,660.6 1245.9,659.4 1246.2,658.1 1246.4,656.8 1246.7,655.6 1247,654.3 1247.2,653 1247.5,651.8 1247.8,650.5 1248,649.2 1248.3,648 1248.5,646.7 1248.8,645.4 1249.1,644.1 1249.3,642.9 1249.6,641.6 1249.8,640.3 1250.1,639.1 1250.4,637.8 1250.6,636.5 1250.9,635.2 1251.2,634 1251.4,632.7 1251.7,631.4 1252,630.2 1252.2,628.9 1252.5,627.6 1252.8,626.4 1253.1,625.1 1253.4,623.8 1253.6,622.6 1253.9,621.3 1254.2,620 1254.5,618.8 1254.8,617.5 1255.1,616.3 1255.4,615 1255.8,613.8 1256.1,612.5 1256.4,611.3 1256.7,610 1257.1,608.8 1257.4,607.6 1257.8,606.3 1258.1,605.1 1258.5,603.9 1258.8,602.6 1259.2,601.4 1259.6,600.2 1260,598.9 1260.4,597.7 1260.8,596.4 1261.2,595.2 1261.7,594 1262.1,592.7 1262.6,591.5 1263,590.3 1263.5,589.1 1264,587.9 1264.5,586.7 1265,585.5 1265.5,584.3 1266.1,583.1 1266.6,582 1267.2,580.8 1267.7,579.7 1268.3,578.5 1269,577.3 1269.7,575.9 1270.4,574.5 1271.1,573.1 1271.9,571.8 1272.7,570.6 1273.5,569.6 1274.3,568.7 1275.1,568.2 1275.9,568 1276.8,568.1 1277.7,568.5 1278.7,569.1 1279.7,569.9 1280.7,570.9 1281.7,572 1282.7,573.2 1283.7,574.4 1284.6,575.7 1285.4,576.9 1286,578.1 1286.6,579.2 1287.1,580.3 1287.6,581.3 1288,582.4 1288.4,583.6 1288.8,584.7 1289.2,585.8 1289.6,587 1290,588.2 1290.3,589.4 1290.7,590.6 1291,591.8 1291.3,593 1291.6,594.2 1291.9,595.5 1292.2,596.8 1292.5,598 1292.8,599.3 1293,600.6 1293.3,601.9 1293.5,603.2 1293.8,604.5 1294,605.8 1294.3,607.1 1294.5,608.4 1294.7,609.8 1295,611.1 1295.2,612.4 1295.4,613.8 1295.7,615.1 1295.9,616.4 1296.1,617.7 1296.4,619.1 1296.6,620.4 1296.8,621.7 1297.1,623 1297.4,624.3 1297.6,625.7 1297.9,627 1298.2,628.3 1298.5,629.5 1298.7,630.8 1299.1,632.1 1299.4,633.4 1299.7,634.6 1300,635.9 1300.4,637.1 1300.7,638.4 1301.1,639.6 1301.4,640.8 1301.8,642.1 1302.2,643.3 1302.5,644.6 1302.9,645.8 1303.3,647.1 1303.6,648.3 1304,649.5 1304.4,650.8 1304.8,652 1305.2,653.2 1305.6,654.5 1305.9,655.7 1306.3,656.9 1306.7,658.2 1307.1,659.4 1307.5,660.6 1307.9,661.9 1308.3,663.1 1308.7,664.3 1309.1,665.6 1309.5,666.8 1309.9,668 1310.4,669.3 1310.8,670.5 1311.2,671.7 1311.6,672.9 1312,674.2 1312.4,675.4 1312.8,676.6 1313.2,677.8 1313.6,679.1 1314,680.3 1314.4,681.5 1314.8,682.8 1315.2,684 1315.6,685.3 1316,686.5 1316.4,687.7 1316.8,689 1317.2,690.2 1317.6,691.5 1318,692.7 1318.4,693.9 1318.8,695.2 1319.3,696.4 1319.7,697.6 1320.1,698.9 1320.5,700.1 1321,701.3 1321.4,702.5 1321.8,703.8 1322.3,705 1322.8,706.2 1323.2,707.4 1323.7,708.6 1324.2,709.7 1324.7,710.9 1325.2,712.1 1325.7,713.3 1326.3,714.4 1326.8,715.6 1327.4,716.7 1328,717.9 1328.6,719 1329.2,720.2 1329.8,721.3 1330.4,722.5 1331.1,723.6 1331.8,724.7 1332.5,725.8 1333.2,727 1333.9,728.1 1334.6,729.1 1335.3,730.2 1336.1,731.3 1336.9,732.3 1337.6,733.3 1338.4,734.3 1339.2,735.3 1340,736.3 1340.9,737.3 1341.7,738.2 1342.6,739.2 1343.5,740.1 1344.5,741 1345.4,741.9 1346.4,742.8 1347.4,743.7 1348.4,744.5 1349.4,745.3 1350.5,746.1 1351.5,746.9 1352.5,747.6 1353.6,748.3 1354.7,749 1355.8,749.6 1356.9,750.3 1358.1,751 1359.2,751.6 1360.4,752.2 1361.6,752.7 1362.8,753.3 1364,753.7 1365.2,754.2 1366.4,754.6 1367.6,754.9 1368.8,755.3 1370.1,755.7 1371.3,756 1372.5,756.4 1373.8,756.7 1375.1,757.1 1376.3,757.4 1377.6,757.7 1378.9,758 1380.2,759.6 1381.5,758.6 1382.7,759 1384,758.6 1385.3,759.9 1386.6,758.1 1387.9,759.6 1389.2,761 1390.5,759.5 1391.8,759.8 1393.1,760.2 1394.3,759.3 1395.6,759.8 1396.9,760.3 1398.2,759.8 1399.5,759.9 1400.8,759.4 1402.1,759.8 1403.4,759.6 1404.7,760.4 1406,759.9 1407.3,759.2 1408.6,757.8 1409.9,759.6 1411.2,759.6 1412.5,758.5 1413.8,757.7 1415,758.1 1416.3,759.3 1417.6,758 1418.9,758.3 1420.2,758.6 1421.5,759 1422.7,758.1 1424,757.9 1425.3,757.4 1426.6,758.5 1427.8,758 1429.1,757 1430.4,756 1431.6,756.1 1432.9,756.6 1434.2,755.5 1435.4,756.2 1436.7,755.6 1438,755.3 1439.2,755.2 1440.5,754.8 1441.8,753.6 1443,753.7 1444.3,755 1445.6,752.6 1446.8,752.7 1448.1,753.4 1449.4,752.4 1450.6,751.7 1451.9,751.1 1453.2,752 1454.5,752 1455.8,751.9 1457,750.8 1458.3,751.2 1459.6,749.6 1460.9,750 1462.1,749.2 1463.4,749.4 1464.6,749.4 1465.9,749.3 1467.1,747.7 1468.3,748.7 1469.6,747.2 1470.8,746.5 1471.9,746.6 1473.1,745.4 1474.3,745.7 1475.4,745.3 1476.5,744.4 1477.6,744.1 1478.7,742.9 1479.8,742.3 1480.9,740.7 1482,740.9 1483.1,739.6 1484.2,739.2 1485.3,738.8 1486.5,738.4 1487.6,736.7 1488.8,736.3 1490,736.5 1491.2,736.5 1492.3,735.9 1493.5,735.7 1494.8,735.5 1496,734.6 1497.2,733.8 1498.4,732.7 1499.6,732.3 1500.8,732.2 1502,732.1 1503.3,731.7 1504.5,731.1 1505.7,730.5 1506.9,730.5 1508.1,729.8 1509.3,729.4 1510.5,728.9 1511.7,727.9 1512.9,727.1 1514.1,727.5 1515.3,726.9 1516.4,725.9 1517.6,725.2 1518.8,726.2 1519.9,723.8 1521.1,723.4 1522.3,723.1 1523.4,721.6 1524.6,721.8 1525.7,722.1 1526.9,721 1528.1,720.2 1529.2,719.7 1530.4,718.8 1531.6,718.8 1532.8,717.7 1534,717.1 1535.2,717 1536.4,717.1 1537.6,716.5 1538.9,716.4 1540.1,714.6 1541.4,716.3 1542.7,716.7 1544,715.9 1545.3,714.8 1546.6,714.3 1547.9,714.9 1549.1,714.1 1550.4,715.2 1551.6,714.6 1552.8,715.8 1553.9,716.5 1555.1,715 1556.3,717 1557.4,717.1 1558.6,717.4 1559.7,718.6 1560.8,719.6 1562,721.1 1563.1,720.3 1564.2,722.6 1565.4,723.8 1566.5,723.6 1567.6,724.2 1568.8,724.6 1569.9,724.7 1571,726.5 1572,727.1 1573.1,728.1 1574.2,730 1575.3,729.6 1576.4,730.2 1577.5,731.5 1578.7,730.4 1579.8,731.1 1580.9,732.1 1582.1,732.4 1583.3,733.5 1584.5,733.2 1585.7,734.7 1587,734.8 1588.3,734.6 1589.6,734.1 1590.9,734.9 1592.2,735.2 1593.5,734.2 1594.8,735.1 1596.1,735.4 1597.3,735.1 1598.6,735.9 1599.9,735.5 1601.3,734 1602.6,734.3 1603.9,733.3 1605.2,733.7 1606.5,732.4 1607.7,732.9 1608.9,732.1 1610,731.9 1610.9,730.6 1611.9,729.2 1612.8,730.4 1613.6,728.3 1614.5,728.3 1615.3,726.6 1616,725.6 1616.8,725.1 1617.5,723 1618.1,722.5 1618.8,719.5 1619.3,719.8 1619.9,717.9 1620.4,716.9 1620.9,715.8 1621.4,714.6 1621.9,713.4 1622.4,712.2 1622.8,711 1623.3,709.7 1623.7,708.5 1624.1,707.2 1624.5,706 1624.8,704.7 1625.2,703.5 1625.5,702.2 1625.8,700.9 1626.1,699.7 1626.4,698.4 1626.7,697.2 1626.9,695.9 1627.2,694.6 1627.4,693.4 1627.6,692.1 1627.8,690.8 1628.1,689.6 1628.3,688.3 1628.5,687 1628.7,685.7 1628.9,684.5 1629,683.2 1629.2,681.9 1629.4,680.6 1629.6,679.3 1629.7,678 1629.9,676.7 1630.1,675.4 1630.2,674.2 1630.4,672.9 1630.5,671.6 1630.7,670.3 1630.8,669 1631,667.7 1631.1,666.4 1631.2,665.1 1631.4,663.8 1631.5,662.5 1631.7,661.3 1631.8,660 1631.9,658.7 1632.1,657.4 1632.2,656.1 1632.3,654.8 1632.4,653.5 1632.5,652.2 1632.6,651 1632.8,649.7 1632.9,648.4 1633,647.1 1633.1,645.8 1633.2,644.5 1633.3,643.2 1633.3,641.9 1633.4,640.6 1633.5,639.3 1633.6,638 1633.7,636.7 1633.8,635.4 1633.9,634.2 1634,632.9 1634.1,631.6 1634.2,630.3 1634.3,629 1634.4,627.7 1634.4,626.4 1634.5,625.1 1634.6,623.8 1634.7,622.5 1634.8,621.2 1634.9,619.9 1635,618.7 1635.2,617.4 1635.3,616.1 1635.4,614.8 1635.5,613.5 1635.6,612.2 1635.7,610.9 1635.9,609.6 1636,608.4 1636.2,607.1 1636.3,605.8 1636.4,604.5 1636.6,603.2 1636.8,602 1636.9,600.7 1637.1,599.4 1637.3,598.1 1637.4,596.8 1637.6,595.5 1637.8,594.2 1638,592.9 1638.3,591.6 1638.5,590.3 1638.7,589 1639,587.7 1639.2,586.5 1639.5,585.2 1639.8,583.9 1640.1,582.7 1640.4,581.4 1640.7,580.2 1641,578.9 1641.4,577.7 1641.8,576.5 1642.2,575.3 1642.7,574 1643.2,572.6 1643.9,571.1 1644.6,569.6 1645.4,568.3 1646.1,567.1 1646.8,566.2 1647.5,565.7 1648.1,565.5 1648.7,565.8 1649.3,566.6 1649.9,567.7 1650.5,569.1 1651,570.6 1651.5,572.2 1651.9,573.8 1652.2,575.2 1652.4,576.5 1652.6,577.7 1652.8,578.9 1652.9,580.2 1653.1,581.5 1653.2,582.7 1653.3,584 1653.4,585.3 1653.6,586.5 1653.7,587.8 1653.8,589.1 1653.9,590.4 1653.9,591.7 1654,593 1654.1,594.3 1654.2,595.6 1654.3,596.9 1654.3,598.2 1654.4,599.5 1654.5,600.8 1654.5,602.1 1654.6,603.4 1654.7,604.8 1654.7,606.1 1654.8,607.4 1654.9,608.7 1655,610 1655.1,611.3 1655.2,612.6 1655.3,613.9 1655.4,615.2 1655.5,616.5 1655.6,617.8 1655.7,619.1 1655.8,620.3 1656,621.6 1656.1,622.9 1656.3,624.2 1656.4,625.5 1656.6,626.8 1656.7,628.1 1656.9,629.3 1657.1,630.6 1657.3,631.9 1657.4,633.2 1657.6,634.5 1657.8,635.7 1658,637 1658.2,638.3 1658.3,639.6 1658.5,640.9 1658.7,642.2 1658.9,643.4 1659.1,644.7 1659.3,646 1659.5,647.3 1659.7,648.6 1659.9,649.8 1660.1,651.1 1660.3,652.4 1660.4,653.7 1660.6,655 1660.8,656.2 1661,657.5 1661.2,658.8 1661.4,660.2 1661.5,661.5 1661.7,662.9 1661.8,664.3 1662,665.6 1662.1,667 1662.2,668.4 1662.4,669.8 1662.5,671.2 1662.7,672.6 1662.8,674 1663,675.3 1663.2,676.7 1663.3,678 1663.5,679.3 1663.8,680.6 1664,681.8 1664.2,683 1664.5,684.2 1664.8,685.4 1665.1,686.4 1665.4,687.5 1665.7,688.5 1666.1,689.4 1666.7,690.3 1667.6,691.1 1668.7,691.9 1669.9,692.6 1671.2,693.3 1672.3,694.1 1673.4,694.9 1674.3,695.9 1675.1,697 1676,698.1 1676.9,699.2 1677.7,700.1 1678.7,700.9 1679.7,701.5 1680.8,701.8 1682,702.1 1683.2,702.4 1684.5,702.7 1685.9,702.9 1687.2,703 1688.6,703.1 1689.9,703.2 1691.1,703.1 1692.4,703.1 1693.7,703.1 1695,703.7 1696.3,701.3 1697.5,702.1 1698.8,701.4 1700.1,702.3 1701.4,701.1 1702.6,701.4 1703.9,700.6 1705.2,701 1706.4,701 1707.7,699.9 1709,699.9 1710.3,698.8 1711.5,699.6 1712.8,699.6 1714.1,698.5 1715.3,699.2 1716.6,697 1717.8,696.9 1719.1,696.8 1720.3,697 1721.6,697 1722.8,696.6 1724.1,696.2 1725.3,696.3 1726.5,695.2 1727.8,694.4 1729,694 1730.2,695.6 1731.5,692.5 1732.7,693.5 1734,694.1 1735.2,693.1 1736.4,691.9 1737.7,692 1738.9,692.2 1740.1,692 1741.4,690.3 1742.6,690.9 1743.8,690.2 1745.1,690.3 1746.3,690.1 1747.6,688.7 1748.8,687.7 1750,688.5 1751.3,689 1752.5,688 1753.8,687.4 1755.1,688.5 1756.3,686.1 1757.6,687.1 1758.9,685.9 1760.1,686.1 1761.4,685.8 1762.7,686.5 1764,684.8 1765.2,684.8 1766.5,683.9 1767.8,684.9 1769.1,684.1 1770.3,684.4 1771.6,683.2 1772.9,683.3 1774.1,683.8 1775.4,682.7 1776.7,682.8 1777.9,682.5 1779.2,681.6 1780.5,680.6 1781.7,681.9 1783,681.2 1784.3,681.5 1785.5,679.6 1786.8,679.8 1788.1,679.6 1789.5,680.7 1790.8,682.2 1792.2,682.3 1793.4,682.3 1794.6,682.6 1795.6,683.1 1796.6,682.1 1797.4,681.8 1798.2,680.6 1798.9,678 1799.7,677.7 1800.4,677.4 1801.2,675.1 1802.1,674.2 1803,673.2 1804.1,672.5 1805.2,672.8 1806.4,671.4 1807.6,670.4 1808.8,668.6 1810,669.5 1811.2,668.1 1812.4,667.5 1813.4,668.4 1814.3,667.6 1815.2,665.2 1816,665.9 1816.8,664.6 1817.5,662.8 1818.2,662.6 1818.9,660 1819.5,659.1 1820.2,657.8 1820.8,656.8 1821.5,656.9 1822.1,654.5 1822.7,653.4 1823.4,652.4 1824,652 1824.6,650.5 1825.2,650.1 1825.7,648 1826.3,646.4 1826.8,645.7 1827.4,644.9 1827.9,643.1 1828.4,642.7 1828.9,642.4 1829.4,639.8 1829.9,638.9 1830.3,638.5 1830.8,636.1 1831.3,634.8 1831.7,633.4 1832.2,633.1 1832.6,631.9 1833,630.3 1833.4,629.2 1833.8,628.7 1834.2,627.2 1834.6,624.6 1835,624.2 1835.4,623.1 1835.7,622.2 1836.1,620.3 1836.4,618.8 1836.7,617.6 1837,615.5 1837.3,615.3 1837.6,613.7 1837.9,613 1838.2,610.9 1838.5,610 1838.9,608.4 1839.2,607.2 1839.7,607 1840.1,605.2 1840.7,604.6 1841.4,602.6 1842.2,602.3 1843.1,600.3 1844,600 1844.8,598.9 1845.4,598.5 1845.9,597.1 1846.3,595.5 1846.7,594.8 1847,592.9 1847.3,591.6 1847.6,590.2 1847.8,588.3 1848.1,586.7 1848.4,585.7 1848.8,584 1849.1,583.4 1849.6,582.9 1850.1,582 1850.7,580.7 1851.7,579.8 1853,580.2 1854.5,580 1856,580.4 1857.2,579.2 1858,578.7 1858.6,578.4 1859.2,576.4 1859.7,575.1 1860.2,574.7 1860.6,573 1861.1,571.2 1861.7,569.9 1862.4,568.4 1863.2,569 1864.2,568.4 1865.4,568.2 1866.6,567.6 1868,567.7 1869.4,567.4 1870.9,567.5 1872.3,568.1 1873.7,567.4 1875,566.2 1876.3,566.6 1877.6,566.3 1878.9,566.8 1880.2,567.7 1881.5,567.7 1882.8,567.2 1884,567.8 1885.3,567.3 1886.6,567.1 1887.9,567.2 1889.2,567.7 1890.5,569.2 1891.8,567.6 1893.1,569.3 1894.4,569.4 1895.7,568.6 1897,568.8 1898.3,568.5 1899.6,568.8 1900.8,569.3 1902.2,568.8 1903.5,569.3 1904.8,569.3 1906.2,568.7 1907.6,568.5 1908.9,568.1 1910.2,568.1 1911.6,567.1 1912.9,567.8 1914.1,567.5 1915.3,566.8 1916.5,568.5 1917.6,566.6 1918.7,567 1919.7,568.7 1920.7,568.6 1921.6,570.5 1922.5,570.9 1923.2,571.3 1923.8,570.9 1924.4,569.7 1924.9,568.5 1925.4,566.9 1926.1,566.2 1926.9,565.7 1927.8,564.9 1928.8,565.8 1929.9,564.7 1931.1,564.5 1932.3,565.7 1933.7,565.2 1935.1,564.8 1936.6,565.1 1938.1,565.1 1939.8,563.8 1941.5,564.5" fill="none" stroke="#8fcc98" stroke-width="3.2" stroke-linejoin="round" stroke-linecap="round" />
<path d="M1083.4,562.7 1084.1,563.3 1085.4,563 1087.1,563.9 1089.1,563.6 1091.2,563.1 1093.2,563.7 1095,563.4 1096.7,564.5 1098.4,565.3 1100,565.9 1101.6,565.7 1103.3,567.1 1105,568.2 1106.5,568.7 1108,569.6 1109.5,569.1 1111.1,570.5 1112.6,570.5 1114.2,571.4 1115.7,572 1117.2,572.6 1119,572.5 1120.9,573.2 1122.7,573 1124.5,573.2 1126.3,574.4 1128,574.4 1130.1,574.3 1132.1,575.3 1134,576.2 1135.8,576.9 1137.8,575.6 1139.6,573.9 1141.1,572.2 1142.4,574.6 1143.5,577.2 1144.7,578.8 1146.4,580.4 1147.6,580.7 1149.1,582.2 1150.9,582.7 1152.8,582.5 1154.7,582.8 1156.6,584.8 1158.3,584.4 1159.7,586 1161.1,587.4 1162.3,587.3 1163.4,589.1 1164.4,590.2 1165.3,592.1 1166.3,593.6 1167,595.6 1167.7,596.3 1168.3,597.5 1169,599.4 1169.6,600.3 1170.2,601.8 1170.7,604.6 1171.3,605 1171.9,606.9 1172.4,608.9 1173,610.8 1173.4,612.1 1173.8,613.5 1174.1,614.9 1174.5,616.4 1174.9,617.9 1175.2,619.4 1175.6,621 1175.9,622.6 1176.3,624.2 1176.6,625.9 1177,627.6 1177.3,629.2 1177.7,630.9 1178,632.7 1178.3,634.4 1178.7,636.1 1179,637.8 1179.3,639.5 1179.6,641.3 1180,643 1180.3,644.7 1180.6,646.3 1180.9,648 1181.2,649.6 1181.5,651.1 1181.8,652.7 1182.1,654.3 1182.4,655.9 1182.7,657.6 1183,659.2 1183.3,660.8 1183.6,662.4 1183.9,664.1 1184.1,665.7 1184.4,667.3 1184.7,669 1185,670.6 1185.2,672.2 1185.5,673.8 1185.8,675.4 1186,677 1186.3,678.6 1186.5,680.2 1186.7,681.7 1187,683.3 1187.2,684.8 1187.4,686.3 1187.6,687.8 1187.8,689.6 1188,691.3 1188.2,693 1188.4,694.6 1188.5,696.3 1188.6,697.9 1188.7,699.5 1188.9,701 1189,702.6 1189.1,704.2 1189.2,705.8 1189.3,707.5 1189.5,709.1 1189.6,710.8 1189.8,712.5 1190,714.3 1190.2,716.1 1190.5,718 1190.7,719.4 1190.9,720.8 1191.1,722.3 1191.4,723.8 1191.6,725.3 1191.9,726.9 1192.1,728.4 1192.4,730 1192.7,731.6 1192.9,733.2 1193.2,734.9 1193.5,736.5 1193.8,738.2 1194.1,739.9 1194.4,741.5 1194.8,743.2 1195.1,744.9 1195.4,746.6 1195.7,748.3 1196.1,750 1196.4,751.7 1196.7,753.4 1197.1,755 1197.4,756.7 1197.7,758.4 1198.1,760 1198.4,761.6 1198.7,763.2 1199.1,764.8 1199.4,766.4 1199.7,768 1200.1,769.5 1200.4,771 1200.8,772.7 1201.2,774.5 1201.6,776.2 1202,777.9 1202.4,779.7 1202.8,781.4 1203.2,783.1 1203.7,784.9 1204.1,786.6 1204.5,788.3 1205,790 1205.4,791.6 1205.8,793.3 1206.3,794.9 1206.7,796.6 1207.1,798.2 1207.5,799.7 1207.9,801.3 1208.3,802.8 1208.7,804.3 1209.1,805.8 1209.5,807.2 1209.8,808.6 1210.2,810 1210.5,811.3 1210.9,813.1 1211.4,814.9 1211.7,816.7 1212.1,818.4 1212.5,820 1212.8,821.6 1213.2,823.1 1213.5,824.6 1213.9,826.1 1214.2,827.4 1214.6,828.7 1215,829.5 1215.7,831.1 1216.3,834.6 1217,835.6 1217.7,837.1 1218.5,837.8 1220.2,836.6 1222,834.5 1222.9,833.9 1223.9,833.6 1224.8,831.4 1225.7,829.7 1226.6,827.5 1227.1,826.4 1227.6,825.2 1228,823.9 1228.5,822.5 1229,821.1 1229.5,819.6 1230,818 1230.4,816.4 1230.9,814.7 1231.4,813.1 1231.9,811.4 1232.4,809.7 1232.8,808 1233.3,806.3 1233.8,804.6 1234.2,802.9 1234.7,801.3 1235.1,799.8 1235.6,798.2 1236,796.7 1236.5,795.1 1236.9,793.5 1237.3,791.9 1237.8,790.3 1238.2,788.7 1238.6,787.1 1239.1,785.5 1239.5,783.9 1239.9,782.3 1240.3,780.7 1240.7,779 1241.1,777.4 1241.5,775.8 1241.9,774.2 1242.3,772.6 1242.7,771 1243.1,769.4 1243.4,767.8 1243.7,766.1 1244,764.4 1244.3,762.7 1244.6,761 1244.9,759.3 1245.2,757.6 1245.5,755.9 1245.8,754.2 1246.1,752.5 1246.4,750.9 1246.7,749.3 1247,747.7 1247.3,746.2 1247.7,744.8 1248,743.4 1248.4,742.1 1248.8,740.1 1249.5,739 1250.2,736.8 1250.9,736.2 1251.7,734.4 1252.4,733.1 1253.2,731.7 1254,730 1254.8,728 1255.4,727.6 1256.1,725.3 1256.8,724 1257.5,722.9 1258.2,721.2 1258.9,720.2 1259.5,719 1260.2,717.1 1260.9,715.5 1261.6,713.8 1262.3,712.6 1262.9,710.6 1263.5,709.1 1264,707.6 1264.6,706 1265.1,704.4 1265.6,702.8 1266.1,701.2 1266.6,699.5 1267.2,697.9 1267.7,696.2 1268.2,694.6 1268.7,692.9 1269.2,691.3 1269.8,689.6 1270.3,688 1270.9,685.5 1271.5,685 1272,682.8 1272.6,681.1 1273.2,680.1 1273.8,678.4 1274.4,677.3 1275,675.9 1275.6,672.8 1276.2,672.3 1276.8,671.7 1277.4,669.7 1278,668.4 1278.7,666.3 1279.3,664 1280,662.7 1280.7,662 1281.3,660.5 1282,658.2 1282.7,656.9 1283.4,655.5 1284.1,653.1 1284.8,652.2 1285.5,651.5 1286.3,650.3 1287,647.7 1287.8,647.2 1288.6,644.7 1289.4,643.3 1290.2,641.4 1291,641.6 1292.1,639.5 1293.2,639.2 1294.4,636.9 1295.6,635.6 1296.8,633.4 1298,633.7 1299.3,631.8 1300.6,631 1302,629.2 1303.6,629.8 1305.3,629.1 1307.1,627.8 1309,627.6 1310.8,627.3 1312.6,627.3 1314.2,626.9 1315.7,627.6 1317.7,627.1 1319.5,627.6 1321.2,628.6 1322.6,630.2 1323.3,631.3 1323.9,632.5 1324.4,633.9 1324.8,635.5 1325.2,637.2 1325.5,639 1325.8,640.9 1326.1,642.8 1326.4,644.7 1326.7,646.7 1326.9,648.1 1327.2,649.7 1327.4,651.4 1327.5,653.2 1327.7,655 1327.9,656.9 1328,658.9 1328.2,660.9 1328.3,662.8 1328.5,664.8 1328.6,666.8 1328.8,668.6 1329,670.5 1329.2,672.2 1329.4,673.8 1329.6,675.3 1329.9,676.7 1330.2,677.9 1330.5,678.9 1330.8,678.5 1332.2,680.7 1333.6,682.4 1333.9,683.2 1334.2,684.2 1334.5,685.3 1334.7,686.5 1334.9,687.9 1335,689.3 1335.2,690.9 1335.3,692.6 1335.4,694.3 1335.5,696.1 1335.6,698 1335.6,699.9 1335.7,701.9 1335.8,703.8 1335.8,705.8 1335.9,707.8 1336,709.7 1336.1,711.7 1336.2,713.6 1336.3,715.4 1336.4,716.9 1336.5,718.4 1336.6,719.9 1336.7,721.4 1336.8,722.9 1336.9,724.4 1337,725.9 1337.1,727.5 1337.2,729 1337.3,730.5 1337.4,732.1 1337.5,733.7 1337.6,735.3 1337.7,736.9 1337.8,738.5 1337.8,740.1 1337.9,741.8 1338,743.4 1338.1,745.1 1338.2,746.8 1338.3,748.5 1338.4,750.2 1338.5,752 1338.5,753.8 1338.6,755.5 1338.7,757.4 1338.8,759.2 1338.9,761 1338.9,762.9 1339,764.8 1339.1,766.2 1339.1,767.7 1339.1,769.2 1339.2,770.8 1339.2,772.4 1339.3,774.1 1339.3,775.9 1339.4,777.7 1339.4,779.6 1339.5,781.5 1339.5,783.4 1339.5,785.4 1339.6,787.4 1339.6,789.4 1339.7,791.5 1339.7,793.6 1339.7,795.7 1339.8,797.8 1339.8,799.9 1339.8,802.1 1339.9,804.3 1339.9,806.4 1339.9,808.6 1340,810.7 1340,812.9 1340,815 1340.1,817.1 1340.1,819.2 1340.1,821.3 1340.1,823.4 1340.2,825.4 1340.2,827.4 1340.2,829.4 1340.3,831.4 1340.3,833.2 1340.3,835.1 1340.3,836.9 1340.4,838.7 1340.4,840.4 1340.4,842 1340.5,843.6 1340.5,845.1 1340.5,846.6 1340.5,848 1340.6,849.3 1340.6,850.5 1340.6,851.7 1340.7,852.8 1340.7,853.8 1340.7,854.6 1340.8,855.5 1340.8,856.2 1340.8,856.8 1340.9,857.3 1340.9,857.7 1340.9,858 1341,858.1 1341,858.2 1341,858.1 1341.1,858 1341.1,857.7 1341.1,857.3 1341.2,856.8 1341.2,856.2 1341.2,855.5 1341.3,854.7 1341.3,853.8 1341.4,852.9 1341.4,851.8 1341.4,850.7 1341.5,849.5 1341.5,848.2 1341.5,846.8 1341.6,845.4 1341.6,843.9 1341.6,842.3 1341.7,840.7 1341.7,839 1341.7,837.3 1341.8,835.5 1341.8,833.7 1341.8,831.8 1341.9,829.9 1341.9,828 1341.9,826 1342,824 1342,821.9 1342,819.8 1342.1,817.7 1342.1,815.6 1342.2,813.5 1342.2,811.4 1342.2,809.2 1342.3,807.1 1342.3,804.9 1342.3,802.8 1342.4,800.6 1342.4,798.5 1342.5,796.4 1342.5,794.2 1342.5,792.1 1342.6,790.1 1342.6,788 1342.7,786 1342.7,784 1342.7,782 1342.8,780.1 1342.8,778.2 1342.9,776.3 1342.9,774.5 1343,772.8 1343,771 1343.1,769.4 1343.1,767.8 1343.2,766.3 1343.2,764.8 1343.3,763 1343.3,761.2 1343.4,759.4 1343.4,757.6 1343.5,755.8 1343.5,754 1343.6,752.3 1343.6,750.5 1343.7,748.8 1343.7,747 1343.8,745.3 1343.8,743.5 1343.9,741.8 1343.9,740.1 1344,738.4 1344,736.7 1344.1,735 1344.1,733.4 1344.2,731.7 1344.2,730.1 1344.3,728.5 1344.4,726.8 1344.4,725.2 1344.5,723.6 1344.6,722.1 1344.7,720.5 1344.7,719 1344.8,717.4 1344.9,715.9 1345,714.4 1345.1,712.9 1345.2,711.5 1345.4,710 1345.5,708.6 1345.6,707.2 1345.8,705.8 1345.9,704.4 1346.1,702.5 1346.3,700.5 1346.6,698.5 1346.8,696.4 1347.1,694.3 1347.4,692.2 1347.6,690.1 1347.9,688 1348.2,685.9 1348.5,684 1348.8,682.1 1349.1,680.4 1349.4,678.8 1349.7,677.3 1350,676 1350.3,674.9 1350.6,674 1350.9,673.4 1351.1,672.9 1351.4,672.8 1351.7,673 1352,673.6 1352.4,674.5 1352.7,675.7 1353,677.2 1353.3,678.9 1353.6,680.8 1353.9,682.9 1354.2,685 1354.5,687.3 1354.8,689.5 1355,691.8 1355.3,694 1355.5,696.2 1355.6,697.5 1355.7,698.8 1355.9,700.3 1356,701.9 1356.1,703.5 1356.2,705.3 1356.3,707.1 1356.4,709 1356.5,710.9 1356.6,712.9 1356.6,714.9 1356.7,717 1356.8,719.1 1356.9,721.3 1356.9,723.4 1357,725.6 1357.1,727.8 1357.1,729.9 1357.2,732.1 1357.3,734.2 1357.3,736.3 1357.4,738.4 1357.4,740.5 1357.5,742.4 1357.5,744.4 1357.6,746.3 1357.6,748.1 1357.7,749.8 1357.7,751.4 1357.8,753 1357.8,754.5 1357.8,755.8 1357.9,757.1 1357.9,758.2 1358,759.2 1358,760 1358.1,760.8 1358.1,761.3 1358.2,761.8 1358.2,762 1358.3,762.1 1358.4,762 1358.4,761.8 1358.4,761.5 1358.5,761 1358.5,760.4 1358.6,759.7 1358.6,758.8 1358.7,757.9 1358.7,756.8 1358.7,755.7 1358.8,754.4 1358.8,753.1 1358.9,751.6 1358.9,750.1 1358.9,748.5 1359,746.8 1359,745.1 1359,743.3 1359.1,741.5 1359.1,739.5 1359.1,737.6 1359.2,735.6 1359.2,733.5 1359.2,731.5 1359.2,729.4 1359.3,727.2 1359.3,725.1 1359.3,722.9 1359.4,720.7 1359.4,718.5 1359.4,716.4 1359.5,714.2 1359.5,712 1359.5,709.9 1359.6,707.7 1359.6,705.6 1359.7,703.5 1359.7,701.5 1359.7,699.4 1359.8,697.5 1359.8,695.5 1359.9,693.7 1359.9,691.8 1360,690.1 1360,688.4 1360,686.8 1360.1,685.2 1360.1,683.8 1360.2,682.4 1360.3,680.5 1360.3,678.7 1360.4,676.8 1360.4,675 1360.4,673.2 1360.4,671.4 1360.4,669.7 1360.5,667.9 1360.5,666.2 1360.5,664.5 1360.5,662.9 1360.5,661.3 1360.6,659.7 1360.6,658.1 1360.7,656.5 1360.8,655 1360.9,653.5 1361,652.1 1361.2,650.6 1361.4,649.2 1361.6,647.9 1361.8,646.6 1362.1,645.3 1362.4,644.4 1362.9,642.2 1363.5,639.9 1364.1,638.6 1364.8,635.8 1365.5,635 1366.3,633.7 1367.1,632.4 1368,630.3 1368.8,629.9 1369.8,629.2 1370.7,627.3 1372.1,626.8 1373.6,625 1375.2,624.4 1377,625.2 1379,624.7 1380.3,624.6 1381.6,624.2 1383.1,624.3 1384.7,624.8 1386.3,625.2 1388.1,624.5 1389.8,623.9 1391.6,625.4 1393.5,625.3 1395.3,625.5 1397.2,625.5 1399,626.7 1400.9,626 1402.7,626.5 1404.4,625.8 1406.1,626.7 1407.7,627 1409.2,627.8 1410.7,628.4 1412.2,628.4 1413.7,630 1415.2,629.3 1416.7,630.2 1418.1,631.1 1419.6,631 1421.1,632.5 1422.6,633.1 1424.1,633.4 1425.6,635 1427.2,634.8 1428.8,635.5 1430.4,635.5 1432,635.7 1433.5,636.7 1435.1,637.4 1436.8,638 1438.5,639.3 1440.3,638.6 1442.2,639.9 1444,640.3 1445.9,642.5 1447.8,642.4 1449.7,643.1 1451.5,643.6 1453.3,645.1 1455.1,645.2 1456.8,646 1458.5,645.5 1460.1,647.3 1461.5,647.3 1462.9,647.6 1464.2,648 1465.3,647.3 1466.3,647.2 1467.2,647.3 1468.5,646 1469.3,643.8 1469.9,641.7 1470.3,639.4 1470.7,638.5 1471.2,637.6 1471.6,638 1471.9,639 1472.2,640.5 1472.6,642.5 1472.8,644.7 1473.1,647.1 1473.4,649.5 1473.7,651.9 1473.9,654.1 1474.2,656 1474.5,657.5 1474.8,658.5 1475.1,659.3 1475.6,658.1 1476.1,657 1476.6,653.1 1477.1,651.7 1477.8,651.6 1478.6,651.2 1479.5,652.2 1480.5,655.6 1481.7,657.4 1483.1,658.3 1484.2,660.1 1485.3,660 1486.6,660.6 1488,661.8 1489.4,662.3 1491,662.7 1492.5,663.7 1494.1,664.1 1495.8,665.3 1497.4,666 1499,667.2 1500.2,667.4 1501.5,667.7 1502.8,668.5 1504.2,669.7 1505.5,671.3 1506.9,671.8 1508.3,672 1509.7,673.6 1511.2,673.5 1512.6,675.3 1514.1,675.6 1515.5,677 1517,677.8 1518.4,678.3 1519.9,679.5 1521.3,679.7 1522.8,681 1524.2,682.4 1525.6,684.6 1527,683.9 1528.5,684.5 1530.1,684.9 1531.7,686.7 1533.3,686.4 1535,687.7 1536.6,689.1 1538.3,689.4 1539.9,691.5 1541.5,692.2 1543,692.3 1544.5,693.2 1545.9,693.7 1547.2,694.4 1548.5,696.1 1549.6,696.9 1550.6,697.5 1551.5,698.2 1552.2,698.4 1553.7,701.3 1554.8,702 1557.5,701.4 1558.5,702 1559.7,702.1 1561,701.5 1562.6,702 1564.2,703.2 1566,703.9 1567.8,702.9 1569.7,704 1571.6,704.9 1573.5,705.9 1575.3,705.5 1577.1,706.6 1578.7,706.5 1580.4,708.1 1582.1,707.5 1583.9,707.5 1585.6,707.7 1587.3,708.6 1588.9,708.7 1590.6,708.1 1592.3,709 1593.9,708.6 1595.6,709.3 1597.2,709.5 1598.9,710 1600.6,710.8 1602.3,711.2 1604.1,712.4 1605.8,713.2 1607.5,713.3 1609.2,713.6 1610.7,715.2 1612.1,714.8 1613.3,715.7 1614.4,717.8 1615.4,719 1616.3,720.4 1616.9,721.2 1617.4,722.2 1617.9,724.1 1618.3,726.3 1618.7,727.9 1619,729.1 1619.2,730.4 1619.4,731.8 1619.6,733.2 1619.8,734.7 1620,736.2 1620.1,737.8 1620.2,739.4 1620.3,741.1 1620.4,742.8 1620.5,744.5 1620.6,746.3 1620.7,748.1 1620.8,749.9 1620.9,751.7 1621,753.5 1621.1,755.3 1621.2,757.1 1621.3,758.9 1621.4,760.4 1621.5,762 1621.6,763.8 1621.7,765.6 1621.8,767.5 1621.8,769.5 1621.9,771.5 1622,773.6 1622.1,775.7 1622.2,777.8 1622.2,780 1622.3,782.1 1622.4,784.2 1622.5,786.3 1622.6,788.3 1622.6,790.3 1622.7,792.2 1622.8,794 1622.9,795.8 1623,797.4 1623.1,798.9 1623.2,800.3 1623.3,801.6 1623.3,802.7 1623.5,803.6 1623.6,804.3 1623.7,804.8 1623.8,805.2 1623.9,805.3 1624.1,805.1 1624.2,804.6 1624.4,803.9 1624.6,802.8 1624.7,801.5 1624.9,800 1625.1,798.3 1625.3,796.5 1625.5,794.6 1625.7,792.5 1625.9,790.4 1626.1,788.2 1626.3,786.1 1626.5,783.9 1626.7,781.8 1626.9,779.8 1627.1,777.9 1627.3,776.1 1627.5,774.5 1627.6,772.7 1627.8,770.9 1627.9,768.9 1628,766.9 1628.1,764.8 1628.2,762.7 1628.3,760.6 1628.4,758.4 1628.6,756.4 1628.7,754.3 1628.8,752.3 1629,750.4 1629.2,748.6 1629.4,746.9 1629.6,745.3 1629.8,743.9 1630.1,742.7 1630.4,741.7 1630.8,740.8 1631.2,740.2 1631.6,739.5 1633.2,739.7 1635.1,740.6 1636.8,743.4 1637.2,744.1 1637.5,745 1637.8,746.1 1638.1,747.2 1638.4,748.5 1638.6,749.9 1638.9,751.4 1639.1,753 1639.3,754.7 1639.4,756.5 1639.6,758.3 1639.7,760.2 1639.8,762.1 1639.9,764 1640,766 1640.1,768 1640.2,770 1640.3,772 1640.4,774 1640.5,776 1640.6,777.9 1640.7,779.8 1640.8,781.7 1640.9,783.4 1641,785.1 1641.2,786.8 1641.3,788.3 1641.4,789.7 1641.6,791 1641.8,792.2 1642,793.3 1642.5,795.5 1643,797.5 1643.5,799.2 1644,800.8 1644.6,802.2 1645.4,803.1 1646.6,805.8 1648,807.4 1649.3,807.9 1650.6,808.8 1651.2,808.4 1651.8,807.5 1652.4,806.2 1652.9,804.6 1653.3,802.8 1653.8,800.8 1654.3,798.8 1654.7,796.8 1655.2,795 1655.7,792.8 1656.2,791.3 1656.7,790 1657.2,787.2 1657.6,785.7 1658.1,782.8 1658.6,781.4 1659.1,780.6 1659.7,779.5 1660.3,777.7 1660.9,777.4 1662.2,778.9 1663.6,780.2 1664.9,782 1666.1,783 1666.7,782.2 1667.2,780.6 1667.5,778.4 1667.9,776 1668.2,773.7 1668.8,771.9 1669.5,771.1 1671.1,770.8 1673.1,771.8 1674.7,772.6 1675.4,773.7 1676,775.1 1676.4,776.8 1676.8,778.6 1677.1,780.6 1677.4,782.6 1677.7,784.6 1678.1,786.4 1678.5,788.2 1678.9,790.2 1679.4,792.2 1679.8,794.2 1680.2,796 1680.7,797.7 1681.1,799.1 1681.6,800.5 1683.3,801.9 1683.6,802.6 1683.8,803.5 1684,804.6 1684.3,806 1684.5,807.4 1684.6,809 1684.8,810.7 1685,812.6 1685.1,814.5 1685.3,816.4 1685.4,818.4 1685.5,820.5 1685.7,822.5 1685.8,824.5 1685.9,826.5 1686,828.4 1686.2,830.2 1686.3,831.9 1686.4,833.5 1686.6,835 1686.7,836.3 1687,838.6 1687.2,840.9 1687.4,843.2 1687.7,845.2 1687.9,846.9 1688.2,848 1688.5,848.4 1688.8,848 1689,847 1689.2,845.4 1689.4,843.5 1689.6,841.2 1689.9,838.9 1690.3,836.6 1690.7,834.5 1691.2,832.6 1691.9,830.9 1693.1,829.7 1694.5,828.7 1696,827.2 1697.5,826.5 1698.8,826.4 1700,823.7 1701.1,823.1 1702.1,821.4 1703.1,820.8 1703.5,821.2 1704,822.1 1704.4,823.4 1704.7,825.1 1705.1,827.1 1705.4,829.3 1705.7,831.6 1706,834 1706.3,836.4 1706.6,838.7 1706.8,840.8 1707.1,842.8 1707.4,844.4 1707.6,845.6 1707.9,846.4 1708.2,846.7 1708.5,846.5 1708.7,846 1708.9,845.1 1709.1,843.9 1709.3,842.5 1709.5,840.9 1709.7,839.1 1709.9,837.2 1710.1,835.1 1710.3,833 1710.5,830.8 1710.7,828.6 1710.9,826.4 1711.1,824.3 1711.4,822.2 1711.7,820.3 1711.9,818.6 1712.3,817 1712.6,815.6 1713.2,813.9 1713.8,811.8 1714.5,810.2 1715.2,807.7 1715.9,806.3 1716.8,805.1 1717.7,805.3 1719.4,804.9 1721.2,804.8 1722.9,805.1 1723.9,804.1 1724.7,803.1 1725.4,801.5 1726.2,800.6 1727,797.1 1728,797.1 1729.5,795.6 1731.3,794.1 1733.1,793.6 1735,793.1 1736.6,793.5 1738.5,794.6 1740.3,794.4 1742.2,796.6 1743.8,796.4 1745.3,797.4 1747,795.7 1748.3,794.4 1749.6,793.3 1750,793.7 1750.4,794.4 1750.8,795.5 1751.2,796.9 1751.5,798.5 1751.8,800.4 1752.2,802.5 1752.4,804.7 1752.7,807 1753,809.4 1753.3,811.8 1753.5,814.2 1753.8,816.6 1754,818.8 1754.3,821 1754.6,823 1754.8,824.8 1755.1,826.3 1755.4,827.6 1755.7,828.6 1756.1,829.2 1756.4,829.4 1756.8,829.2 1757.1,828.6 1757.5,827.7 1757.8,826.4 1758.2,824.9 1758.6,823.2 1759,821.2 1759.3,819.1 1759.7,816.9 1760.1,814.6 1760.5,812.3 1760.9,809.9 1761.3,807.6 1761.7,805.4 1762.1,803.3 1762.5,801.3 1763,799.6 1763.4,798.1 1763.8,796.8 1764.2,795.8 1764.7,795.2 1765.1,795.2 1765.6,795.7 1766.1,795.9 1766.6,796.6 1767.1,798.7 1767.6,800.4 1768.1,802.9 1768.6,803.2 1769.2,806.2 1769.7,809 1770.2,810.3 1770.8,813 1771.3,816.1 1771.8,817.8 1772.4,818.5 1772.9,821 1773.4,822 1774,822.6 1774.5,822.8 1775.5,822.1 1776.6,819.8 1777.6,817.9 1778.7,816.7 1779.7,815.7 1780.3,817 1781,817.1 1781.6,817.7 1782.3,820.6 1782.9,823 1783.5,825.4 1784.1,827.6 1784.8,829.3 1785.4,832.3 1786,832.8 1786.6,834.4 1787.2,834.4 1787.8,833.7 1788.4,834.1 1789,831.1 1789.6,830.3 1790.1,829.1 1790.7,826.7 1791.3,825.1 1791.9,822.6 1792.5,820.4 1793.1,819.7 1793.8,816.9 1794.5,815.5 1795.2,813.7 1795.9,812.4 1796.7,811.7 1797.4,810.3 1798.2,808.7 1799,807 1799.8,806.2 1800.5,803.7 1801.2,802.8 1801.8,801.3 1802.4,799.8 1802.8,798.4 1803.3,796.8 1803.6,795.2 1804,793.6 1804.3,791.9 1804.6,790.2 1804.9,788.4 1805.2,786.7 1805.4,784.9 1805.7,783.2 1805.9,781.5 1806.2,779.8 1806.4,778.1 1806.7,776.6 1806.9,775.1 1807.2,773.6 1807.5,772.3 1808,770.3 1808.4,768.5 1808.9,766.8 1809.4,765.2 1809.9,763.6 1810.4,762 1811,759.9 1811.6,758.8 1812.1,756.9 1812.7,755.3 1813.3,755 1814,753 1814.6,751.7 1815.4,749.7 1816.2,748.6 1817.1,746.9 1818.2,745.4 1819.3,744.1 1820.4,741.1 1821.6,739.7 1822.7,738.3 1823.8,735.8 1824.8,736.4 1826.4,737.9 1827.9,740 1829.1,740.5 1829.6,739.9 1830,738.7 1830.2,737.1 1830.3,735.2 1830.5,733.1 1830.7,731 1831.1,729.1 1831.6,727.2 1832.5,726.3 1833.5,724.8 1834.6,722.5 1835.8,721.9 1837.1,720.8 1838.5,719.1 1840.1,717.5 1841.8,717.8 1843.6,716.5 1845.4,715.8 1847.1,715.6 1848.9,714.6 1850.8,714.6 1852.5,714 1854,714.3 1855.1,715.1 1855.9,716.2 1856.7,718.4 1857.5,720.5 1858.3,720.5 1859.2,721.3 1860.1,718.1 1860.9,715.9 1861.8,715 1862.6,714.1 1863.3,714.5 1863.8,716.1 1864.4,718.7 1864.9,721.4 1865.5,723.6 1866.1,724.9 1866.9,726 1867.9,725.7 1869.1,724.1 1870.3,720.3 1871.6,719.5 1873,718.6 1874.6,718.9 1876.5,719.9 1878.4,721.2 1880.2,721.8 1881.6,721.4 1882.4,720.5 1883,719.6 1883.3,716.5 1883.7,714.8 1884.2,713.7 1885,712.2 1886.5,711.1 1888.3,713 1890.1,713.5 1891.9,713.7 1893,713.7 1894.2,712.4 1895.3,710.7 1896.4,709.7 1897.5,707.9 1898.5,706.1 1899.5,704.8 1900.5,703.5 1901.9,701.9 1903.3,700.6 1904.5,699.6 1905.7,698 1906.3,696.9 1906.8,695.6 1907.3,694.2 1907.7,692.7 1908.1,691.1 1908.5,689.5 1908.9,687.8 1909.3,686.1 1909.8,684.3 1910.3,682.5 1910.8,680.4 1911.3,678.9 1911.8,678.6 1912.3,676.5 1912.8,675.1 1913.4,673.6 1914,672.1 1914.5,670.6 1915.1,669.1 1915.8,667.1 1916.4,666.3 1917,664 1917.6,663.2 1918.2,660.3 1918.8,659.1 1919.4,658.5 1920,656.4 1920.6,654.6 1921.2,653.5 1921.8,651.3 1922.3,650.2 1922.9,647.6 1923.5,646.8 1924,645.1 1924.6,644 1925.2,642.5 1925.7,640.1 1926.3,639.6 1926.9,636.9 1927.4,634.7 1928,633 1928.5,633.2 1929,630.9 1929.6,629.2 1930.1,627.7 1930.6,626.1 1931,625.9 1931.5,624 1932.2,623.1 1932.8,620.6 1933.4,618.2 1934,618.2 1934.6,616.3 1935.1,615 1935.7,614.3 1936.2,611.9 1936.7,610.3 1937.1,608.9 1937.4,607.3 1937.8,605.5 1938.2,603.6 1938.5,601.7 1938.9,599.6 1939.3,597.5 1939.6,595.4 1939.9,593.4 1940.3,591.4 1940.5,589.4 1940.8,587.6 1941.1,586 1941.3,584.5 1941.5,583.2 1941.6,582.2 1941.7,581.5 1941.8,581" fill="none" stroke="#161a70" stroke-width="3.1" stroke-linejoin="round" stroke-linecap="round" />
<polygon points="1334.5,690 1337,760 1339,857.5 1343.5,857.5 1345.5,770 1347.5,700 1346,690 1341,760 1339.5,760" fill="#161a70" stroke="#161a70" stroke-width="1" stroke-linejoin="round"/>
<polygon points="1621,770 1623.2,806 1625.2,806 1626.5,780 1623.8,790" fill="#161a70" stroke="#161a70" stroke-width="1.2" stroke-linejoin="round"/>
<polygon points="1686,830 1687.8,849 1689.6,849 1691,832 1688.6,838" fill="#161a70" stroke="#161a70" stroke-width="1.2" stroke-linejoin="round"/>
<polygon points="1706,832 1707.6,847.5 1709.2,847.5 1710.6,830 1708.3,838" fill="#161a70" stroke="#161a70" stroke-width="1.2" stroke-linejoin="round"/>
<polygon points="1355.2,690 1356.2,730 1357.2,763 1359.6,763 1360.6,730 1361.2,690 1358.3,740" fill="#161a70" stroke="#161a70" stroke-width="1" stroke-linejoin="round"/>
<rect x="1084.5" y="943.8" width="137" height="48" fill="#fff" stroke="#999" stroke-width="1.2" />
<line x1="1087" y1="955.7" x2="1144" y2="955.7" stroke="#8fcc98" stroke-width="3.2" />
<line x1="1087" y1="979.4" x2="1144" y2="979.4" stroke="#161a70" stroke-width="3.1" />
<text x="1150.5" y="962.5" font-family="'Liberation Serif','Times New Roman',serif" font-size="19.5" font-weight="normal" fill="#222" text-anchor="start" textLength="68.5" lengthAdjust="spacingAndGlyphs">Filtrate</text>
<text x="1150.5" y="985.6" font-family="'Liberation Serif','Times New Roman',serif" font-size="19.5" font-weight="normal" fill="#222" text-anchor="start" textLength="68.5" lengthAdjust="spacingAndGlyphs">AgNPs</text>
<line x1="1157.8" y1="791.7" x2="1213.6" y2="767.8" stroke="#111" stroke-width="2" />
<line x1="1219" y1="839" x2="1222.5" y2="852" stroke="#666" stroke-width="1" />
<line x1="1306.5" y1="704" x2="1331.7" y2="684.1" stroke="#111" stroke-width="2" />
<line x1="1341.5" y1="858.8" x2="1341.5" y2="893.6" stroke="#111" stroke-width="2" />
<line x1="1358.4" y1="762" x2="1358.4" y2="824" stroke="#111" stroke-width="2" />
<line x1="1476.5" y1="659" x2="1476.5" y2="680" stroke="#111" stroke-width="2" />
<line x1="1554.8" y1="703" x2="1554.8" y2="736" stroke="#111" stroke-width="2" />
<line x1="1622.2" y1="807" x2="1622.2" y2="832" stroke="#111" stroke-width="2" />
<line x1="1649.7" y1="810" x2="1649.7" y2="840" stroke="#111" stroke-width="2" />
<line x1="1667.8" y1="786.4" x2="1667.8" y2="881.6" stroke="#111" stroke-width="2" />
<line x1="1688.5" y1="848" x2="1688.5" y2="863.6" stroke="#111" stroke-width="2" />
<line x1="1708.2" y1="846" x2="1708.2" y2="905.7" stroke="#111" stroke-width="2" />
<line x1="1726.3" y1="807" x2="1726.3" y2="827.7" stroke="#111" stroke-width="2" />
<line x1="1755.6" y1="829" x2="1755.6" y2="880.8" stroke="#111" stroke-width="2" />
<line x1="1774.5" y1="822" x2="1774.5" y2="933.3" stroke="#111" stroke-width="2" />
<line x1="1788.3" y1="835" x2="1788.3" y2="856.7" stroke="#111" stroke-width="2" />
<line x1="1795.2" y1="686" x2="1795.2" y2="711.8" stroke="#111" stroke-width="2" />
<line x1="1691" y1="705.8" x2="1691" y2="718.7" stroke="#111" stroke-width="2" />
<line x1="1828.2" y1="740" x2="1828.2" y2="783.5" stroke="#111" stroke-width="2" />
<line x1="1858.8" y1="720" x2="1858.8" y2="787" stroke="#111" stroke-width="2" />
<line x1="1866.9" y1="726" x2="1873" y2="743" stroke="#111" stroke-width="2" />
<line x1="1892.8" y1="714" x2="1892.8" y2="750" stroke="#111" stroke-width="2" />
<line x1="1906.5" y1="700" x2="1906.5" y2="752.5" stroke="#111" stroke-width="2" />
<line x1="1907.4" y1="593" x2="1920.3" y2="577.5" stroke="#111" stroke-width="2" />
<line x1="1590.3" y1="740" x2="1590.3" y2="746.5" stroke="#111" stroke-width="2" />
<line x1="1414.2" y1="764.3" x2="1413.2" y2="769.5" stroke="#111" stroke-width="2" />
<line x1="1146.3" y1="685.6" x2="1146.3" y2="692" stroke="#111" stroke-width="2" />
<text transform="translate(1151.8,751.6) rotate(-90)" font-family="'Liberation Serif','Times New Roman',serif" font-size="19" font-weight="bold" fill="#111" text-anchor="start" textLength="59.6" lengthAdjust="spacingAndGlyphs" stroke="#111" stroke-width="0.35">3726.26</text>
<text transform="translate(1152.5,842.4) rotate(-90)" font-family="'Liberation Serif','Times New Roman',serif" font-size="19" font-weight="bold" fill="#111" text-anchor="start" textLength="52" lengthAdjust="spacingAndGlyphs" stroke="#111" stroke-width="0.35">3451.2</text>
<text transform="translate(1225.9,914.1) rotate(-90)" font-family="'Liberation Serif','Times New Roman',serif" font-size="19" font-weight="bold" fill="#111" text-anchor="start" textLength="61.7" lengthAdjust="spacingAndGlyphs" stroke="#111" stroke-width="0.35">3429.90</text>
<text transform="translate(1307.3,770.5) rotate(-90)" font-family="'Liberation Serif','Times New Roman',serif" font-size="19" font-weight="bold" fill="#111" text-anchor="start" textLength="61" lengthAdjust="spacingAndGlyphs" stroke="#111" stroke-width="0.35">2956.11</text>
<text transform="translate(1346.5,957.7) rotate(-90)" font-family="'Liberation Serif','Times New Roman',serif" font-size="19" font-weight="bold" fill="#111" text-anchor="start" textLength="60" lengthAdjust="spacingAndGlyphs" stroke="#111" stroke-width="0.35">2918.35</text>
<text transform="translate(1363.5,891.5) rotate(-90)" font-family="'Liberation Serif','Times New Roman',serif" font-size="19" font-weight="bold" fill="#111" text-anchor="start" textLength="58.5" lengthAdjust="spacingAndGlyphs" stroke="#111" stroke-width="0.35">2850.82</text>
<text transform="translate(1418.9,831.5) rotate(-90)" font-family="'Liberation Serif','Times New Roman',serif" font-size="19" font-weight="bold" fill="#111" text-anchor="start" textLength="58.5" lengthAdjust="spacingAndGlyphs" stroke="#111" stroke-width="0.35">2619.23</text>
<text transform="translate(1485.3,740) rotate(-90)" font-family="'Liberation Serif','Times New Roman',serif" font-size="19" font-weight="bold" fill="#111" text-anchor="start" textLength="60" lengthAdjust="spacingAndGlyphs" stroke="#111" stroke-width="0.35">2355.69</text>
<text transform="translate(1558.3,773) rotate(-90)" font-family="'Liberation Serif','Times New Roman',serif" font-size="19" font-weight="bold" fill="#111" text-anchor="start" textLength="37" lengthAdjust="spacingAndGlyphs" stroke="#111" stroke-width="0.35">2026</text>
<text transform="translate(1596.8,807.6) rotate(-90)" font-family="'Liberation Serif','Times New Roman',serif" font-size="19" font-weight="bold" fill="#111" text-anchor="start" textLength="56" lengthAdjust="spacingAndGlyphs" stroke="#111" stroke-width="0.35">1873.01</text>
<text transform="translate(1626,898.9) rotate(-90)" font-family="'Liberation Serif','Times New Roman',serif" font-size="19" font-weight="bold" fill="#111" text-anchor="start" textLength="60" lengthAdjust="spacingAndGlyphs" stroke="#111" stroke-width="0.35">1732.36</text>
<text transform="translate(1654.4,908.3) rotate(-90)" font-family="'Liberation Serif','Times New Roman',serif" font-size="19" font-weight="bold" fill="#111" text-anchor="start" textLength="59" lengthAdjust="spacingAndGlyphs" stroke="#111" stroke-width="0.35">1623.67</text>
<text transform="translate(1674.2,950.5) rotate(-90)" font-family="'Liberation Serif','Times New Roman',serif" font-size="19" font-weight="bold" fill="#111" text-anchor="start" textLength="59.5" lengthAdjust="spacingAndGlyphs" stroke="#111" stroke-width="0.35">1557.62</text>
<text transform="translate(1694,923.8) rotate(-90)" font-family="'Liberation Serif','Times New Roman',serif" font-size="19" font-weight="bold" fill="#111" text-anchor="start" textLength="59.4" lengthAdjust="spacingAndGlyphs" stroke="#111" stroke-width="0.35">1466.83</text>
<text transform="translate(1712.1,972.9) rotate(-90)" font-family="'Liberation Serif','Times New Roman',serif" font-size="19" font-weight="bold" fill="#111" text-anchor="start" textLength="59.4" lengthAdjust="spacingAndGlyphs" stroke="#111" stroke-width="0.35">1383.90</text>
<text transform="translate(1732.7,899.7) rotate(-90)" font-family="'Liberation Serif','Times New Roman',serif" font-size="19" font-weight="bold" fill="#111" text-anchor="start" textLength="57.7" lengthAdjust="spacingAndGlyphs" stroke="#111" stroke-width="0.35">1305.11</text>
<text transform="translate(1761.1,945.3) rotate(-90)" font-family="'Liberation Serif','Times New Roman',serif" font-size="19" font-weight="bold" fill="#111" text-anchor="start" textLength="58.5" lengthAdjust="spacingAndGlyphs" stroke="#111" stroke-width="0.35">1178.33</text>
<text transform="translate(1779.2,997.8) rotate(-90)" font-family="'Liberation Serif','Times New Roman',serif" font-size="19" font-weight="bold" fill="#111" text-anchor="start" textLength="55" lengthAdjust="spacingAndGlyphs" stroke="#111" stroke-width="0.35">1105.11</text>
<text transform="translate(1794.7,921.2) rotate(-90)" font-family="'Liberation Serif','Times New Roman',serif" font-size="19" font-weight="bold" fill="#111" text-anchor="start" textLength="59.4" lengthAdjust="spacingAndGlyphs" stroke="#111" stroke-width="0.35">1051.34</text>
<text transform="translate(1698.3,787.3) rotate(-90)" font-family="'Liberation Serif','Times New Roman',serif" font-size="19" font-weight="bold" fill="#111" text-anchor="start" textLength="58.6" lengthAdjust="spacingAndGlyphs" stroke="#111" stroke-width="0.35">1448.66</text>
<text transform="translate(1801.9,779.2) rotate(-90)" font-family="'Liberation Serif','Times New Roman',serif" font-size="19" font-weight="bold" fill="#111" text-anchor="start" textLength="57.7" lengthAdjust="spacingAndGlyphs" stroke="#111" stroke-width="0.35">1019.21</text>
<text transform="translate(1834.5,844.6) rotate(-90)" font-family="'Liberation Serif','Times New Roman',serif" font-size="19" font-weight="bold" fill="#111" text-anchor="start" textLength="50.8" lengthAdjust="spacingAndGlyphs" stroke="#111" stroke-width="0.35">876.73</text>
<text transform="translate(1862.1,847) rotate(-90)" font-family="'Liberation Serif','Times New Roman',serif" font-size="19" font-weight="bold" fill="#111" text-anchor="start" textLength="50" lengthAdjust="spacingAndGlyphs" stroke="#111" stroke-width="0.35">790.84</text>
<text transform="translate(1879.3,793.8) rotate(-90)" font-family="'Liberation Serif','Times New Roman',serif" font-size="19" font-weight="bold" fill="#111" text-anchor="start" textLength="50.8" lengthAdjust="spacingAndGlyphs" stroke="#111" stroke-width="0.35">720.08</text>
<text transform="translate(1894,821.4) rotate(-90)" font-family="'Liberation Serif','Times New Roman',serif" font-size="19" font-weight="bold" fill="#111" text-anchor="start" textLength="51.7" lengthAdjust="spacingAndGlyphs" stroke="#111" stroke-width="0.35">619.39</text>
<text transform="translate(1917.2,816.2) rotate(-90)" font-family="'Liberation Serif','Times New Roman',serif" font-size="19" font-weight="bold" fill="#111" text-anchor="start" textLength="51.6" lengthAdjust="spacingAndGlyphs" stroke="#111" stroke-width="0.35">547.28</text>
<text transform="translate(1912.9,643) rotate(-90)" font-family="'Liberation Serif','Times New Roman',serif" font-size="19" font-weight="bold" fill="#111" text-anchor="start" textLength="50.8" lengthAdjust="spacingAndGlyphs" stroke="#111" stroke-width="0.35">479.28</text>
</svg></body></html>
